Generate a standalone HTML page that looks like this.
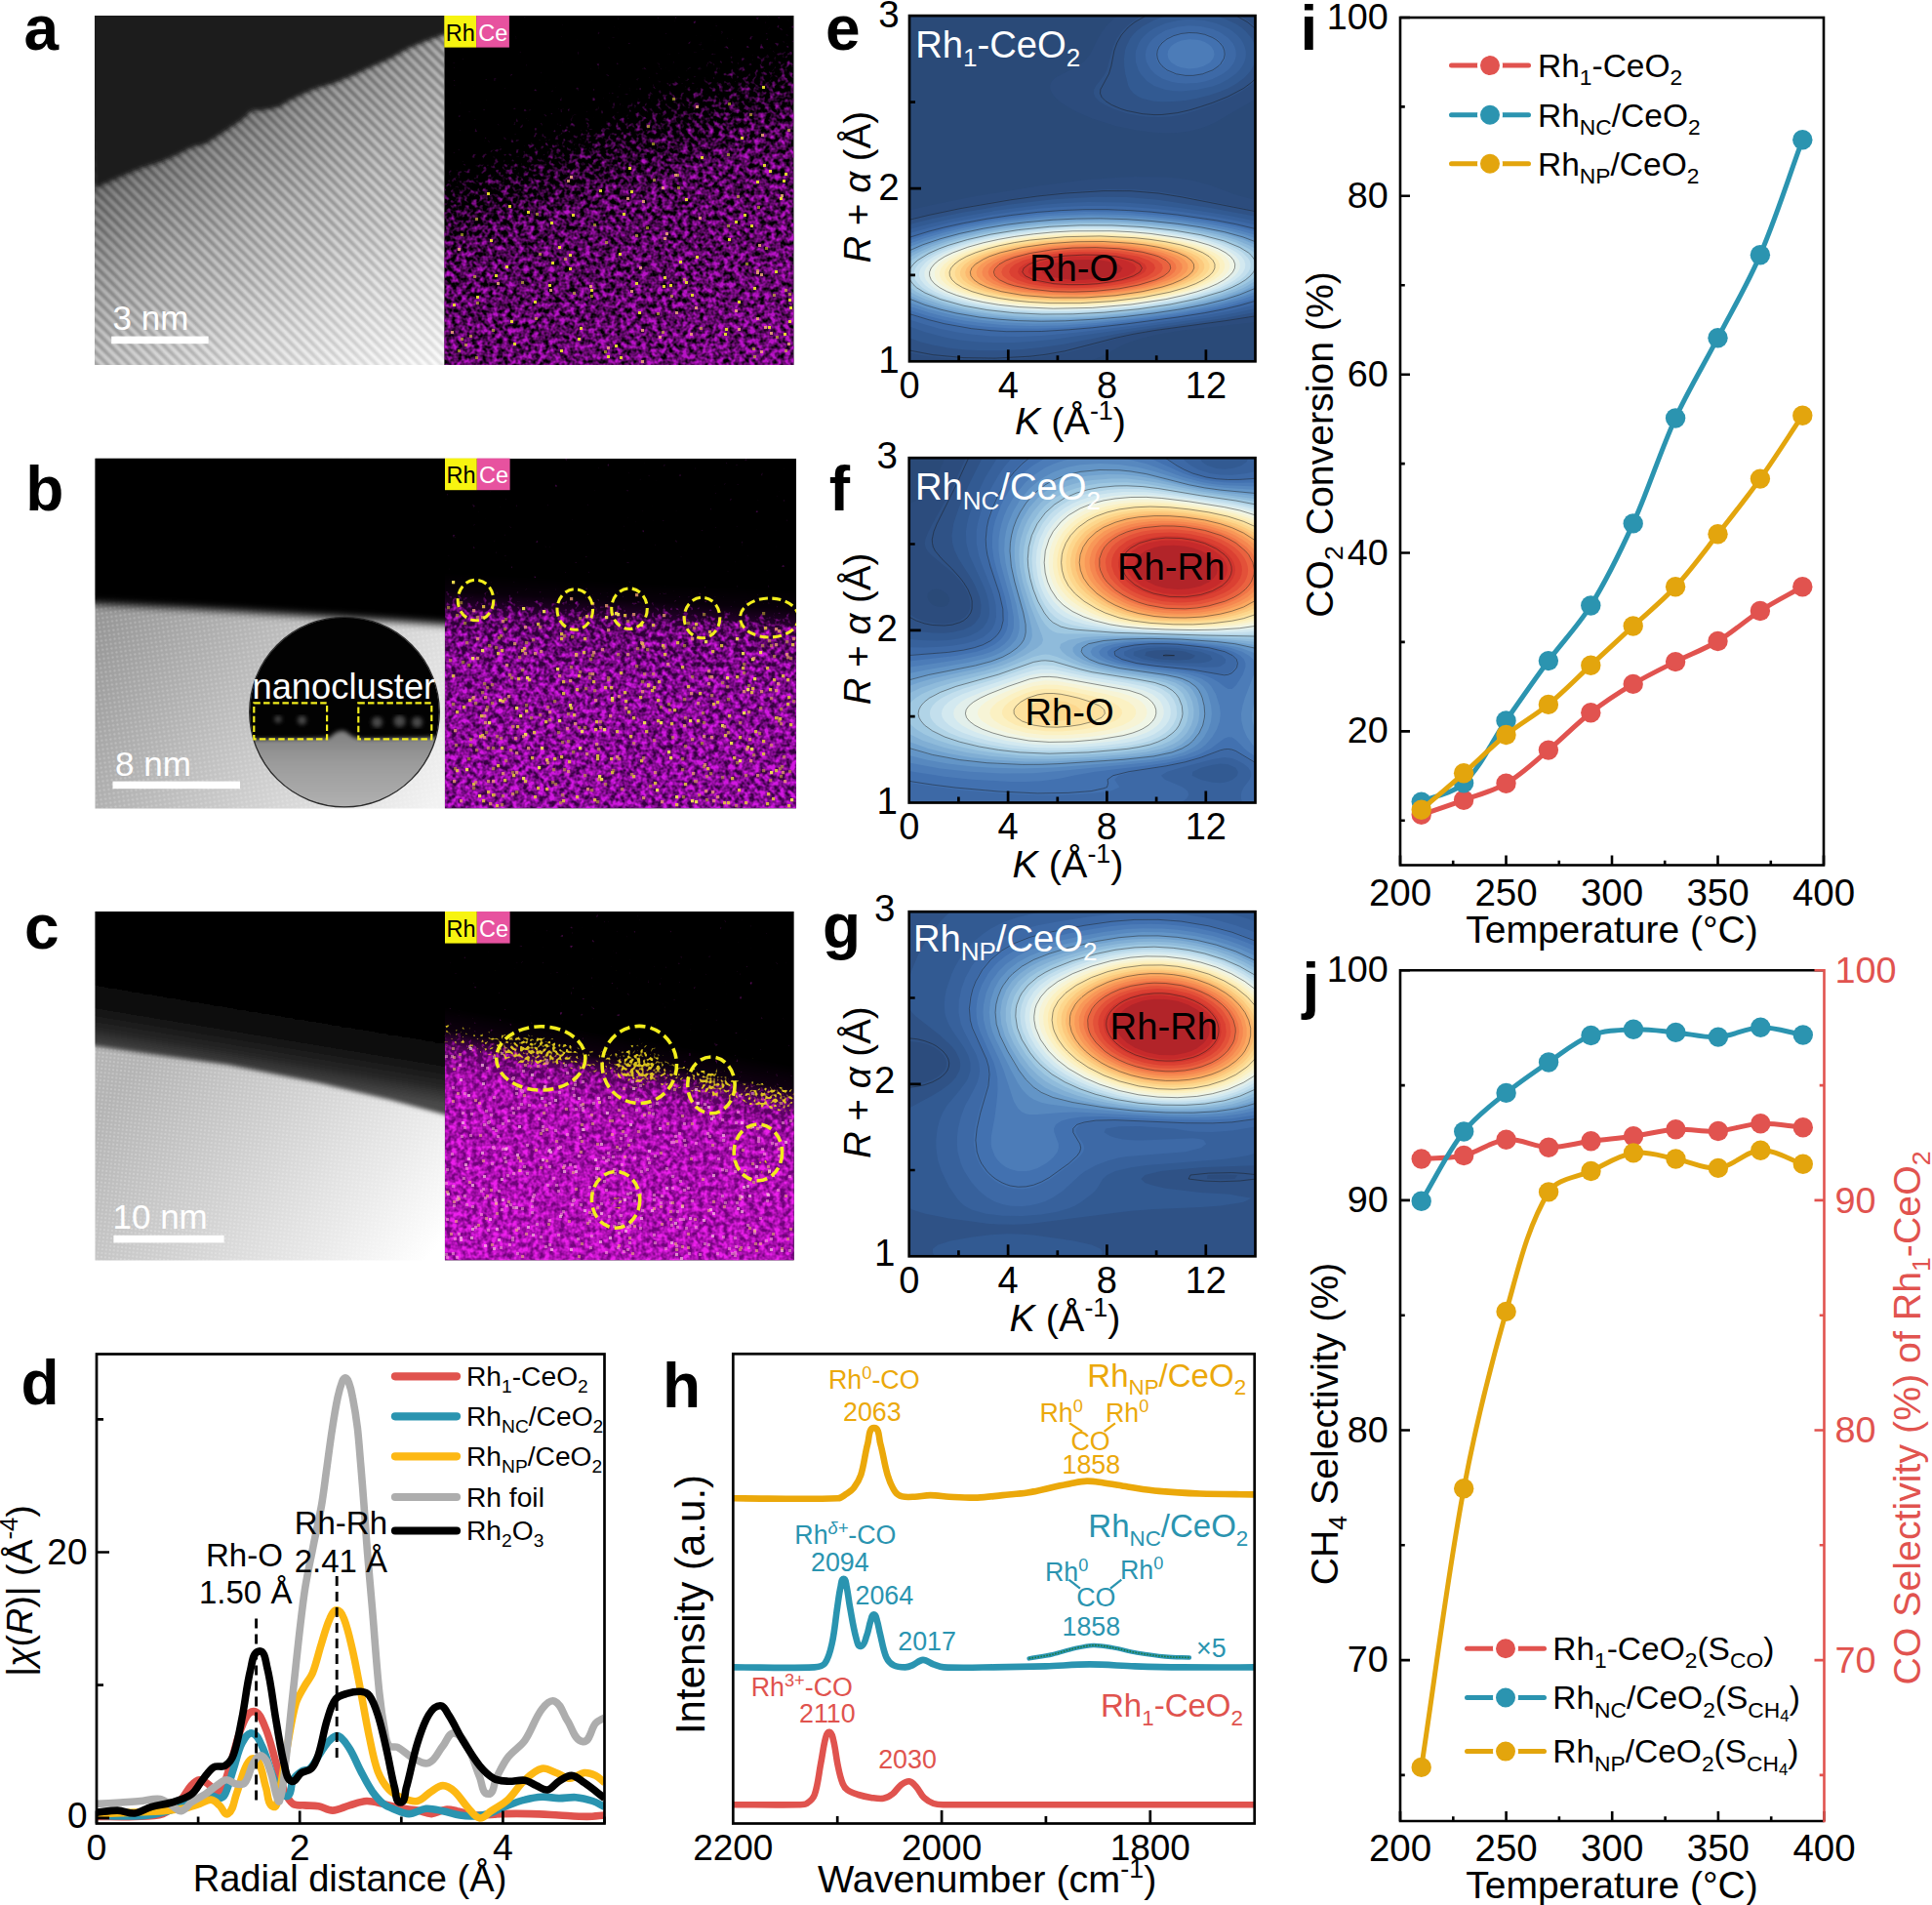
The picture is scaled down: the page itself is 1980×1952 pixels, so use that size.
<!DOCTYPE html><html><head><meta charset="utf-8"><title>Figure</title><style>html,body{margin:0;padding:0;background:#fff}svg{display:block}</style></head><body><svg width="1980" height="1952" viewBox="0 0 1980 1952" font-family="'Liberation Sans', sans-serif"><defs><clipPath id="ca1"><rect x="97" y="16" width="358.5" height="358"/></clipPath><clipPath id="ca2"><rect x="455.2" y="16" width="358.5" height="358"/></clipPath><linearGradient id="ga1" gradientUnits="userSpaceOnUse" x1="262" y1="84" x2="401" y2="397"><stop offset="0" stop-color="#505050"/><stop offset="0.14" stop-color="#868686"/><stop offset="0.4" stop-color="#b6b6b6"/><stop offset="0.7" stop-color="#e0e0e0"/><stop offset="1" stop-color="#fcfcfc"/></linearGradient><linearGradient id="ga1b" x1="0" y1="0" x2="1" y2="0"><stop offset="0" stop-color="#fff" stop-opacity="0"/><stop offset="1" stop-color="#fff" stop-opacity="0.35"/></linearGradient><pattern id="pst" patternUnits="userSpaceOnUse" width="7.8" height="20" patternTransform="rotate(-45 97 16)"><rect x="0" y="0" width="3.6" height="20" fill="#000" fill-opacity="0.34"/></pattern><filter id="bl1" x="-5%" y="-5%" width="110%" height="110%"><feGaussianBlur stdDeviation="1.3"/></filter><filter id="bl2" x="-5%" y="-5%" width="110%" height="110%"><feGaussianBlur stdDeviation="2.2"/></filter><linearGradient id="ga1s" gradientUnits="userSpaceOnUse" x1="262" y1="84" x2="401" y2="397"><stop offset="0" stop-color="#fff" stop-opacity="1"/><stop offset="0.5" stop-color="#fff" stop-opacity="0.75"/><stop offset="1" stop-color="#fff" stop-opacity="0.3"/></linearGradient><mask id="msa"><rect x="97" y="16" width="358" height="358" fill="url(#ga1s)"/></mask><linearGradient id="ga2" gradientUnits="userSpaceOnUse" x1="613" y1="74" x2="739" y2="411"><stop offset="0" stop-opacity="0"/><stop offset="0.1" stop-opacity="0.2"/><stop offset="0.2" stop-opacity="0.55"/><stop offset="0.36" stop-opacity="0.82"/><stop offset="1" stop-opacity="1"/></linearGradient><filter id="nza" filterUnits="userSpaceOnUse" x="455.2" y="16" width="358.5" height="358" color-interpolation-filters="sRGB"><feTurbulence type="fractalNoise" baseFrequency="0.19" numOctaves="2" seed="7" result="t1"/><feColorMatrix in="t1" type="matrix" values="0 0 0 0 0 0 0 0 0 0 0 0 0 0 0 1 0 0 0 0" result="n1"/><feComposite in="n1" in2="SourceAlpha" operator="arithmetic" k1="0" k2="2.2" k3="1.21" k4="-1.683" result="a1"/><feColorMatrix in="a1" type="matrix" values="0 0 0 0 0.72 0 0 0 0 0.07 0 0 0 0 0.78 0 0 0 1 0" result="m"/><feTurbulence type="fractalNoise" baseFrequency="0.2" numOctaves="1" seed="18" result="t2"/><feColorMatrix in="t2" type="matrix" values="0 0 0 0 0 0 0 0 0 0 0 0 0 0 0 0 1 0 0 0" result="n2"/><feComposite in="n2" in2="SourceAlpha" operator="arithmetic" k1="0" k2="30" k3="7.5" k4="-150" result="a2"/><feColorMatrix in="a2" type="matrix" values="0 0 0 0 0.93 0 0 0 0 0.85 0 0 0 0 0.15 0 0 0 1 0" result="yl"/><feMerge><feMergeNode in="m"/><feMergeNode in="yl"/></feMerge></filter><clipPath id="cb1"><rect x="97.5" y="469.8" width="358.5" height="358.6"/></clipPath><clipPath id="cb2"><rect x="455.8" y="469.8" width="360.3" height="358.6"/></clipPath><linearGradient id="gb1" gradientUnits="userSpaceOnUse" x1="120" y1="600" x2="440" y2="830"><stop offset="0" stop-color="#969696"/><stop offset="0.35" stop-color="#b6b6b6"/><stop offset="0.7" stop-color="#d8d8d8"/><stop offset="1" stop-color="#f2f2f2"/></linearGradient><filter id="bl4" x="-5%" y="-20%" width="110%" height="140%"><feGaussianBlur stdDeviation="4"/></filter><pattern id="pdot" patternUnits="userSpaceOnUse" width="4.6" height="4.6" patternTransform="rotate(-8)"><circle cx="2.3" cy="2.3" r="1.1" fill="#fff" fill-opacity="0.22"/></pattern><clipPath id="cbi"><circle cx="353" cy="729.6" r="97"/></clipPath><linearGradient id="gbi" x1="0" y1="0" x2="0" y2="1"><stop offset="0" stop-color="#808080"/><stop offset="0.4" stop-color="#9c9c9c"/><stop offset="1" stop-color="#b4b4b4"/></linearGradient><linearGradient id="gb2" gradientUnits="userSpaceOnUse" x1="632" y1="596" x2="620" y2="830"><stop offset="0" stop-opacity="0"/><stop offset="0.08" stop-opacity="0.15"/><stop offset="0.17" stop-opacity="0.8"/><stop offset="0.4" stop-opacity="0.95"/><stop offset="1" stop-opacity="1"/></linearGradient><filter id="nzb" filterUnits="userSpaceOnUse" x="455.8" y="469.8" width="360.3" height="358.6" color-interpolation-filters="sRGB"><feTurbulence type="fractalNoise" baseFrequency="0.19" numOctaves="2" seed="21" result="t1"/><feColorMatrix in="t1" type="matrix" values="0 0 0 0 0 0 0 0 0 0 0 0 0 0 0 1 0 0 0 0" result="n1"/><feComposite in="n1" in2="SourceAlpha" operator="arithmetic" k1="0" k2="2.4" k3="1.2" k4="-1.872" result="a1"/><feColorMatrix in="a1" type="matrix" values="0 0 0 0 0.82 0 0 0 0 0.09 0 0 0 0 0.88 0 0 0 1 0" result="m"/><feTurbulence type="fractalNoise" baseFrequency="0.21" numOctaves="1" seed="32" result="t2"/><feColorMatrix in="t2" type="matrix" values="0 0 0 0 0 0 0 0 0 0 0 0 0 0 0 0 1 0 0 0" result="n2"/><feComposite in="n2" in2="SourceAlpha" operator="arithmetic" k1="0" k2="14" k3="3.5" k4="-70" result="a2"/><feColorMatrix in="a2" type="matrix" values="0 0 0 0 0.9 0 0 0 0 0.74 0 0 0 0 0.3 0 0 0 1 0" result="yl"/><feColorMatrix in="SourceAlpha" type="matrix" values="0 0 0 0 0.22 0 0 0 0 0.0 0 0 0 0 0.26 0 0 0 1 0" result="bs"/><feMerge><feMergeNode in="bs"/><feMergeNode in="m"/><feMergeNode in="yl"/></feMerge></filter><clipPath id="cc1"><rect x="97.5" y="934" width="358.5" height="357.5"/></clipPath><clipPath id="cc2"><rect x="455.8" y="934" width="358" height="357.5"/></clipPath><linearGradient id="gc1" gradientUnits="userSpaceOnUse" x1="150" y1="1080" x2="430" y2="1300"><stop offset="0" stop-color="#b4b4b4"/><stop offset="0.4" stop-color="#d0d0d0"/><stop offset="0.75" stop-color="#eaeaea"/><stop offset="1" stop-color="#ffffff"/></linearGradient><linearGradient id="gc1d" gradientUnits="userSpaceOnUse" x1="288" y1="1030" x2="276" y2="1102"><stop offset="0" stop-color="#030303"/><stop offset="0.4" stop-color="#0c0c0c"/><stop offset="0.75" stop-color="#262626"/><stop offset="1" stop-color="#484848"/></linearGradient><pattern id="pdot2" patternUnits="userSpaceOnUse" width="4" height="4" patternTransform="rotate(6)"><circle cx="2" cy="2" r="0.9" fill="#fff" fill-opacity="0.3"/></pattern><linearGradient id="gc2" gradientUnits="userSpaceOnUse" x1="650" y1="1064" x2="610" y2="1302"><stop offset="0" stop-opacity="0"/><stop offset="0.1" stop-opacity="0.12"/><stop offset="0.17" stop-opacity="0.7"/><stop offset="0.3" stop-opacity="0.92"/><stop offset="1" stop-opacity="1"/></linearGradient><filter id="nzc" filterUnits="userSpaceOnUse" x="455.8" y="934" width="358" height="357.5" color-interpolation-filters="sRGB"><feTurbulence type="fractalNoise" baseFrequency="0.19" numOctaves="2" seed="33" result="t1"/><feColorMatrix in="t1" type="matrix" values="0 0 0 0 0 0 0 0 0 0 0 0 0 0 0 1 0 0 0 0" result="n1"/><feComposite in="n1" in2="SourceAlpha" operator="arithmetic" k1="0" k2="2.4" k3="1.2" k4="-1.872" result="a1"/><feColorMatrix in="a1" type="matrix" values="0 0 0 0 0.92 0 0 0 0 0.12 0 0 0 0 0.92 0 0 0 1 0" result="m"/><feTurbulence type="fractalNoise" baseFrequency="0.17" numOctaves="1" seed="44" result="t2"/><feColorMatrix in="t2" type="matrix" values="0 0 0 0 0 0 0 0 0 0 0 0 0 0 0 0 1 0 0 0" result="n2"/><feComposite in="n2" in2="SourceAlpha" operator="arithmetic" k1="0" k2="10" k3="2.5" k4="-50" result="a2"/><feColorMatrix in="a2" type="matrix" values="0 0 0 0 0.97 0 0 0 0 0.62 0 0 0 0 0.78 0 0 0 1 0" result="yl"/><feColorMatrix in="SourceAlpha" type="matrix" values="0 0 0 0 0.46 0 0 0 0 0.01 0 0 0 0 0.50 0 0 0 1 0" result="bs"/><feMerge><feMergeNode in="bs"/><feMergeNode in="m"/><feMergeNode in="yl"/></feMerge></filter><radialGradient id="rgy"><stop offset="0" stop-opacity="1"/><stop offset="0.5" stop-opacity="0.8"/><stop offset="1" stop-opacity="0"/></radialGradient><filter id="nzy" filterUnits="userSpaceOnUse" x="455.8" y="934" width="358" height="357.5" color-interpolation-filters="sRGB"><feTurbulence type="fractalNoise" baseFrequency="0.3" numOctaves="1" seed="5" result="t"/><feColorMatrix in="t" type="matrix" values="0 0 0 0 0 0 0 0 0 0 0 0 0 0 0 1 0 0 0 0" result="n"/><feComposite in="n" in2="SourceAlpha" operator="arithmetic" k1="0" k2="7" k3="3.0" k4="-5.75" result="a"/><feColorMatrix in="a" type="matrix" values="0 0 0 0 0.93 0 0 0 0 0.84 0 0 0 0 0.12 0 0 0 0.9 0"/></filter><clipPath id="ce"><rect x="932" y="16.1" width="354.5" height="354.2"/></clipPath><clipPath id="cf"><rect x="931.7" y="469.2" width="354.8" height="353.3"/></clipPath><clipPath id="cg"><rect x="931.7" y="934.2" width="354.8" height="353.1"/></clipPath><clipPath id="cd"><rect x="99" y="1387.5" width="520.5" height="481"/></clipPath><clipPath id="ch"><rect x="751.3" y="1387.3" width="534.4" height="481.2"/></clipPath></defs><rect width="1980" height="1952" fill="#fff"/><g clip-path="url(#ca1)">
<rect x="97" y="16" width="358.5" height="358" fill="url(#ga1)"/>
<rect x="97" y="16" width="358.5" height="358" fill="url(#ga1b)"/>
<g mask="url(#msa)"><rect x="90" y="10" width="372" height="372" fill="url(#pst)" filter="url(#bl1)"/></g>
<path d="M90 8L97 192.9L120 182.8L144.3 172.6L165 166L182 158.4L197 150.7L210.4 147.7L230 134.9L248.2 122.7L257.7 113.5L270 113.1L286 109.8L295.5 103.8L310 96.8L323.8 90.7L343 85.3L361.6 77.5L380 68.9L399.4 60.4L418 50.1L437.2 41.9L455.5 35.4L462 30L462 8Z" fill="#1c1c1c" filter="url(#bl2)"/>
<rect x="114.2" y="344.6" width="99.4" height="7.6" fill="#fff"/>
<text x="115.5" y="338" font-size="35" text-anchor="start" fill="#fff" ><tspan>3 nm</tspan></text>
</g>
<g clip-path="url(#ca2)"><rect x="455.2" y="16" width="358.5" height="358" fill="#000"/>
<rect x="455.2" y="16" width="358.5" height="358" fill="url(#ga2)" filter="url(#nza)"/>
<path d="M488 303h3v3h-3zM809 314h3v3h-3zM622 364h3v3h-3zM679 292h3v3h-3zM574 358h3v3h-3zM502 245h3v3h-3zM769 230h3v3h-3zM547 308h3v3h-3zM518 272h3v3h-3zM654 319h3v3h-3zM781 88h3v3h-3zM586 219h3v3h-3zM762 219h3v3h-3zM808 328h3v3h-3zM572 252h3v3h-3zM742 341h3v3h-3zM804 177h3v3h-3zM464 311h3v3h-3zM746 244h3v3h-3zM759 140h3v3h-3zM651 289h3v3h-3zM630 353h3v3h-3zM799 202h3v3h-3zM646 195h3v3h-3zM775 185h3v3h-3zM499 197h3v3h-3zM644 171h3v3h-3zM743 336h3v3h-3zM605 296h3v3h-3zM634 259h3v3h-3zM638 218h3v3h-3zM718 160h3v3h-3zM635 365h3v3h-3zM702 288h3v3h-3zM594 335h3v3h-3zM794 277h3v3h-3zM772 294h3v3h-3zM680 283h3v3h-3zM803 341h3v3h-3zM782 168h3v3h-3zM562 291h3v3h-3zM713 262h3v3h-3zM583 274h3v3h-3zM787 334h3v3h-3zM507 281h3v3h-3zM708 301h3v3h-3zM686 291h3v3h-3zM756 308h3v3h-3zM583 260h3v3h-3zM540 216h3v3h-3zM696 267h3v3h-3zM753 226h3v3h-3zM526 351h3v3h-3zM808 306h3v3h-3zM521 210h3v3h-3zM809 314h3v3h-3zM564 227h3v3h-3zM614 194h3v3h-3zM702 203h3v3h-3zM802 184h3v3h-3zM523 328h3v3h-3zM788 174h3v3h-3zM565 268h3v3h-3zM592 346h3v3h-3z" fill="#e8e02a" fill-opacity="0.95"/>
<path d="M804 358h3v3h-3zM755 200h3v3h-3zM487 223h3v3h-3zM746 105h3v3h-3zM469 358h3v3h-3zM772 364h3v3h-3zM662 232h3v3h-3zM485 282h3v3h-3zM663 128h3v3h-3zM472 239h3v3h-3zM578 264h3v3h-3zM678 339h3v3h-3zM620 247h3v3h-3zM795 344h3v3h-3zM673 320h3v3h-3zM608 229h3v3h-3zM472 346h3v3h-3zM476 352h3v3h-3zM668 146h3v3h-3zM745 230h3v3h-3zM693 178h3v3h-3zM552 259h3v3h-3zM651 240h3v3h-3zM807 132h3v3h-3zM768 116h3v3h-3zM687 302h3v3h-3zM717 335h3v3h-3zM534 288h3v3h-3zM694 191h3v3h-3zM771 356h3v3h-3zM792 301h3v3h-3zM689 100h3v3h-3zM587 299h3v3h-3zM548 325h3v3h-3zM488 309h3v3h-3zM619 359h3v3h-3zM808 300h3v3h-3zM481 343h3v3h-3zM804 296h3v3h-3zM776 211h3v3h-3zM504 337h3v3h-3zM549 218h3v3h-3zM669 183h3v3h-3zM700 285h3v3h-3zM775 276h3v3h-3zM605 302h3v3h-3zM745 157h3v3h-3zM764 269h3v3h-3zM784 253h3v3h-3zM487 365h3v3h-3z" fill="#d8cc30" fill-opacity="0.6"/>
<path d="M691 178h3v3h-3zM462 339h3v3h-3zM775 278h3v3h-3zM775 325h3v3h-3zM716 222h3v3h-3zM777 250h3v3h-3zM753 317h3v3h-3zM678 191h3v3h-3zM646 297h3v3h-3zM712 314h3v3h-3zM756 336h3v3h-3zM800 199h3v3h-3zM675 344h3v3h-3zM680 243h3v3h-3zM713 108h3v3h-3zM779 280h3v3h-3zM682 238h3v3h-3zM658 205h3v3h-3zM657 369h3v3h-3zM807 351h3v3h-3zM604 292h3v3h-3zM789 340h3v3h-3zM707 341h3v3h-3zM692 319h3v3h-3zM780 137h3v3h-3zM509 289h3v3h-3zM622 355h3v3h-3zM563 296h3v3h-3zM655 273h3v3h-3zM584 180h3v3h-3zM469 254h3v3h-3zM642 202h3v3h-3zM779 359h3v3h-3zM657 337h3v3h-3zM783 334h3v3h-3zM581 184h3v3h-3z" fill="#f0a878" fill-opacity="0.85"/>
</g>
<rect x="455.3" y="16" width="32.8" height="32.6" fill="#f7f410"/><rect x="488.1" y="16" width="33.8" height="32.6" fill="#e7529f"/>
<text x="456.8" y="41.5" font-size="23.5" text-anchor="start" fill="#000" ><tspan>Rh</tspan></text>
<text x="490.3" y="41.5" font-size="23.5" text-anchor="start" fill="#fff" ><tspan>Ce</tspan></text>
<text x="24.5" y="51.3" font-size="64" text-anchor="start" fill="#000" font-weight="bold" ><tspan>a</tspan></text>
<g clip-path="url(#cb1)">
<rect x="97" y="469" width="360" height="360" fill="url(#gb1)"/>
<rect x="97" y="469" width="360" height="360" fill="url(#pdot)"/>
<path d="M85 460H470V641L400 636L300 630L200 624L85 618Z" fill="#030303" filter="url(#bl4)"/>
<g clip-path="url(#cbi)"><rect x="250" y="628" width="206" height="204" fill="#020202"/>
<path d="M245 758C290 757 320 757 338 756C343 750 350 747 355 750C358 752 362 757 372 757C400 757 430 756 460 755V835H245Z" fill="url(#gbi)" filter="url(#bl2)"/>
<g fill="#4a4a4a" filter="url(#bl2)"><circle cx="285" cy="737" r="3.6"/><circle cx="309.5" cy="738" r="4.6"/><circle cx="386.5" cy="740" r="5.5"/><circle cx="409.5" cy="739" r="6"/><circle cx="427.5" cy="740" r="5.5"/></g>
</g>
<circle cx="353" cy="729.6" r="97.3" fill="none" stroke="#2a2a2a" stroke-width="1.3"/>
<g fill="none" stroke="#f3ee1c" stroke-width="2.2" stroke-dasharray="6.5 3.2"><rect x="260.3" y="720.3" width="74.8" height="37"/><rect x="367.3" y="720.3" width="75" height="37"/></g>
<text x="258.5" y="716.4" font-size="36.3" text-anchor="start" fill="#fff" ><tspan>nanocluster</tspan></text>
<rect x="115.5" y="800.6" width="130.5" height="7.6" fill="#fff"/>
<text x="118" y="794.7" font-size="35" text-anchor="start" fill="#fff" ><tspan>8 nm</tspan></text>
</g>
<g clip-path="url(#cb2)"><rect x="455.8" y="469.8" width="360.3" height="358.6" fill="#000"/>
<rect x="455.8" y="469.8" width="360.3" height="358.6" fill="url(#gb2)" filter="url(#nzb)"/>
<path d="M625 703h3.2v3.2h-3.2zM514 717h3.2v3.2h-3.2zM668 639h3.2v3.2h-3.2zM516 798h3.2v3.2h-3.2zM807 824h3.2v3.2h-3.2zM550 806h3.2v3.2h-3.2zM640 717h3.2v3.2h-3.2zM587 731h3.2v3.2h-3.2zM536 663h3.2v3.2h-3.2zM547 815h3.2v3.2h-3.2zM567 776h3.2v3.2h-3.2zM673 737h3.2v3.2h-3.2zM798 735h3.2v3.2h-3.2zM537 799h3.2v3.2h-3.2zM785 683h3.2v3.2h-3.2zM763 821h3.2v3.2h-3.2zM678 660h3.2v3.2h-3.2zM492 732h3.2v3.2h-3.2zM574 648h3.2v3.2h-3.2zM598 653h3.2v3.2h-3.2zM745 821h3.2v3.2h-3.2zM584 724h3.2v3.2h-3.2zM670 801h3.2v3.2h-3.2zM729 666h3.2v3.2h-3.2zM504 813h3.2v3.2h-3.2zM751 775h3.2v3.2h-3.2zM558 738h3.2v3.2h-3.2zM463 691h3.2v3.2h-3.2zM788 705h3.2v3.2h-3.2zM499 810h3.2v3.2h-3.2zM770 704h3.2v3.2h-3.2zM673 716h3.2v3.2h-3.2zM544 775h3.2v3.2h-3.2zM769 708h3.2v3.2h-3.2zM611 776h3.2v3.2h-3.2zM704 702h3.2v3.2h-3.2zM494 620h3.2v3.2h-3.2zM746 732h3.2v3.2h-3.2zM807 713h3.2v3.2h-3.2zM738 660h3.2v3.2h-3.2zM801 691h3.2v3.2h-3.2zM730 720h3.2v3.2h-3.2zM643 728h3.2v3.2h-3.2zM619 703h3.2v3.2h-3.2zM655 713h3.2v3.2h-3.2zM610 738h3.2v3.2h-3.2zM635 688h3.2v3.2h-3.2zM760 683h3.2v3.2h-3.2zM559 777h3.2v3.2h-3.2zM509 783h3.2v3.2h-3.2zM669 703h3.2v3.2h-3.2zM607 697h3.2v3.2h-3.2zM661 748h3.2v3.2h-3.2zM467 788h3.2v3.2h-3.2zM663 701h3.2v3.2h-3.2zM609 746h3.2v3.2h-3.2zM626 790h3.2v3.2h-3.2zM639 708h3.2v3.2h-3.2zM525 793h3.2v3.2h-3.2zM474 723h3.2v3.2h-3.2zM631 748h3.2v3.2h-3.2zM756 808h3.2v3.2h-3.2zM513 765h3.2v3.2h-3.2zM687 740h3.2v3.2h-3.2zM639 629h3.2v3.2h-3.2zM809 741h3.2v3.2h-3.2zM480 716h3.2v3.2h-3.2zM674 697h3.2v3.2h-3.2zM509 668h3.2v3.2h-3.2zM781 758h3.2v3.2h-3.2zM734 718h3.2v3.2h-3.2zM582 779h3.2v3.2h-3.2zM785 822h3.2v3.2h-3.2zM597 667h3.2v3.2h-3.2zM576 709h3.2v3.2h-3.2zM749 796h3.2v3.2h-3.2zM792 695h3.2v3.2h-3.2zM794 734h3.2v3.2h-3.2zM589 669h3.2v3.2h-3.2zM648 734h3.2v3.2h-3.2zM765 764h3.2v3.2h-3.2zM491 753h3.2v3.2h-3.2zM541 695h3.2v3.2h-3.2zM724 786h3.2v3.2h-3.2zM574 774h3.2v3.2h-3.2zM698 682h3.2v3.2h-3.2zM538 727h3.2v3.2h-3.2zM513 665h3.2v3.2h-3.2zM493 752h3.2v3.2h-3.2zM690 726h3.2v3.2h-3.2zM550 638h3.2v3.2h-3.2zM773 748h3.2v3.2h-3.2zM467 728h3.2v3.2h-3.2zM811 659h3.2v3.2h-3.2zM754 692h3.2v3.2h-3.2zM625 776h3.2v3.2h-3.2zM494 819h3.2v3.2h-3.2zM508 824h3.2v3.2h-3.2zM590 705h3.2v3.2h-3.2zM701 802h3.2v3.2h-3.2zM576 697h3.2v3.2h-3.2zM529 743h3.2v3.2h-3.2zM693 657h3.2v3.2h-3.2zM645 753h3.2v3.2h-3.2zM757 754h3.2v3.2h-3.2zM786 812h3.2v3.2h-3.2zM806 720h3.2v3.2h-3.2zM592 691h3.2v3.2h-3.2zM574 653h3.2v3.2h-3.2zM559 807h3.2v3.2h-3.2zM806 695h3.2v3.2h-3.2zM546 749h3.2v3.2h-3.2zM716 709h3.2v3.2h-3.2zM656 778h3.2v3.2h-3.2zM692 823h3.2v3.2h-3.2zM781 771h3.2v3.2h-3.2zM791 817h3.2v3.2h-3.2zM657 658h3.2v3.2h-3.2zM590 815h3.2v3.2h-3.2zM600 630h3.2v3.2h-3.2zM680 669h3.2v3.2h-3.2zM611 773h3.2v3.2h-3.2zM626 716h3.2v3.2h-3.2zM714 737h3.2v3.2h-3.2zM608 818h3.2v3.2h-3.2zM794 788h3.2v3.2h-3.2zM534 665h3.2v3.2h-3.2zM712 638h3.2v3.2h-3.2zM741 821h3.2v3.2h-3.2zM667 706h3.2v3.2h-3.2zM530 694h3.2v3.2h-3.2zM742 752h3.2v3.2h-3.2zM576 819h3.2v3.2h-3.2zM726 646h3.2v3.2h-3.2zM648 794h3.2v3.2h-3.2zM783 642h3.2v3.2h-3.2zM484 802h3.2v3.2h-3.2z" fill="#e2c040" fill-opacity="0.9"/>
<path d="M745 715h3.2v3.2h-3.2zM483 714h3.2v3.2h-3.2zM715 813h3.2v3.2h-3.2zM585 651h3.2v3.2h-3.2zM466 762h3.2v3.2h-3.2zM723 794h3.2v3.2h-3.2zM571 749h3.2v3.2h-3.2zM538 657h3.2v3.2h-3.2zM799 740h3.2v3.2h-3.2zM777 750h3.2v3.2h-3.2zM780 660h3.2v3.2h-3.2zM789 714h3.2v3.2h-3.2zM500 660h3.2v3.2h-3.2zM567 717h3.2v3.2h-3.2zM581 730h3.2v3.2h-3.2zM603 689h3.2v3.2h-3.2zM754 780h3.2v3.2h-3.2zM700 660h3.2v3.2h-3.2zM688 754h3.2v3.2h-3.2zM622 695h3.2v3.2h-3.2zM593 687h3.2v3.2h-3.2zM795 734h3.2v3.2h-3.2zM651 681h3.2v3.2h-3.2zM619 802h3.2v3.2h-3.2zM643 728h3.2v3.2h-3.2zM676 723h3.2v3.2h-3.2zM465 786h3.2v3.2h-3.2zM499 765h3.2v3.2h-3.2zM763 793h3.2v3.2h-3.2zM646 792h3.2v3.2h-3.2zM522 767h3.2v3.2h-3.2zM652 663h3.2v3.2h-3.2zM766 701h3.2v3.2h-3.2zM599 704h3.2v3.2h-3.2zM568 802h3.2v3.2h-3.2zM627 788h3.2v3.2h-3.2zM573 821h3.2v3.2h-3.2zM799 794h3.2v3.2h-3.2zM507 662h3.2v3.2h-3.2zM612 797h3.2v3.2h-3.2zM739 795h3.2v3.2h-3.2zM498 703h3.2v3.2h-3.2zM698 776h3.2v3.2h-3.2zM701 734h3.2v3.2h-3.2zM662 664h3.2v3.2h-3.2zM665 804h3.2v3.2h-3.2zM521 690h3.2v3.2h-3.2zM684 720h3.2v3.2h-3.2zM467 629h3.2v3.2h-3.2zM493 708h3.2v3.2h-3.2zM679 662h3.2v3.2h-3.2zM802 774h3.2v3.2h-3.2zM798 786h3.2v3.2h-3.2zM598 793h3.2v3.2h-3.2zM728 711h3.2v3.2h-3.2zM504 765h3.2v3.2h-3.2zM552 641h3.2v3.2h-3.2zM460 675h3.2v3.2h-3.2zM669 757h3.2v3.2h-3.2zM604 674h3.2v3.2h-3.2zM566 787h3.2v3.2h-3.2zM642 635h3.2v3.2h-3.2zM503 700h3.2v3.2h-3.2zM514 814h3.2v3.2h-3.2zM727 791h3.2v3.2h-3.2zM458 621h3.2v3.2h-3.2zM577 650h3.2v3.2h-3.2zM787 655h3.2v3.2h-3.2zM805 656h3.2v3.2h-3.2zM808 789h3.2v3.2h-3.2zM577 787h3.2v3.2h-3.2zM477 657h3.2v3.2h-3.2zM622 693h3.2v3.2h-3.2zM753 824h3.2v3.2h-3.2zM720 784h3.2v3.2h-3.2zM487 767h3.2v3.2h-3.2zM537 751h3.2v3.2h-3.2zM788 798h3.2v3.2h-3.2zM633 776h3.2v3.2h-3.2zM812 717h3.2v3.2h-3.2zM708 692h3.2v3.2h-3.2zM575 759h3.2v3.2h-3.2zM720 628h3.2v3.2h-3.2zM513 823h3.2v3.2h-3.2zM497 749h3.2v3.2h-3.2zM614 738h3.2v3.2h-3.2zM581 758h3.2v3.2h-3.2zM778 724h3.2v3.2h-3.2zM565 800h3.2v3.2h-3.2zM657 697h3.2v3.2h-3.2zM531 672h3.2v3.2h-3.2zM608 706h3.2v3.2h-3.2zM606 670h3.2v3.2h-3.2zM484 806h3.2v3.2h-3.2zM797 737h3.2v3.2h-3.2zM719 729h3.2v3.2h-3.2zM586 769h3.2v3.2h-3.2zM726 692h3.2v3.2h-3.2zM710 642h3.2v3.2h-3.2zM481 762h3.2v3.2h-3.2zM503 719h3.2v3.2h-3.2zM712 799h3.2v3.2h-3.2zM538 721h3.2v3.2h-3.2zM800 784h3.2v3.2h-3.2zM809 673h3.2v3.2h-3.2zM534 685h3.2v3.2h-3.2zM479 776h3.2v3.2h-3.2zM479 680h3.2v3.2h-3.2zM598 744h3.2v3.2h-3.2zM771 772h3.2v3.2h-3.2zM806 672h3.2v3.2h-3.2zM560 723h3.2v3.2h-3.2zM512 650h3.2v3.2h-3.2zM545 654h3.2v3.2h-3.2zM700 715h3.2v3.2h-3.2zM761 679h3.2v3.2h-3.2zM761 688h3.2v3.2h-3.2zM524 743h3.2v3.2h-3.2zM781 788h3.2v3.2h-3.2zM475 637h3.2v3.2h-3.2zM488 631h3.2v3.2h-3.2zM659 689h3.2v3.2h-3.2zM789 660h3.2v3.2h-3.2zM512 755h3.2v3.2h-3.2zM543 734h3.2v3.2h-3.2zM701 763h3.2v3.2h-3.2zM528 810h3.2v3.2h-3.2zM723 818h3.2v3.2h-3.2zM524 790h3.2v3.2h-3.2zM699 815h3.2v3.2h-3.2zM799 725h3.2v3.2h-3.2zM504 786h3.2v3.2h-3.2zM605 808h3.2v3.2h-3.2zM636 807h3.2v3.2h-3.2zM516 643h3.2v3.2h-3.2zM517 778h3.2v3.2h-3.2zM562 736h3.2v3.2h-3.2zM471 616h3.2v3.2h-3.2zM495 699h3.2v3.2h-3.2zM516 715h3.2v3.2h-3.2zM718 760h3.2v3.2h-3.2zM498 723h3.2v3.2h-3.2zM792 671h3.2v3.2h-3.2zM481 762h3.2v3.2h-3.2zM668 689h3.2v3.2h-3.2zM698 787h3.2v3.2h-3.2zM517 633h3.2v3.2h-3.2zM611 820h3.2v3.2h-3.2zM481 756h3.2v3.2h-3.2zM486 800h3.2v3.2h-3.2zM739 698h3.2v3.2h-3.2zM711 799h3.2v3.2h-3.2zM612 766h3.2v3.2h-3.2zM584 682h3.2v3.2h-3.2zM486 719h3.2v3.2h-3.2zM781 627h3.2v3.2h-3.2zM510 652h3.2v3.2h-3.2zM473 677h3.2v3.2h-3.2zM745 749h3.2v3.2h-3.2zM505 813h3.2v3.2h-3.2zM632 669h3.2v3.2h-3.2zM648 760h3.2v3.2h-3.2zM720 739h3.2v3.2h-3.2zM704 637h3.2v3.2h-3.2zM603 693h3.2v3.2h-3.2zM789 762h3.2v3.2h-3.2zM575 813h3.2v3.2h-3.2zM685 726h3.2v3.2h-3.2zM463 720h3.2v3.2h-3.2zM523 693h3.2v3.2h-3.2zM758 640h3.2v3.2h-3.2zM744 702h3.2v3.2h-3.2zM508 753h3.2v3.2h-3.2zM593 632h3.2v3.2h-3.2zM552 731h3.2v3.2h-3.2zM757 739h3.2v3.2h-3.2zM658 775h3.2v3.2h-3.2zM592 744h3.2v3.2h-3.2z" fill="#c8a838" fill-opacity="0.6"/>
<path d="M535 622h3.2v3.2h-3.2zM493 665h3.2v3.2h-3.2zM630 627h3.2v3.2h-3.2zM535 796h3.2v3.2h-3.2zM692 815h3.2v3.2h-3.2zM684 769h3.2v3.2h-3.2zM672 808h3.2v3.2h-3.2zM722 656h3.2v3.2h-3.2zM706 737h3.2v3.2h-3.2zM708 819h3.2v3.2h-3.2zM551 785h3.2v3.2h-3.2zM477 787h3.2v3.2h-3.2zM618 746h3.2v3.2h-3.2zM593 765h3.2v3.2h-3.2zM626 714h3.2v3.2h-3.2zM712 820h3.2v3.2h-3.2zM537 751h3.2v3.2h-3.2zM748 760h3.2v3.2h-3.2zM810 818h3.2v3.2h-3.2zM490 814h3.2v3.2h-3.2zM754 653h3.2v3.2h-3.2zM620 631h3.2v3.2h-3.2zM572 737h3.2v3.2h-3.2zM554 765h3.2v3.2h-3.2zM528 724h3.2v3.2h-3.2zM556 625h3.2v3.2h-3.2zM765 705h3.2v3.2h-3.2zM770 674h3.2v3.2h-3.2zM511 716h3.2v3.2h-3.2zM595 748h3.2v3.2h-3.2zM583 721h3.2v3.2h-3.2zM570 684h3.2v3.2h-3.2zM757 778h3.2v3.2h-3.2zM686 775h3.2v3.2h-3.2zM615 797h3.2v3.2h-3.2zM659 739h3.2v3.2h-3.2zM772 694h3.2v3.2h-3.2zM632 628h3.2v3.2h-3.2zM760 668h3.2v3.2h-3.2zM789 790h3.2v3.2h-3.2zM744 693h3.2v3.2h-3.2zM676 739h3.2v3.2h-3.2zM656 639h3.2v3.2h-3.2zM739 742h3.2v3.2h-3.2zM532 732h3.2v3.2h-3.2zM769 766h3.2v3.2h-3.2zM761 729h3.2v3.2h-3.2zM778 667h3.2v3.2h-3.2zM463 595h3.2v3.2h-3.2zM613 794h3.2v3.2h-3.2zM483 673h3.2v3.2h-3.2zM500 739h3.2v3.2h-3.2zM539 693h3.2v3.2h-3.2z" fill="#f0e050" fill-opacity="0.95"/>
<path d="M514 791h3.2v3.2h-3.2zM782 651h3.2v3.2h-3.2zM560 780h3.2v3.2h-3.2zM805 669h3.2v3.2h-3.2zM709 791h3.2v3.2h-3.2zM514 635h3.2v3.2h-3.2zM764 766h3.2v3.2h-3.2zM640 724h3.2v3.2h-3.2zM631 774h3.2v3.2h-3.2zM496 713h3.2v3.2h-3.2zM537 641h3.2v3.2h-3.2zM683 679h3.2v3.2h-3.2zM801 790h3.2v3.2h-3.2zM584 612h3.2v3.2h-3.2zM642 669h3.2v3.2h-3.2zM658 661h3.2v3.2h-3.2zM610 761h3.2v3.2h-3.2zM721 782h3.2v3.2h-3.2zM601 807h3.2v3.2h-3.2zM562 728h3.2v3.2h-3.2zM504 799h3.2v3.2h-3.2zM606 617h3.2v3.2h-3.2zM471 819h3.2v3.2h-3.2zM663 700h3.2v3.2h-3.2zM520 712h3.2v3.2h-3.2zM633 712h3.2v3.2h-3.2zM464 799h3.2v3.2h-3.2zM518 680h3.2v3.2h-3.2zM589 670h3.2v3.2h-3.2zM493 631h3.2v3.2h-3.2zM488 673h3.2v3.2h-3.2zM537 668h3.2v3.2h-3.2zM766 728h3.2v3.2h-3.2zM488 653h3.2v3.2h-3.2zM767 756h3.2v3.2h-3.2zM700 742h3.2v3.2h-3.2zM607 667h3.2v3.2h-3.2zM657 707h3.2v3.2h-3.2zM547 668h3.2v3.2h-3.2zM501 822h3.2v3.2h-3.2zM600 771h3.2v3.2h-3.2zM540 765h3.2v3.2h-3.2zM725 699h3.2v3.2h-3.2zM728 754h3.2v3.2h-3.2zM708 653h3.2v3.2h-3.2zM620 619h3.2v3.2h-3.2zM526 658h3.2v3.2h-3.2zM730 819h3.2v3.2h-3.2zM606 689h3.2v3.2h-3.2zM656 657h3.2v3.2h-3.2zM588 740h3.2v3.2h-3.2zM797 645h3.2v3.2h-3.2zM495 754h3.2v3.2h-3.2zM794 643h3.2v3.2h-3.2zM812 653h3.2v3.2h-3.2zM670 790h3.2v3.2h-3.2zM761 707h3.2v3.2h-3.2zM616 664h3.2v3.2h-3.2zM497 726h3.2v3.2h-3.2zM648 628h3.2v3.2h-3.2zM741 743h3.2v3.2h-3.2zM794 706h3.2v3.2h-3.2zM771 673h3.2v3.2h-3.2zM527 755h3.2v3.2h-3.2zM796 699h3.2v3.2h-3.2zM583 696h3.2v3.2h-3.2zM768 778h3.2v3.2h-3.2zM609 716h3.2v3.2h-3.2zM722 809h3.2v3.2h-3.2zM658 816h3.2v3.2h-3.2zM794 659h3.2v3.2h-3.2zM679 629h3.2v3.2h-3.2zM714 719h3.2v3.2h-3.2zM614 744h3.2v3.2h-3.2zM495 732h3.2v3.2h-3.2zM725 686h3.2v3.2h-3.2zM803 799h3.2v3.2h-3.2zM572 691h3.2v3.2h-3.2zM728 692h3.2v3.2h-3.2zM484 713h3.2v3.2h-3.2zM581 789h3.2v3.2h-3.2zM729 810h3.2v3.2h-3.2zM535 753h3.2v3.2h-3.2zM465 747h3.2v3.2h-3.2zM484 624h3.2v3.2h-3.2zM528 770h3.2v3.2h-3.2zM524 812h3.2v3.2h-3.2zM624 732h3.2v3.2h-3.2zM707 709h3.2v3.2h-3.2zM553 666h3.2v3.2h-3.2zM499 799h3.2v3.2h-3.2zM708 756h3.2v3.2h-3.2zM580 745h3.2v3.2h-3.2zM622 644h3.2v3.2h-3.2zM720 753h3.2v3.2h-3.2zM734 815h3.2v3.2h-3.2zM775 793h3.2v3.2h-3.2zM677 820h3.2v3.2h-3.2zM528 790h3.2v3.2h-3.2zM779 707h3.2v3.2h-3.2zM496 739h3.2v3.2h-3.2zM651 608h3.2v3.2h-3.2z" fill="#e89a70" fill-opacity="0.8"/>
<g fill="none" stroke="#f3ee1c" stroke-width="3.1" stroke-dasharray="9 4.5"><ellipse cx="487.5" cy="615" rx="18.3" ry="20.8"/><ellipse cx="589.3" cy="624.5" rx="18.3" ry="20.8"/><ellipse cx="645" cy="623.7" rx="18.3" ry="20.8"/><ellipse cx="719.5" cy="633" rx="18.3" ry="20.8"/><ellipse cx="788.5" cy="633" rx="30" ry="20"/></g>
</g>
<rect x="456" y="469.6" width="32.8" height="32.6" fill="#f7f410"/><rect x="488.8" y="469.6" width="33.8" height="32.6" fill="#e7529f"/>
<text x="457.5" y="495.1" font-size="23.5" text-anchor="start" fill="#000" ><tspan>Rh</tspan></text>
<text x="491" y="495.1" font-size="23.5" text-anchor="start" fill="#fff" ><tspan>Ce</tspan></text>
<text x="26.3" y="522.5" font-size="64" text-anchor="start" fill="#000" font-weight="bold" ><tspan>b</tspan></text>
<g clip-path="url(#cc1)">
<rect x="97" y="933" width="360" height="360" fill="url(#gc1)"/>
<rect x="97" y="933" width="360" height="360" fill="url(#pdot2)"/>
<path d="M85 925H470V1146L400 1127L326 1109.6L233 1091L150 1079.5L85 1070Z" fill="url(#gc1d)" filter="url(#bl2)"/>
<rect x="116.4" y="1265.8" width="113.2" height="7.6" fill="#fff"/>
<text x="115.5" y="1258.6" font-size="35" text-anchor="start" fill="#fff" ><tspan>10 nm</tspan></text>
</g>
<g clip-path="url(#cc2)"><rect x="455.8" y="934" width="358" height="357.5" fill="#000"/>
<rect x="455.8" y="934" width="358" height="357.5" fill="url(#gc2)" filter="url(#nzc)"/>
<path d="M536 1194h3v3h-3zM753 1149h3v3h-3zM629 1201h3v3h-3zM504 1174h3v3h-3zM528 1119h3v3h-3zM742 1231h3v3h-3zM583 1192h3v3h-3zM514 1176h3v3h-3zM481 1162h3v3h-3zM470 1090h3v3h-3zM457 1287h3v3h-3zM551 1145h3v3h-3zM586 1229h3v3h-3zM632 1277h3v3h-3zM634 1256h3v3h-3zM524 1104h3v3h-3zM496 1226h3v3h-3zM544 1241h3v3h-3zM676 1231h3v3h-3zM505 1123h3v3h-3zM562 1274h3v3h-3zM544 1235h3v3h-3zM808 1204h3v3h-3zM619 1253h3v3h-3zM468 1225h3v3h-3zM532 1198h3v3h-3zM507 1231h3v3h-3zM633 1262h3v3h-3zM712 1170h3v3h-3zM503 1191h3v3h-3zM780 1176h3v3h-3zM734 1283h3v3h-3zM656 1199h3v3h-3zM480 1071h3v3h-3zM462 1181h3v3h-3zM704 1216h3v3h-3zM475 1154h3v3h-3zM513 1238h3v3h-3zM457 1248h3v3h-3zM739 1224h3v3h-3zM739 1146h3v3h-3zM652 1223h3v3h-3zM463 1214h3v3h-3zM633 1252h3v3h-3zM717 1134h3v3h-3zM605 1265h3v3h-3zM507 1157h3v3h-3zM735 1186h3v3h-3zM539 1172h3v3h-3zM456 1211h3v3h-3zM482 1140h3v3h-3zM525 1139h3v3h-3zM739 1197h3v3h-3zM524 1269h3v3h-3zM561 1178h3v3h-3zM785 1222h3v3h-3zM596 1107h3v3h-3zM657 1239h3v3h-3zM753 1276h3v3h-3zM576 1240h3v3h-3zM462 1081h3v3h-3zM725 1274h3v3h-3zM593 1164h3v3h-3zM574 1243h3v3h-3zM607 1129h3v3h-3zM562 1194h3v3h-3zM770 1119h3v3h-3zM572 1118h3v3h-3zM580 1098h3v3h-3zM662 1197h3v3h-3zM663 1186h3v3h-3zM701 1172h3v3h-3zM622 1187h3v3h-3zM691 1163h3v3h-3zM499 1149h3v3h-3zM655 1111h3v3h-3zM644 1255h3v3h-3zM533 1130h3v3h-3zM509 1163h3v3h-3zM627 1184h3v3h-3zM500 1148h3v3h-3zM553 1266h3v3h-3zM623 1245h3v3h-3zM544 1229h3v3h-3zM456 1284h3v3h-3zM642 1279h3v3h-3zM546 1223h3v3h-3zM772 1259h3v3h-3zM688 1204h3v3h-3zM502 1141h3v3h-3zM636 1192h3v3h-3zM505 1175h3v3h-3zM596 1136h3v3h-3zM580 1161h3v3h-3zM668 1140h3v3h-3zM634 1199h3v3h-3zM492 1219h3v3h-3zM740 1266h3v3h-3zM747 1175h3v3h-3zM640 1162h3v3h-3zM588 1194h3v3h-3zM705 1283h3v3h-3zM721 1130h3v3h-3zM669 1228h3v3h-3zM463 1283h3v3h-3zM790 1170h3v3h-3zM555 1157h3v3h-3zM757 1121h3v3h-3zM517 1189h3v3h-3zM525 1236h3v3h-3zM474 1206h3v3h-3zM577 1193h3v3h-3zM613 1128h3v3h-3zM524 1267h3v3h-3zM746 1278h3v3h-3zM591 1268h3v3h-3zM560 1213h3v3h-3zM743 1198h3v3h-3zM477 1233h3v3h-3zM740 1167h3v3h-3zM644 1272h3v3h-3zM499 1259h3v3h-3zM603 1215h3v3h-3zM516 1185h3v3h-3zM585 1233h3v3h-3zM646 1252h3v3h-3zM578 1090h3v3h-3zM700 1218h3v3h-3zM514 1150h3v3h-3zM561 1103h3v3h-3zM535 1096h3v3h-3zM682 1196h3v3h-3zM486 1256h3v3h-3zM534 1117h3v3h-3zM695 1160h3v3h-3zM512 1277h3v3h-3zM510 1219h3v3h-3zM594 1233h3v3h-3zM726 1163h3v3h-3zM594 1131h3v3h-3zM622 1180h3v3h-3zM475 1224h3v3h-3zM652 1223h3v3h-3zM765 1254h3v3h-3zM530 1134h3v3h-3zM533 1116h3v3h-3zM642 1256h3v3h-3zM724 1160h3v3h-3zM757 1224h3v3h-3zM618 1209h3v3h-3zM687 1254h3v3h-3zM457 1197h3v3h-3zM776 1165h3v3h-3zM463 1113h3v3h-3zM681 1278h3v3h-3zM754 1231h3v3h-3zM519 1203h3v3h-3zM518 1234h3v3h-3zM636 1253h3v3h-3zM782 1181h3v3h-3zM475 1119h3v3h-3zM669 1223h3v3h-3zM766 1277h3v3h-3zM752 1199h3v3h-3zM628 1255h3v3h-3zM498 1093h3v3h-3zM730 1143h3v3h-3zM699 1248h3v3h-3zM568 1157h3v3h-3zM541 1131h3v3h-3zM752 1282h3v3h-3zM477 1196h3v3h-3zM696 1248h3v3h-3zM655 1257h3v3h-3zM797 1183h3v3h-3zM495 1151h3v3h-3zM610 1205h3v3h-3zM606 1243h3v3h-3zM586 1114h3v3h-3zM588 1110h3v3h-3zM573 1174h3v3h-3zM492 1243h3v3h-3zM571 1219h3v3h-3zM587 1228h3v3h-3zM670 1183h3v3h-3zM505 1082h3v3h-3zM528 1114h3v3h-3zM555 1153h3v3h-3zM620 1282h3v3h-3zM521 1274h3v3h-3zM651 1136h3v3h-3zM794 1171h3v3h-3zM635 1244h3v3h-3zM597 1156h3v3h-3zM467 1228h3v3h-3zM525 1201h3v3h-3zM566 1206h3v3h-3zM655 1222h3v3h-3zM529 1283h3v3h-3zM549 1253h3v3h-3zM677 1224h3v3h-3zM620 1218h3v3h-3zM669 1264h3v3h-3zM696 1209h3v3h-3zM620 1188h3v3h-3zM592 1183h3v3h-3zM472 1163h3v3h-3zM651 1125h3v3h-3zM473 1139h3v3h-3zM712 1256h3v3h-3zM784 1270h3v3h-3zM700 1150h3v3h-3zM562 1249h3v3h-3zM652 1125h3v3h-3zM645 1221h3v3h-3zM755 1138h3v3h-3zM522 1233h3v3h-3zM749 1283h3v3h-3zM809 1147h3v3h-3zM494 1217h3v3h-3zM588 1106h3v3h-3zM670 1272h3v3h-3zM587 1121h3v3h-3zM634 1176h3v3h-3zM649 1185h3v3h-3zM801 1149h3v3h-3zM693 1256h3v3h-3zM688 1216h3v3h-3zM689 1169h3v3h-3zM702 1257h3v3h-3zM465 1268h3v3h-3zM796 1218h3v3h-3zM693 1240h3v3h-3zM713 1129h3v3h-3zM504 1155h3v3h-3zM647 1107h3v3h-3zM798 1189h3v3h-3zM785 1229h3v3h-3zM534 1237h3v3h-3zM571 1175h3v3h-3zM456 1081h3v3h-3zM716 1284h3v3h-3zM520 1147h3v3h-3zM559 1085h3v3h-3zM615 1232h3v3h-3zM638 1281h3v3h-3zM464 1234h3v3h-3zM692 1275h3v3h-3zM634 1230h3v3h-3zM752 1285h3v3h-3zM789 1268h3v3h-3zM506 1228h3v3h-3zM645 1167h3v3h-3zM721 1273h3v3h-3zM539 1201h3v3h-3zM558 1276h3v3h-3zM787 1198h3v3h-3zM497 1137h3v3h-3zM467 1287h3v3h-3zM642 1222h3v3h-3zM665 1132h3v3h-3zM776 1168h3v3h-3zM603 1250h3v3h-3zM513 1078h3v3h-3zM612 1196h3v3h-3zM672 1129h3v3h-3zM700 1167h3v3h-3zM635 1165h3v3h-3zM686 1231h3v3h-3zM774 1204h3v3h-3zM808 1280h3v3h-3zM628 1197h3v3h-3zM569 1213h3v3h-3zM524 1134h3v3h-3zM617 1185h3v3h-3zM752 1267h3v3h-3zM530 1257h3v3h-3zM664 1190h3v3h-3zM562 1129h3v3h-3zM772 1262h3v3h-3zM518 1175h3v3h-3zM469 1263h3v3h-3zM589 1135h3v3h-3zM687 1169h3v3h-3zM604 1277h3v3h-3zM525 1103h3v3h-3zM483 1235h3v3h-3zM571 1264h3v3h-3zM596 1134h3v3h-3zM778 1247h3v3h-3zM649 1229h3v3h-3zM545 1225h3v3h-3zM778 1153h3v3h-3zM623 1123h3v3h-3zM708 1229h3v3h-3z" fill="#f6a8d0" fill-opacity="0.55"/>
<path d="M687 1272h3v3h-3zM528 1236h3v3h-3zM505 1278h3v3h-3zM531 1153h3v3h-3zM698 1235h3v3h-3zM640 1260h3v3h-3zM589 1103h3v3h-3zM786 1223h3v3h-3zM614 1271h3v3h-3zM656 1247h3v3h-3zM555 1187h3v3h-3zM493 1090h3v3h-3zM612 1124h3v3h-3zM720 1249h3v3h-3zM513 1207h3v3h-3zM544 1100h3v3h-3zM479 1121h3v3h-3zM712 1115h3v3h-3zM554 1124h3v3h-3zM691 1252h3v3h-3zM727 1238h3v3h-3zM564 1279h3v3h-3zM675 1155h3v3h-3zM471 1269h3v3h-3zM545 1264h3v3h-3zM501 1248h3v3h-3zM706 1247h3v3h-3zM621 1139h3v3h-3zM517 1176h3v3h-3zM458 1222h3v3h-3zM774 1194h3v3h-3zM615 1242h3v3h-3zM471 1267h3v3h-3zM609 1187h3v3h-3zM496 1275h3v3h-3zM529 1182h3v3h-3zM471 1105h3v3h-3zM596 1156h3v3h-3zM767 1224h3v3h-3zM510 1269h3v3h-3zM493 1180h3v3h-3zM730 1242h3v3h-3zM728 1145h3v3h-3zM563 1179h3v3h-3zM514 1228h3v3h-3zM540 1256h3v3h-3zM664 1178h3v3h-3zM692 1284h3v3h-3zM589 1199h3v3h-3zM729 1265h3v3h-3zM648 1114h3v3h-3zM483 1258h3v3h-3zM697 1288h3v3h-3zM759 1240h3v3h-3zM473 1149h3v3h-3zM730 1203h3v3h-3zM787 1199h3v3h-3zM508 1258h3v3h-3zM476 1192h3v3h-3zM759 1149h3v3h-3zM584 1279h3v3h-3zM765 1214h3v3h-3zM755 1237h3v3h-3zM479 1186h3v3h-3zM598 1239h3v3h-3zM562 1177h3v3h-3zM610 1196h3v3h-3zM621 1255h3v3h-3zM740 1162h3v3h-3zM761 1215h3v3h-3zM725 1133h3v3h-3zM557 1112h3v3h-3zM615 1171h3v3h-3zM759 1225h3v3h-3zM804 1169h3v3h-3zM714 1129h3v3h-3zM483 1213h3v3h-3zM482 1267h3v3h-3zM592 1124h3v3h-3zM682 1216h3v3h-3zM791 1203h3v3h-3zM624 1267h3v3h-3zM645 1151h3v3h-3zM800 1280h3v3h-3zM577 1199h3v3h-3zM573 1245h3v3h-3zM494 1109h3v3h-3zM495 1204h3v3h-3zM789 1279h3v3h-3zM770 1153h3v3h-3zM481 1073h3v3h-3zM568 1126h3v3h-3zM667 1239h3v3h-3zM639 1228h3v3h-3z" fill="#ffd0e0" fill-opacity="0.65"/>
<path d="M548 1177h3v3h-3zM508 1242h3v3h-3zM498 1224h3v3h-3zM603 1241h3v3h-3zM559 1088h3v3h-3zM502 1218h3v3h-3zM532 1188h3v3h-3zM494 1188h3v3h-3zM751 1187h3v3h-3zM683 1150h3v3h-3zM633 1136h3v3h-3zM556 1139h3v3h-3zM558 1131h3v3h-3zM503 1274h3v3h-3zM638 1114h3v3h-3zM469 1227h3v3h-3zM633 1275h3v3h-3zM711 1248h3v3h-3zM576 1195h3v3h-3zM729 1172h3v3h-3zM582 1250h3v3h-3zM686 1240h3v3h-3zM507 1232h3v3h-3zM606 1150h3v3h-3zM626 1147h3v3h-3zM730 1230h3v3h-3zM606 1219h3v3h-3zM636 1256h3v3h-3zM767 1257h3v3h-3zM528 1259h3v3h-3zM676 1180h3v3h-3zM491 1162h3v3h-3zM772 1260h3v3h-3zM490 1129h3v3h-3zM497 1247h3v3h-3zM809 1258h3v3h-3zM800 1278h3v3h-3zM589 1217h3v3h-3zM698 1234h3v3h-3zM595 1151h3v3h-3zM698 1142h3v3h-3zM786 1194h3v3h-3zM595 1168h3v3h-3zM613 1128h3v3h-3zM691 1273h3v3h-3zM601 1252h3v3h-3zM688 1231h3v3h-3zM704 1277h3v3h-3zM531 1198h3v3h-3zM797 1176h3v3h-3zM651 1216h3v3h-3zM534 1286h3v3h-3zM486 1126h3v3h-3zM649 1255h3v3h-3zM704 1263h3v3h-3zM758 1277h3v3h-3zM637 1142h3v3h-3zM775 1155h3v3h-3zM595 1273h3v3h-3zM626 1161h3v3h-3zM791 1263h3v3h-3zM806 1268h3v3h-3zM774 1280h3v3h-3zM686 1248h3v3h-3zM530 1185h3v3h-3zM760 1177h3v3h-3zM553 1160h3v3h-3zM466 1250h3v3h-3zM676 1235h3v3h-3zM707 1186h3v3h-3zM708 1150h3v3h-3zM676 1180h3v3h-3zM579 1135h3v3h-3zM690 1115h3v3h-3zM561 1253h3v3h-3zM692 1168h3v3h-3zM480 1210h3v3h-3zM643 1172h3v3h-3zM692 1279h3v3h-3zM768 1154h3v3h-3zM783 1129h3v3h-3zM741 1235h3v3h-3zM771 1210h3v3h-3zM537 1090h3v3h-3zM611 1236h3v3h-3zM677 1253h3v3h-3zM773 1273h3v3h-3zM457 1220h3v3h-3zM470 1079h3v3h-3zM463 1073h3v3h-3zM637 1158h3v3h-3zM468 1119h3v3h-3zM778 1273h3v3h-3zM553 1195h3v3h-3zM464 1094h3v3h-3zM639 1184h3v3h-3zM569 1168h3v3h-3zM757 1279h3v3h-3zM799 1129h3v3h-3zM653 1158h3v3h-3zM762 1198h3v3h-3zM605 1141h3v3h-3zM538 1263h3v3h-3zM594 1179h3v3h-3zM464 1230h3v3h-3zM719 1207h3v3h-3zM463 1127h3v3h-3zM461 1263h3v3h-3zM757 1227h3v3h-3zM664 1139h3v3h-3zM489 1254h3v3h-3zM644 1267h3v3h-3zM596 1130h3v3h-3zM725 1239h3v3h-3zM647 1283h3v3h-3zM536 1121h3v3h-3zM624 1147h3v3h-3zM559 1156h3v3h-3zM559 1188h3v3h-3zM592 1286h3v3h-3zM659 1141h3v3h-3zM550 1091h3v3h-3zM520 1230h3v3h-3zM611 1171h3v3h-3zM770 1191h3v3h-3zM669 1237h3v3h-3zM804 1224h3v3h-3zM698 1276h3v3h-3zM586 1200h3v3h-3zM464 1082h3v3h-3zM631 1174h3v3h-3z" fill="#f0c070" fill-opacity="0.55"/>
<g filter="url(#nzy)" fill="url(#rgy)"><path d="M450 1060L520 1072L600 1086L680 1100L760 1118L820 1130" fill="none" stroke="#000" stroke-opacity="0.5" stroke-width="24"/><ellipse cx="548" cy="1078" rx="50" ry="24" fill-opacity="0.8"/><ellipse cx="655" cy="1092" rx="36" ry="30" fill-opacity="0.9"/><ellipse cx="730" cy="1110" rx="24" ry="22" fill-opacity="0.75"/><ellipse cx="790" cy="1126" rx="34" ry="15" fill-opacity="0.7"/><ellipse cx="632" cy="1232" rx="12" ry="10" fill-opacity="0.6"/><ellipse cx="782" cy="1195" rx="12" ry="16" fill-opacity="0.6"/></g>
<g fill="none" stroke="#f3ee1c" stroke-width="3.6" stroke-dasharray="11 5.2"><ellipse cx="554.3" cy="1084.4" rx="45.6" ry="32.6"/><ellipse cx="655.3" cy="1091" rx="38.2" ry="39.6"/><ellipse cx="728.9" cy="1111.9" rx="24.2" ry="28.9"/><ellipse cx="776.9" cy="1180.9" rx="24.7" ry="28.9"/><ellipse cx="631.1" cy="1229.3" rx="24.7" ry="28.9"/></g>
</g>
<rect x="456" y="934" width="32.8" height="32.6" fill="#f7f410"/><rect x="488.8" y="934" width="33.8" height="32.6" fill="#e7529f"/>
<text x="457.5" y="959.5" font-size="23.5" text-anchor="start" fill="#000" ><tspan>Rh</tspan></text>
<text x="491" y="959.5" font-size="23.5" text-anchor="start" fill="#fff" ><tspan>Ce</tspan></text>
<text x="25" y="972" font-size="64" text-anchor="start" fill="#000" font-weight="bold" ><tspan>c</tspan></text>
<g clip-path="url(#ce)">
<rect x="932" y="16.1" width="354.5" height="354.2" fill="#2a4a78"/>
<path d="M932 370.3L1114.7 370.3L1123.2 367.6L1131.2 364.2L1148.6 354.4L1157.8 350.4L1170.3 346.4L1187.6 342.4L1211.7 338.5L1286.5 330.1L1286.5 205L1265.7 199.2L1238.7 189.3L1222.8 184.9L1206.8 182.4L1194.9 181.4L1163 181L1143.1 181.9L1115.2 184.1L1067.4 190L999.7 201.1L959.9 209L932 215.3ZM1179.7 135.5L1194.9 136.4L1206.8 136.1L1218.8 134.6L1230.7 131.6L1238.7 128.6L1246.7 124.8L1286.5 101.5L1286.5 16.1L1145.1 16.1L1136.2 24.1L1129.7 32L1125 40L1117 55.9L1111.2 63L1103.3 68.5L1083.4 78.4L1081.3 79.8L1077.5 83.8L1076 87.7L1076.4 91.7L1078.2 95.7L1081.3 99.7L1085.6 103.7L1091.1 107.6L1103.3 114.6L1119.2 121.5L1143.1 129L1163 133.3Z" fill="#2c4c7d" fill-rule="evenodd"/>
<path d="M963.2 366.3L987.8 368.2L1015.6 368.8L1043.5 367.7L1067.4 365.5L1095.3 360.7L1146.7 346.4L1164.7 342.4L1187.1 338.5L1262.6 328.4L1286.5 324.7L1286.5 215.6L1214.8 200.9L1190.9 196.8L1163 194.3L1135.1 194.1L1107.3 195.6L1087.3 197.2L1055.5 201L1031.6 204.4L979.8 213.4L932 224.1L932 361.3L947.9 364.3ZM1174.9 119.6L1186.9 120.1L1198.9 119.4L1210.8 117.4L1222.8 114.2L1238.7 108.8L1258.6 100.8L1270.6 94.8L1282.5 86.9L1286.5 83.5L1286.5 26.8L1278.5 20.7L1270.6 16.1L1170.7 16.1L1163.7 20.1L1158 24.1L1149.7 32L1144.2 40L1140.7 47.9L1134.3 71.8L1131.2 77.7L1123.3 87.7L1121.2 91.7L1120.9 95.7L1122.6 99.7L1126.4 103.7L1132.4 107.6L1140.8 111.6L1155.1 116.2L1167 118.6Z" fill="#2f5286" fill-rule="evenodd"/>
<path d="M989.6 358.4L1007.7 359.3L1027.6 359.2L1047.5 358.1L1067.4 356.1L1091.3 352.4L1142.7 342.4L1166 338.5L1254.6 325.9L1286.5 320.1L1286.5 221.7L1238.7 212.7L1186.9 204.8L1155.1 202.1L1123.2 201.7L1079.4 204.3L1035.6 209.5L987.8 217.4L955.9 224.1L932 230.1L932 346.3L943.9 350.5L955.9 353.6L971.8 356.5ZM1182.8 103.7L1190.9 104.3L1202.9 104.1L1214.8 102.9L1226.8 100.8L1238.7 97.8L1250.7 93.8L1258.6 90.4L1266.6 86L1274.6 80.2L1279 75.8L1282.5 71.2L1286.2 63.9L1286.5 47.3L1283.2 40L1276.7 32L1271.9 28L1266.6 24.5L1254.6 18.9L1245.5 16.1L1195.9 16.1L1182.9 20.4L1171 26.9L1164.6 32L1160.9 36L1157.9 40L1154.1 47.9L1153 51.9L1152 59.9L1152.2 67.8L1153.3 75.8L1156.3 87.7L1158.3 91.7L1161.8 95.7L1167 99.2L1171 100.9Z" fill="#325a92" fill-rule="evenodd"/>
<path d="M1002.8 350.4L1019.6 351.1L1039.5 350.9L1059.5 349.7L1079.4 347.8L1238.7 325.4L1266.6 320.5L1286.5 316L1286.5 226.4L1262.6 221.5L1238.7 217.4L1210.8 213.2L1182.9 209.8L1151.1 207.4L1115.2 207.1L1091.3 208.1L1071.4 209.6L1043.5 212.7L1019.6 216.1L991.7 220.9L971.8 224.9L951.9 229.6L932 235L932 334.6L947.9 340.2L967.8 345.6L983.8 348.5ZM1193.6 91.7L1202.9 93.2L1210.8 93.5L1226.8 92.1L1242.7 88.4L1250.7 85.4L1258.6 81.3L1266.3 75.8L1270.2 71.8L1273.1 67.8L1275.1 63.9L1276.4 59.9L1276.9 55.9L1276.7 51.9L1275.7 47.9L1274 44L1271.5 40L1267.9 36L1263.2 32L1258.6 29.1L1246.7 23.9L1234.7 21L1222.8 19.9L1214.8 20.1L1206.8 20.9L1194.9 23.8L1182.9 29L1178.1 32L1173.4 36L1169.8 40L1167.1 44L1164.1 51.9L1163.6 55.9L1164.1 63.9L1166.7 71.8L1169 75.8L1175 82.8L1182.9 88.1Z" fill="#37619c" fill-rule="evenodd"/>
<path d="M994.6 342.4L1015.6 344.4L1043.5 344.9L1067.4 343.9L1103.3 340.8L1171 332.4L1226.8 324.6L1258.6 318.9L1286.5 312.2L1286.5 230.5L1262.6 225.2L1238.7 221.1L1210.8 217.1L1186.9 214.3L1151.1 211.6L1131.2 211L1111.2 211.1L1087.3 212.1L1067.4 213.6L1039.5 216.7L1015.6 220.2L971.8 228.5L951.9 233.4L932 239.1L932 327.5L947.9 332.6L963.9 336.9L979.8 340.3ZM1200.2 83.8L1206.8 85L1214.8 85.6L1226.8 84.9L1234.7 83.4L1242.7 80.9L1253.1 75.8L1258.4 71.8L1262.1 67.8L1264.6 63.9L1266.2 59.9L1266.8 55.9L1266.5 51.9L1265.4 47.9L1263.3 44L1258.6 38.7L1250.7 33.2L1242.7 29.7L1230.7 26.9L1218.8 26.2L1206.8 27.5L1194.9 31.1L1186.9 35.4L1181.3 40L1178 44L1175.7 47.9L1174.4 51.9L1173.9 55.9L1174.2 59.9L1175.2 63.9L1179 70.8L1183.7 75.8L1190.9 80.4Z" fill="#3d69a6" fill-rule="evenodd"/>
<path d="M1006.7 338.5L1031.6 340.2L1059.5 340.2L1083.4 339L1123.2 335.7L1182.9 328.6L1230.7 321.6L1258.6 316.1L1286.5 308.7L1286.5 234.1L1266.6 229.3L1246.7 225.5L1218.8 221.2L1194.9 218.4L1171 216.1L1147.1 214.7L1111.2 214.3L1083.4 215.5L1063.4 217.1L1035.6 220.3L1011.7 223.9L987.8 228.3L967.8 232.7L947.9 237.9L932 242.9L932 322.2L951.9 328.3L967.8 332.3L987.8 336.1ZM1202.1 75.8L1210.8 77.9L1222.8 78.3L1234.7 76.1L1242.7 73L1250.3 67.8L1253.7 63.9L1255.7 59.9L1256.5 55.9L1256.1 51.9L1254.7 47.9L1251.8 44L1246.7 39.6L1238.7 35.7L1230.7 33.6L1222.8 32.7L1214.8 33L1206.8 34.4L1198.9 37.3L1194.1 40L1189.5 44L1186.5 47.9L1184.9 51.9L1184.4 55.9L1184.9 59.9L1186.5 63.9L1189.4 67.8L1194.9 72.4Z" fill="#4271b0" fill-rule="evenodd"/>
<path d="M1007.8 334.5L1035.6 336.6L1063.4 336.8L1095.3 335.4L1135.1 332.1L1190.9 325.5L1226.8 320L1258.6 313.5L1286.5 305.4L1286.5 237.5L1270.6 233.3L1250.7 229.1L1226.8 225.1L1198.9 221.5L1151.1 217.6L1111.2 217L1087.3 217.9L1063.4 219.8L1019.6 225.2L995.7 229.4L975.8 233.7L951.9 239.9L936 244.9L932 246.4L932 317.8L951.9 324L967.8 328L987.8 331.9ZM1206.3 67.8L1210.8 69.3L1218.8 70.5L1226.8 69.8L1233.6 67.8L1240.1 63.9L1243.3 59.9L1244.5 55.9L1244 51.9L1241.6 47.9L1238.7 45.4L1234.7 43L1230.7 41.6L1226.8 40.7L1218.8 40.2L1210.8 41.5L1206.8 42.9L1202.9 45.2L1199.6 47.9L1197.1 51.9L1196.5 55.9L1197.4 59.9L1200.3 63.9Z" fill="#4c7cb8" fill-rule="evenodd"/>
<path d="M1002.7 330.5L1027.6 333L1055.5 333.9L1087.3 333.4L1123.2 331L1175 325.6L1210.8 320.6L1246.7 313.8L1273.5 306.6L1286.5 302.1L1286.5 240.8L1270.6 236.2L1254.6 232.5L1234.7 228.8L1206.8 224.8L1179 222L1159 220.5L1139.1 219.7L1115.2 219.5L1075.4 221.1L1031.6 225.8L1011.7 228.9L987.8 233.6L967.8 238.3L947.9 244.1L932 249.7L932 313.8L951.9 320.3L967.8 324.4L987.8 328.4Z" fill="#5788bf" fill-rule="evenodd"/>
<path d="M1033 330.5L1059.5 331.5L1091.3 330.9L1127.2 328.8L1163 325.2L1198.9 320.6L1226.8 315.8L1254.6 309.5L1274.6 303.4L1286.5 298.9L1286.5 244.1L1274.6 240.1L1258.6 235.9L1238.7 231.9L1214.8 228.1L1190.9 225.3L1167 223.3L1139.1 221.9L1115.2 221.6L1091.3 222.4L1067.4 224L1027.6 228.6L1003.7 232.6L983.8 236.8L963.9 241.9L948 246.9L932 253.1L932 310.1L951.9 317L979.8 323.8L1007.7 328.3Z" fill="#6395c7" fill-rule="evenodd"/>
<path d="M1015.2 326.5L1043.5 328.8L1071.4 329.3L1103.3 328.5L1135.1 326.2L1175 322.1L1206.8 317.5L1234.7 312.1L1256.4 306.6L1274.6 300.6L1286.5 295.5L1286.5 247.4L1270.6 241.7L1254.6 237.4L1234.7 233.3L1214.8 230.2L1171 225.5L1151.1 224.3L1127.2 223.7L1103.3 223.9L1083.4 224.8L1063.4 226.3L1039.5 229L1015.6 232.6L995.7 236.4L963.9 244.5L944.9 250.9L932 256.5L932 306.4L947.9 312.6L971.8 319.3L995.7 324Z" fill="#70a1ce" fill-rule="evenodd"/>
<path d="M1042.9 326.5L1067.4 327.3L1091.3 327L1123.2 325.5L1151.1 323.1L1179 319.9L1206.8 315.7L1230.7 311L1254.6 304.8L1272.4 298.7L1286.5 292L1286.5 250.9L1274.6 245.8L1258.6 240.8L1242.7 237L1222.8 233.4L1198.9 230.1L1179 228.1L1155.1 226.4L1131.2 225.6L1091.3 226.2L1067.4 227.8L1047.5 229.9L1023.6 233.2L1003.7 236.8L983.8 241.3L967.8 245.7L947.9 252.6L932 260.2L932 302.7L943.9 308.1L955.9 312.3L967.8 315.7L983.8 319.3L1011.7 323.9Z" fill="#80aed4" fill-rule="evenodd"/>
<path d="M1019.1 322.5L1043.5 324.6L1067.4 325.5L1095.3 325.2L1123.2 323.9L1155.1 321.1L1186.9 317.2L1210.8 313.3L1234.7 308.1L1250.7 303.8L1265.5 298.7L1274.8 294.7L1286.5 288.1L1286.5 254.8L1279.3 250.9L1266.6 245.8L1250.7 241.1L1234.7 237.5L1214.8 234.1L1194.9 231.5L1171 229.2L1147.1 227.8L1107.3 227.5L1067.4 229.6L1027.6 234.5L1007.7 238L987.8 242.4L971.4 246.9L955.9 252.2L940.7 258.9L932 264.1L932 298.6L939.1 302.6L948.1 306.6L967.8 313.1L995.7 319.3Z" fill="#8fbbdb" fill-rule="evenodd"/>
<path d="M1040.7 322.5L1063.4 323.6L1087.3 323.7L1111.2 322.9L1139.1 321.1L1159 319.2L1186.9 315.6L1210.8 311.5L1233 306.6L1250.7 301.5L1266.6 295.5L1276.3 290.7L1282.5 286.7L1286.5 283.4L1286.5 259.6L1280.1 254.9L1266.6 248.5L1254.6 244.5L1238.7 240.4L1218.8 236.5L1198.9 233.7L1179 231.6L1155.1 229.8L1135.1 229.1L1111.2 229L1087.3 229.9L1067.4 231.3L1047.5 233.4L1023.6 236.9L1003.7 240.7L987.8 244.4L971.8 249L955.7 254.9L943.9 260.5L934.3 266.8L932 268.9L932 293.7L938.7 298.7L946.2 302.6L955.9 306.7L971.8 311.7L987.8 315.6L1007.7 319.1L1023.6 321.1Z" fill="#9fc8e1" fill-rule="evenodd"/>
<path d="M1018.4 318.6L1039.5 320.7L1059.5 321.8L1083.4 322.2L1107.3 321.6L1131.2 320.3L1159 317.7L1179 315.2L1202.9 311.4L1222.8 307.3L1240.3 302.6L1254.6 297.8L1270.3 290.7L1278.5 285.2L1281.5 282.7L1284.9 278.8L1286.5 275.4L1286.5 267.7L1283.8 262.8L1279.6 258.9L1274.6 255.5L1265.5 250.9L1254.8 246.9L1240.8 242.9L1222.8 239.1L1202.9 235.9L1182.9 233.6L1163 231.9L1139.1 230.8L1115.2 230.6L1095.3 231.1L1075.4 232.2L1055.5 234.1L1035.6 236.7L1015.6 240.1L995.7 244.4L975.8 250L962.1 254.9L947.9 261.7L940.1 266.8L935.7 270.8L932.8 274.8L932 276.8L932 285.9L934.9 290.7L939.2 294.7L947.9 300.1L959.9 305.4L971.8 309.3L987.8 313.4L1003.7 316.5Z" fill="#b1d4e7" fill-rule="evenodd"/>
<path d="M1034.8 318.6L1071.4 320.5L1091.3 320.6L1115.2 319.8L1159 316.2L1182.9 313.1L1202.9 309.8L1218.8 306.4L1234.7 302.3L1250.7 296.9L1262.6 291.7L1271 286.7L1276 282.7L1279.4 278.8L1281.3 274.8L1281.7 270.8L1280.6 266.8L1278.5 263.7L1273.6 258.9L1267.3 254.9L1258.6 250.9L1246.7 246.7L1230.7 242.6L1210.8 238.8L1190.9 236L1167 233.8L1147.1 232.6L1123.2 232.1L1103.3 232.3L1079.4 233.5L1059.5 235.3L1039.5 237.7L1019.6 241L999.7 245.3L983.8 249.6L968.4 254.9L959.1 258.9L947.9 265.3L941.3 270.8L938.3 274.8L936.7 278.8L936.6 282.7L937.9 286.7L940 289.6L945.2 294.7L951.9 298.9L963.9 304.2L979.8 309.3L995.7 313L1015.6 316.4Z" fill="#c3dfed" fill-rule="evenodd"/>
<path d="M1058.8 318.6L1095.3 319L1135.1 317.1L1175 312.8L1210.8 306.5L1226.6 302.6L1239.7 298.7L1250.3 294.7L1258.8 290.7L1265.5 286.7L1270.5 282.7L1274 278.8L1275.9 274.8L1276.3 270.8L1275.1 266.8L1272.3 262.8L1267.7 258.9L1261 254.9L1250.7 250.4L1238.7 246.6L1218.8 242L1198.9 238.7L1179 236.3L1155.1 234.5L1135.1 233.7L1111.2 233.6L1091.3 234.3L1071.4 235.7L1051.5 237.7L1031.6 240.6L1011.7 244.4L995.7 248.2L979.8 253L965 258.9L957.3 262.8L951.2 266.8L947.9 269.7L943.7 274.8L942.1 278.8L942 282.7L943.4 286.7L947.9 292L951.2 294.7L957.9 298.7L967.8 303.1L983.8 308.1L999.7 311.8L1019.6 315.1L1039.5 317.3Z" fill="#d3e9f0" fill-rule="evenodd"/>
<path d="M1028.8 314.6L1047.5 316.4L1067.4 317.4L1087.3 317.7L1111.2 317.1L1131.2 316L1155.1 313.9L1175 311.4L1194.9 308.1L1214.8 303.9L1230.7 299.5L1244.4 294.7L1253.2 290.7L1260 286.7L1265.2 282.7L1268.7 278.8L1270.6 274.8L1270.9 270.8L1269.7 266.8L1266.7 262.8L1261.8 258.9L1254.8 254.9L1245.2 250.9L1232.3 246.9L1218.8 243.8L1202.9 240.9L1182.9 238.3L1163 236.5L1143.1 235.4L1103.3 235.3L1083.4 236.2L1063.4 237.9L1027.6 242.9L1008.1 246.9L993 250.9L980.7 254.9L967.8 260.3L956.6 266.8L952 270.8L949 274.8L947.4 278.8L947.4 282.7L948.9 286.7L951.9 290.5L957.1 294.7L964.1 298.7L973.6 302.6L986.1 306.6L999.7 309.9Z" fill="#e2efeb" fill-rule="evenodd"/>
<path d="M1044.7 314.6L1079.4 316.2L1119.2 315.4L1159 312L1194.9 306.6L1212.8 302.6L1226.8 298.8L1238.5 294.7L1247.6 290.7L1254.6 286.7L1259.9 282.7L1263.4 278.8L1265.4 274.8L1265.7 270.8L1264.3 266.8L1261.1 262.8L1256 258.9L1248.6 254.9L1238.7 251L1224.6 246.9L1210.8 244L1179 239.4L1159 237.7L1139.1 236.7L1099.3 236.8L1079.4 237.9L1059.5 239.8L1039.5 242.5L1023.6 245.3L1007.7 248.8L991.7 253.3L976.6 258.9L968.4 262.8L962 266.8L957.3 270.8L954.2 274.8L952.6 278.8L952.7 282.7L954.3 286.7L957.7 290.7L963 294.7L970.4 298.7L980.5 302.6L994 306.6L1007.7 309.6L1023.6 312.3Z" fill="#f0f6e7" fill-rule="evenodd"/>
<path d="M1070.4 314.6L1103.3 314.7L1139.1 312.7L1175 308.5L1205.7 302.6L1220.8 298.7L1232.6 294.7L1242 290.7L1249.3 286.7L1254.6 282.7L1258.3 278.8L1260.2 274.8L1260.4 270.8L1258.6 266.4L1255.6 262.8L1250.7 259.2L1242.4 254.9L1234.7 252L1222.8 248.4L1206.8 244.9L1190.9 242.3L1171 240.1L1151.1 238.6L1131.2 237.9L1111.2 237.9L1091.3 238.6L1071.4 240L1051.5 242.2L1031.6 245.4L1015.6 248.7L999.7 252.8L987.8 256.8L973.9 262.8L967.3 266.8L962.5 270.8L959.4 274.8L957.8 278.8L957.9 282.7L959.7 286.7L963.3 290.7L967.8 294L975.8 298.2L987.5 302.6L999.7 306L1015.6 309.3L1031.6 311.7L1051.5 313.6Z" fill="#f7f4d6" fill-rule="evenodd"/>
<path d="M1036.1 310.6L1051.5 312.1L1071.4 313.2L1107.3 313.2L1147.1 310.6L1182.9 305.7L1198.5 302.6L1214.4 298.7L1226.7 294.7L1236.4 290.7L1243.9 286.7L1249.4 282.7L1253.1 278.8L1255 274.8L1255.2 270.8L1253.6 266.8L1250.1 262.8L1244.4 258.9L1234.7 254.4L1224.5 250.9L1208.2 246.9L1179 242.4L1143.1 239.6L1107.3 239.3L1071.4 241.4L1051.5 243.7L1035.6 246.2L1007.7 252.4L995.7 256.1L983.8 260.8L972.7 266.8L967.7 270.8L964.5 274.8L963 278.8L963.1 282.7L965 286.7L968.8 290.7L974.7 294.7L983.1 298.7L994.7 302.6L1007.7 305.9Z" fill="#fbf1c3" fill-rule="evenodd"/>
<path d="M1051.4 310.6L1087.3 312.1L1123.2 311.2L1159 307.9L1190.9 302.7L1207.8 298.7L1220.8 294.7L1230.8 290.7L1238.5 286.7L1244.2 282.7L1247.9 278.8L1249.9 274.8L1250 270.8L1248.3 266.8L1244.5 262.8L1238.5 258.9L1229.6 254.9L1217.2 250.9L1202.9 247.6L1186.9 244.9L1171 243L1135.1 240.7L1099.3 241L1063.4 243.7L1031.6 248.6L1005.7 254.9L994.1 258.9L985 262.8L978 266.8L972.9 270.8L969.7 274.8L968.1 278.8L968.4 282.7L970.4 286.7L974.4 290.7L980.7 294.7L991.7 299.4L1003.7 303L1019.6 306.5L1035.6 308.9Z" fill="#fdeab0" fill-rule="evenodd"/>
<path d="M1078 310.6L1111.2 310.4L1143.1 308.3L1175 304.1L1198.9 299.2L1214.8 294.6L1225.1 290.7L1233.1 286.7L1238.9 282.7L1242.8 278.8L1244.7 274.8L1244.8 270.8L1242.9 266.8L1238.9 262.8L1232.5 258.9L1222.8 254.8L1209.6 250.9L1194.9 247.8L1179 245.4L1163 243.7L1127.2 241.9L1091.3 242.7L1055.5 246.1L1039.5 248.7L1023.6 252L1012.3 254.9L1000 258.9L990.6 262.8L983.4 266.8L978.2 270.8L974.9 274.8L973.3 278.8L973.6 282.7L975.8 286.7L980.1 290.7L986.8 294.7L996.4 298.7L1010 302.6L1023.6 305.5L1039.5 307.8L1059.5 309.7Z" fill="#fde19e" fill-rule="evenodd"/>
<path d="M1042.4 306.6L1075.4 309.1L1107.3 309.2L1143.1 306.9L1175 302.6L1194.1 298.7L1206.8 295.2L1219.4 290.7L1226.8 287.2L1233.6 282.7L1237.5 278.8L1239.5 274.8L1239.5 270.8L1237.4 266.8L1233.2 262.8L1226.3 258.9L1216.2 254.9L1194.9 249.6L1167 245.6L1135.1 243.5L1103.3 243.6L1071.4 245.7L1039.5 250.3L1019 254.9L1006.1 258.9L996.3 262.8L988.8 266.8L983.5 270.8L980.1 274.8L978.6 278.8L978.9 282.7L981.3 286.7L985.9 290.7L993 294.7L1003.3 298.7L1015.6 302Z" fill="#fdd78d" fill-rule="evenodd"/>
<path d="M1057.6 306.6L1091.3 308L1123.2 307.1L1155.1 304.1L1182.9 299.5L1202.9 294.4L1213.5 290.7L1222.1 286.7L1228.2 282.7L1232.2 278.8L1234.2 274.8L1234.1 270.8L1231.9 266.8L1227.3 262.8L1220 258.9L1210.8 255.5L1190.9 250.5L1163 246.7L1131.2 244.8L1099.3 245.1L1067.4 247.6L1039.5 251.9L1026.1 254.9L1012.4 258.9L1002.1 262.8L994.3 266.8L988.8 270.8L985.4 274.8L983.8 278.8L984.3 282.7L986.9 286.7L991.8 290.7L999.4 294.7L1010.6 298.7L1031.6 303.4Z" fill="#fcc97d" fill-rule="evenodd"/>
<path d="M1089.2 306.6L1115.2 306.2L1143.1 304.1L1167 300.8L1190.9 295.8L1207.4 290.7L1216.3 286.7L1222.7 282.7L1226.8 278.8L1228.8 274.8L1228.6 270.8L1226.2 266.8L1221.3 262.8L1213.4 258.9L1202.9 255.3L1182.9 250.9L1151.1 247.1L1119.2 246.1L1087.3 247.2L1055.5 250.7L1031.6 255.4L1018.9 258.9L1008.1 262.8L1000 266.8L994.3 270.8L990.7 274.8L989.2 278.8L989.8 282.7L992.6 286.7L997.8 290.7L1006.1 294.7L1018.4 298.7L1027.6 300.8L1039.5 302.9L1055.5 304.9L1071.4 306.1Z" fill="#fcb96f" fill-rule="evenodd"/>
<path d="M1049.8 302.6L1079.4 304.9L1111.2 304.9L1143.1 302.7L1170.5 298.7L1190.9 293.9L1201.1 290.7L1210.5 286.7L1217.1 282.7L1221.3 278.8L1223.3 274.8L1223 270.8L1220.4 266.8L1215.1 262.8L1206.6 258.9L1194.9 255.3L1186.9 253.5L1172.2 250.9L1159 249.4L1131.2 247.7L1103.3 247.8L1071.4 250.1L1047.5 253.7L1025.8 258.9L1014.3 262.8L1007.7 265.9L999.9 270.8L996.3 274.8L994.8 278.8L995.5 282.7L998.5 286.7L1004.1 290.7L1011.7 294.1L1026.8 298.7Z" fill="#fba961" fill-rule="evenodd"/>
<path d="M1066.1 302.6L1095.3 303.7L1123.2 302.9L1151.1 300.1L1175 296L1194.5 290.7L1204.3 286.7L1210.8 283L1215.6 278.8L1217.6 274.8L1217.2 270.8L1214.4 266.8L1208.6 262.8L1199.3 258.9L1182.9 254.6L1155.1 250.6L1127.2 249.1L1099.3 249.4L1075.4 251.2L1047.5 255.5L1027.6 260.6L1020.7 262.8L1011.8 266.8L1005.7 270.8L1001.9 274.8L1000.5 278.8L1001.3 282.7L1004.6 286.7L1010.8 290.7L1020.6 294.7L1039.5 299.3Z" fill="#f89858" fill-rule="evenodd"/>
<path d="M1047 298.7L1075.4 301.6L1103.3 302.2L1131.2 300.7L1159 297.3L1172.6 294.7L1182.9 292L1197.9 286.7L1205.2 282.7L1209.7 278.8L1211.7 274.8L1211.2 270.8L1208 266.8L1202.9 263.5L1191.4 258.9L1174.5 254.9L1155.1 252.3L1131.2 250.7L1107.3 250.6L1083.4 252.1L1060.4 254.9L1039.5 259.2L1027.6 262.8L1019.6 266.2L1011.7 270.8L1007.8 274.8L1006.4 278.8L1007.4 282.7L1011 286.7L1017.8 290.7L1028.7 294.7Z" fill="#f58750" fill-rule="evenodd"/>
<path d="M1060.6 298.7L1083.4 300.3L1111.2 300.4L1136.6 298.7L1163.5 294.7L1179.9 290.7L1191.1 286.7L1198.8 282.7L1203.5 278.8L1205.5 274.8L1204.8 270.8L1201.3 266.8L1194.9 263.1L1182.9 258.9L1163 255L1147.1 253.3L1123.2 252.1L1099.3 252.6L1075.4 254.5L1055.5 257.7L1035.6 262.7L1024.9 266.8L1018.1 270.8L1014.1 274.8L1012.6 278.8L1013.8 282.7L1017.8 286.7L1025.3 290.7L1037.8 294.7Z" fill="#f17547" fill-rule="evenodd"/>
<path d="M1083.3 298.7L1107.3 298.9L1127.2 297.8L1153 294.7L1171 290.9L1183.8 286.7L1191.9 282.7L1196.9 278.8L1198.9 274.9L1198.1 270.8L1194.1 266.8L1186.3 262.8L1179 260.6L1163 257.1L1143.1 254.7L1119.2 253.8L1095.3 254.5L1071.4 256.9L1051.5 260.7L1042.9 262.8L1032 266.8L1024.8 270.8L1020.6 274.8L1019.6 277.5L1019.2 278.8L1020.6 282.7L1025.1 286.7L1027.6 288L1033.6 290.7L1043.5 293.5L1059.5 296.5Z" fill="#ea6340" fill-rule="evenodd"/>
<path d="M1061.5 294.7L1083.4 296.7L1103.3 297.1L1123.2 296.2L1143.1 294.2L1162.2 290.7L1175.8 286.7L1184.6 282.7L1189.8 278.8L1191.8 274.8L1190.8 270.8L1186.2 266.8L1182.9 265.3L1177.2 262.8L1171 261.2L1155.1 258.1L1135.1 256.1L1115.2 255.6L1095.3 256.3L1071.3 258.9L1052 262.8L1039.9 266.8L1031.6 271.3L1027.7 274.8L1026.3 278.8L1027.9 282.7L1033.1 286.7L1043 290.7Z" fill="#e35139" fill-rule="evenodd"/>
<path d="M1082.8 294.7L1099.3 295.2L1118.4 294.7L1135.1 293.1L1151 290.7L1166.7 286.7L1176.4 282.7L1181.9 278.8L1184 274.8L1182.7 270.8L1177.3 266.8L1175 265.9L1166.6 262.8L1143.8 258.9L1123.2 257.7L1103.3 257.9L1087.3 259L1063.4 262.7L1048.7 266.8L1040.2 270.8L1035.5 274.8L1034.1 278.8L1036.1 282.7L1042.2 286.7L1054.2 290.7L1067.4 293Z" fill="#db4032" fill-rule="evenodd"/>
<path d="M1069.3 290.7L1087.3 292.5L1103.3 292.9L1119.2 292.3L1135.9 290.7L1155.8 286.7L1167 282.7L1173.1 278.8L1175.2 274.8L1173.4 270.8L1166.9 266.8L1152.8 262.8L1143.1 261.5L1127.2 260.1L1111.2 259.9L1095.3 260.7L1076.2 262.8L1059.1 266.8L1049.5 270.8L1044.3 274.8L1043 278.8L1045.6 282.7L1053 286.7Z" fill="#d0352e" fill-rule="evenodd"/>
<path d="M1067.3 286.7L1079.4 288.8L1095.3 290.1L1111.2 290.1L1127.2 288.8L1141.5 286.7L1155.4 282.7L1162.4 278.8L1164.6 274.8L1162.1 270.8L1155.1 267.5L1151.1 266.3L1139.1 264.1L1128.4 262.8L1115.2 262.5L1100.6 262.8L1091.3 263.8L1071.4 267.2L1060.7 270.8L1054.8 274.8L1053.6 278.8L1057.1 282.7Z" fill="#c62a2b" fill-rule="evenodd"/>
<path d="M1098.7 286.7L1110 286.7L1119.2 286L1139 282.7L1148.2 278.8L1150.5 274.8L1146.3 270.8L1135.1 267.8L1127.2 266.6L1115.2 266.1L1099.3 266.6L1091.3 267.6L1079.4 270.1L1076.4 270.8L1068.9 274.8L1067.8 278.8L1073.5 282.7L1075.4 283.3L1087.3 285.6Z" fill="#b22429" fill-rule="evenodd"/>
<path d="M932 359L955.9 363.6L987.8 366.6L1019.6 367.1L1055.5 365.2L1071.4 363.3L1091.3 359.8L1142.9 346.4L1161.2 342.4L1183.6 338.5L1258.6 328.3L1286.5 323.9M1286.5 216.6L1210.8 201.8L1186.9 198L1159 195.7L1131.2 195.6L1091.3 198.1L1063.4 201L1035.6 204.8L983.8 213.7L951.9 220.4L932 225.2M1286.5 29.4L1278.5 22.7L1266.9 16.1M1174.4 16.1L1163 22.6L1156.2 28L1149.2 36L1144.7 44L1141.9 51.9L1138.8 67.8L1136.4 75.8L1127.8 91.7L1127.5 95.7L1129.2 99.7L1133.2 103.7L1139.5 107.6L1148.9 111.6L1155.1 113.5L1171 116.7L1182.9 117.6L1190.9 117.5L1206.8 115.6L1218.8 112.9L1230.7 109.3L1242.7 105.3L1258.6 98.9L1274.6 90.4L1282.5 84.5L1286.5 80.8M932 321.6L951.9 327.7L967.8 331.7L995.7 336.7L1015.6 338.7L1031.6 339.7L1067.4 339.5L1095.3 337.8L1119.2 335.8L1155.1 331.8L1206.8 325L1234.7 320.6L1254.6 316.7L1270.6 312.9L1286.5 308.3M1286.5 234.5L1266.6 229.7L1246.7 225.9L1206.8 220.1L1179 217.1L1159 215.7L1135.1 214.7L1111.2 214.7L1087.3 215.6L1063.4 217.4L1035.6 220.6L1011.7 224.2L987.8 228.6L967.8 233L951.9 237.1L932 243.3M1205.4 75.8L1214.8 77.4L1222.8 77.4L1232.5 75.8L1242.9 71.8L1248.7 67.8L1250.7 65.8L1254.4 59.9L1255.2 55.9L1254.8 51.9L1253.3 47.9L1250.3 44L1246.7 40.9L1242.7 38.5L1234.7 35.3L1226.8 33.8L1218.8 33.5L1210.8 34.4L1202.9 36.6L1195.9 40L1190.9 44L1187.9 47.9L1186.2 51.9L1185.7 55.9L1186.3 59.9L1188 63.9L1191 67.8L1196 71.8L1205.4 75.8M932 306.1L947.9 312.4L963.9 317.1L979.8 320.9L1003.7 325L1023.6 327.2L1043.5 328.6L1067.4 329.2L1091.3 328.8L1119.2 327.3L1151.1 324.7L1182.9 320.9L1210.8 316.7L1234.7 312L1254.6 307L1270.6 301.9L1286.5 295.3M1286.5 247.7L1273.8 242.9L1254.6 237.6L1230.7 232.8L1206.8 229.3L1179 226.4L1155.1 224.7L1127.2 223.8L1103.3 224.1L1079.4 225.2L1051.5 227.7L1031.6 230.2L1007.7 234.2L983.8 239.3L963.9 244.7L945.5 250.9L932 256.8M932 285.2L932.5 286.7L936 291.5L939.4 294.7L947.9 300L963.9 306.7L987.8 313.3L1011.7 317.6L1039.5 320.7L1067.4 322L1099.3 321.8L1131.2 320.2L1167 316.7L1198.9 312L1226.8 306.2L1252.1 298.7L1262.1 294.7L1270.1 290.7L1276.5 286.7L1281.3 282.7L1284.6 278.8L1286.5 274.9M1286.5 268.6L1286.1 266.8L1282.5 261.8L1279.4 258.9L1270.6 253.5L1254.5 246.9L1230.7 240.7L1202.9 236L1171 232.6L1139.1 230.9L1107.3 230.8L1075.4 232.3L1043.5 235.6L1015.6 240.1L991.7 245.5L971.8 251.4L962.4 254.9L951.9 259.6L940.3 266.8L936 270.8L933 274.8L932 277.3M1044.7 314.6L1079.4 316.2L1119.2 315.4L1159 312L1194.9 306.6L1212.8 302.6L1226.8 298.8L1238.5 294.7L1247.6 290.7L1254.6 286.7L1259.9 282.7L1263.4 278.8L1265.4 274.8L1265.7 270.8L1264.3 266.8L1261.1 262.8L1256 258.9L1248.6 254.9L1238.7 251L1224.6 246.9L1210.8 244L1179 239.4L1159 237.7L1139.1 236.7L1099.3 236.8L1079.4 237.9L1059.5 239.8L1039.5 242.5L1023.6 245.3L1007.7 248.8L991.7 253.3L976.6 258.9L968.4 262.8L962 266.8L957.3 270.8L954.2 274.8L952.6 278.8L952.7 282.7L954.3 286.7L957.7 290.7L963 294.7L970.4 298.7L980.5 302.6L994 306.6L1007.7 309.6L1023.6 312.3L1044.7 314.6M1076 310.6L1107.3 310.6L1139.1 308.7L1171 304.8L1198.9 299.3L1214.9 294.7L1225.4 290.7L1233.3 286.7L1239.1 282.7L1243 278.8L1244.9 274.8L1245 270.8L1243.1 266.8L1239.1 262.8L1232.7 258.9L1222.8 254.7L1209.9 250.9L1194.9 247.8L1179 245.4L1163 243.7L1127.2 241.9L1091.3 242.7L1055.5 246.1L1039.5 248.6L1023.6 251.9L1012 254.9L999.8 258.9L990.4 262.8L983.2 266.8L978 270.8L974.6 274.8L973.1 278.8L973.4 282.7L975.6 286.7L979.9 290.7L986.5 294.7L996.1 298.7L1009.7 302.6L1023.6 305.5L1039.5 307.9L1055.5 309.5L1076 310.6M1048.7 302.6L1079.4 305L1111.2 305L1143.1 302.8L1171 298.7L1190.9 294.1L1201.6 290.7L1210.9 286.7L1217.5 282.7L1221.8 278.8L1223.7 274.8L1223.5 270.8L1220.9 266.8L1215.6 262.8L1206.8 258.8L1194.9 255.1L1186.9 253.3L1173.2 250.9L1159 249.3L1131.2 247.5L1103.3 247.7L1075.4 249.6L1047.5 253.6L1025.2 258.9L1013.8 262.8L1007.7 265.7L999.4 270.8L995.8 274.8L994.3 278.8L995 282.7L998 286.7L1003.6 290.7L1007.7 292.6L1012.5 294.7L1026.1 298.7L1048.7 302.6M1079.1 298.7L1099.3 299.2L1123.2 298.3L1147.1 295.8L1167 292L1184.7 286.7L1192.8 282.7L1197.7 278.8L1198.9 276.5L1199.7 274.8L1198.9 270.8L1195 266.8L1187.3 262.8L1182.9 261.4L1171 258.3L1147.1 254.8L1123.2 253.6L1099.3 254L1079.4 255.7L1055.5 259.5L1039.5 263.7L1031.1 266.8L1024 270.8L1019.6 275.3L1018.4 278.8L1019.7 282.7L1024.2 286.7L1032.5 290.7L1039.5 292.8L1055.5 296.1L1079.1 298.7M1080 290.7L1095.3 291.6L1111.2 291.5L1125 290.7L1139.1 288.7L1149.6 286.7L1161.7 282.7L1168.2 278.8L1170.4 274.8L1168.3 270.8L1160.9 266.8L1143.1 262.8L1127.2 261.4L1111.2 261.1L1091.3 262.2L1079.4 263.8L1065.1 266.8L1054.5 270.8L1049.1 274.8L1047.8 278.8L1050.7 282.7L1059.2 286.7L1080 290.7" fill="none" stroke="#1a1a1a" stroke-width="0.55" stroke-opacity="0.85"/>
</g>
<rect x="932" y="16.1" width="354.5" height="354.2" fill="none" stroke="#000" stroke-width="2.7"/>
<path d="M932 281.8h6M932 193.2h12M932 104.7h6M982.6 370.3v-6M1033.3 370.3v-12M1083.9 370.3v-6M1134.6 370.3v-12M1185.2 370.3v-6M1235.9 370.3v-12" stroke="#000" stroke-width="2.7" fill="none"/>
<text x="932" y="407.8" font-size="38" text-anchor="middle" fill="#000" ><tspan>0</tspan></text>
<text x="1033.3" y="407.8" font-size="38" text-anchor="middle" fill="#000" ><tspan>4</tspan></text>
<text x="1134.6" y="407.8" font-size="38" text-anchor="middle" fill="#000" ><tspan>8</tspan></text>
<text x="1235.9" y="407.8" font-size="38" text-anchor="middle" fill="#000" ><tspan>12</tspan></text>
<text x="921.6" y="382.3" font-size="38.5" text-anchor="end" fill="#000" ><tspan>1</tspan></text>
<text x="921.6" y="205.2" font-size="38.5" text-anchor="end" fill="#000" ><tspan>2</tspan></text>
<text x="921.6" y="28.1" font-size="38.5" text-anchor="end" fill="#000" ><tspan>3</tspan></text>
<text x="1097" y="445.3" font-size="39.5" text-anchor="middle" fill="#000" ><tspan font-style="italic">K</tspan><tspan> (Å</tspan><tspan dy="-15" font-size="26.9">-1</tspan><tspan dy="15">)</tspan></text>
<text x="892.5" y="191.7" font-size="38.5" text-anchor="middle" fill="#000" transform="rotate(-90 892.5 191.7)" ><tspan font-style="italic">R</tspan><tspan> + </tspan><tspan font-style="italic">α</tspan><tspan> (Å)</tspan></text>
<text x="846" y="51.3" font-size="64" text-anchor="start" fill="#000" font-weight="bold" ><tspan>e</tspan></text>
<text x="938.2" y="58.5" font-size="38.2" text-anchor="start" fill="#fff" ><tspan>Rh</tspan><tspan dy="9.6" font-size="26">1</tspan><tspan dy="-9.6">-CeO</tspan><tspan dy="9.6" font-size="26">2</tspan></text>
<text x="1100.6" y="287.5" font-size="38.2" text-anchor="middle" fill="#000" ><tspan>Rh-O</tspan></text>
<g clip-path="url(#cf)">
<rect x="931.7" y="469.2" width="354.8" height="353.3" fill="#2a4a78"/>
<path d="M931.7 822.5L1286.5 822.5L1286.5 469.2L968.3 469.2L961.6 485.1L957.1 493L951.6 500.7L943.7 509L938.5 512.9L931.7 516.4ZM959.6 621.3L955.6 619.7L951.9 616.1L950.5 612.1L951 608.1L951.6 607.1L955.1 604.2L959.6 603.4L963.9 604.2L969.9 608.1L972.6 612.1L973.1 616.1L971 620L967.6 621.6L963.6 622Z" fill="#2c4c7d" fill-rule="evenodd"/>
<path d="M931.7 822.5L1286.5 822.5L1286.5 469.2L989.8 469.2L975.6 500.4L951.5 544.6L948.4 552.6L947.8 556.5L948.4 560.5L950.5 564.5L954.2 568.4L975.6 586.3L983.5 594.8L987.5 600.1L991.5 607.3L993.3 612.1L994.4 620L993.8 624L992.3 628L989.2 632L983.5 635.8L975.6 638.3L967.6 639.3L959.6 639.1L947.6 636.9L939.7 633.8L931.7 628.9Z" fill="#2f5286" fill-rule="evenodd"/>
<path d="M931.7 822.5L1286.5 822.5L1286.5 469.2L1006.7 469.2L992.8 497L982.5 520.8L977.2 536.7L975.5 548.6L976.1 556.5L978.5 564.5L982.4 572.4L995.5 593.1L999.5 600.5L1002.7 608.1L1004 612.1L1005.5 620L1005 628L1003.8 632L999.5 638.2L995.5 641.4L987.5 645.3L977 647.8L967.6 648.7L955.6 648.6L943.7 647.2L931.7 644.3ZM1190.8 675.8L1182.9 674.4L1173.3 671.7L1174.8 667.7L1182.9 666.4L1194.8 665.9L1210.8 667.1L1215 667.7L1225.2 671.7L1222.7 674.2L1218.7 675.8L1206.8 676.4Z" fill="#325a92" fill-rule="evenodd"/>
<path d="M931.7 822.5L1286.5 822.5L1286.5 469.2L1279.3 469.2L1277.6 473.2L1272.3 477.1L1270.6 477.8L1262.6 480L1254.6 480.7L1246.6 479.9L1237.4 477.1L1231.9 473.2L1229.7 469.2L1022 469.2L1009.8 489L1000.3 508.9L993 528.7L991.1 536.7L989.9 544.6L990.3 556.5L993.3 568.4L1007.9 600.2L1010.9 608.1L1013 616.1L1014 624L1014 628L1013.4 632L1011.4 637.6L1007.4 643.3L1001.6 647.8L992.8 651.8L983.5 654.2L971.6 655.9L959.6 656.5L943.7 656L931.7 654.7ZM1206.8 679.6L1186.8 678L1171.4 675.6L1161.8 671.7L1161.9 667.7L1174.9 664.2L1190.8 663.3L1206.8 663.9L1230.5 667.7L1240.3 671.7L1242.6 675.6L1238.7 677.7L1234.7 678.8L1228.7 679.6ZM1230.7 799.1L1221.7 794.7L1222.4 790.7L1231 786.8L1242.6 783.8L1250.6 782.6L1258.6 783.2L1266.3 786.8L1268.8 790.7L1267.9 794.7L1263.3 798.7L1258.6 800.8L1254.6 801.8L1250.6 802.2L1242.6 801.8Z" fill="#37619c" fill-rule="evenodd"/>
<path d="M931.7 822.5L1210.2 822.5L1215.9 818.5L1218.3 814.6L1217.1 810.6L1211.9 806.6L1193.8 798.7L1189.9 794.7L1196.1 790.7L1209.6 786.8L1242.6 778L1254.6 776.1L1262.6 777L1266.6 778.4L1274.7 782.8L1279.4 786.8L1282 790.7L1282.3 794.7L1280.7 798.7L1274.9 806.6L1272.7 810.6L1271.8 814.6L1272 818.5L1273 822.5L1286.5 822.5L1286.5 482.9L1277.9 485.1L1262.6 486.8L1250.6 486.6L1239.9 485.1L1227.6 481.1L1220.4 477.1L1215.4 473.2L1211.8 469.2L1036.9 469.2L1030.3 477.1L1023.4 486.8L1013.1 504.9L1009.5 512.9L1005.1 524.8L1001.9 536.7L1000.7 544.6L1000.7 556.5L1003 568.4L1005.5 576.4L1016.4 604.2L1018.8 612.1L1020.5 620L1021 632L1019.4 639.2L1017.1 643.9L1014 647.8L1007.4 652.9L999.5 656.6L988 659.7L975.6 661.7L963.6 662.8L947.6 663.4L931.7 663.2ZM1234.7 683.7L1190.8 680.8L1170.9 678L1160.4 675.6L1152.4 671.7L1152 667.7L1161.5 663.7L1170.9 662.4L1182.9 661.6L1206.8 662.1L1223.6 663.7L1230.7 665.1L1243 667.7L1252.3 671.7L1256.1 675.6L1255.7 679.6L1250.6 682.8L1246.6 683.6Z" fill="#3d69a6" fill-rule="evenodd"/>
<path d="M1061.6 814.6L1083.2 814.7L1103.1 814L1123.1 812.6L1138.5 810.6L1147.3 806.6L1142.1 798.7L1146.3 794.7L1161.6 790.7L1194.8 785.4L1214.7 781.2L1226.7 778L1250.6 769.8L1254.6 768.8L1258.6 768.6L1262.6 769.2L1266.6 770.8L1286.5 782.4L1286.5 489.7L1270.6 490.9L1258.6 491.1L1246.6 490.3L1238.3 489L1224 485.1L1214.8 481.1L1207.7 477.1L1196.3 469.2L1052.7 469.2L1047.3 473.8L1040 481.1L1030.6 493L1021.2 508.9L1014.4 524.8L1010.3 540.7L1009.2 552.6L1009.6 560.5L1011.9 572.4L1023.4 607.4L1026.5 620L1027.6 632L1026.5 639.9L1023.4 647.4L1019.4 652.3L1015.4 655.6L1011.4 658L1003.5 661.4L991.5 664.7L975.6 667.3L955.6 669.2L931.7 670.6L931.7 802.1L955.6 805.8L987.5 809.7L1027.4 813ZM1234.7 687.7L1218.7 685.5L1182.9 682L1166.3 679.6L1151 675.6L1143.9 671.7L1143.1 667.7L1149.9 663.7L1154.9 662.6L1166.9 660.8L1182.9 659.8L1194.8 659.8L1210.8 660.7L1230.7 662.8L1242.6 664.9L1254 667.7L1262.2 671.7L1266.1 675.6L1267.2 679.6L1266.2 683.6L1262.6 687.9L1258.6 690L1254.6 690.7L1246.6 690Z" fill="#4271b0" fill-rule="evenodd"/>
<path d="M996.3 798.7L1035.3 800.9L1051.3 801L1067.2 800.3L1087.2 797.5L1099.8 794.7L1121.9 790.7L1174.9 784.6L1194.8 781.8L1214.7 777.6L1223.8 774.9L1230.7 772.2L1240.8 766.9L1254.6 756.8L1258.6 755.2L1262.6 755.6L1266.6 758.2L1275.4 766.9L1280.2 770.9L1286.5 774.9L1286.5 494.5L1266.6 494.7L1254.6 494.3L1242 493L1230.7 490.8L1223.9 489L1212.4 485.1L1178.1 469.2L1071.5 469.2L1058.4 477.1L1051.3 482.8L1044.9 489L1035.3 501L1030.4 508.9L1026.3 516.8L1020.2 532.7L1018.2 540.7L1017.1 548.6L1016.9 560.5L1018.5 572.4L1021.5 584.3L1030 612.1L1033.1 628L1033 639.9L1031.4 646.2L1028.4 651.8L1025 655.8L1019.4 660.2L1011.4 664.2L1001.1 667.7L979.5 671.9L931.7 677.4L931.7 790.1L967.6 795.8ZM1254.6 703.5L1249.5 699.4L1243 695.5L1233.2 691.5L1226.7 689.8L1210.8 687L1170.9 682.3L1151 678.4L1142.3 675.6L1135.8 671.7L1134.6 667.7L1139.7 663.7L1151 660.9L1162.9 659.3L1182.9 658.4L1202.8 658.8L1222.7 660.1L1246.6 663.2L1258.6 666.1L1263.7 667.7L1271 671.7L1274.8 675.6L1276.4 679.6L1276.4 683.6L1273.5 691.5L1266.6 702.6L1262.6 705.9L1258.6 706Z" fill="#4c7cb8" fill-rule="evenodd"/>
<path d="M994.4 790.7L1027.4 792.5L1059.3 792.2L1091.2 789.6L1178.9 781L1198.8 778L1214.7 774L1226.7 769L1230.4 766.9L1235.6 763L1242.5 755L1247.2 747.1L1250 739.1L1250.8 731.2L1249.8 723.3L1246 711.3L1241.5 703.4L1237.7 699.4L1231.5 695.5L1218.7 691.1L1202.8 688.2L1165.9 683.6L1145.6 679.6L1133.9 675.6L1127.7 671.7L1126.1 667.7L1129.8 663.7L1135 661.8L1143.2 659.7L1154.9 658.3L1170.9 657.3L1186.8 657L1206.8 657.6L1226.7 659L1254.6 662.5L1260.8 663.7L1272.8 667.7L1279.9 671.7L1284.2 675.6L1286.3 679.6L1286.5 681L1286.5 498.4L1254.6 497.2L1242.6 495.9L1230.7 493.8L1212.6 489L1174.9 475.3L1158.9 471.3L1145.1 469.2L1103.2 469.2L1091.2 471.6L1079.2 475.6L1071.2 479.3L1059.3 487L1051.3 494L1042 504.9L1036.7 512.9L1032.4 520.8L1029 528.7L1026.4 536.7L1024.6 544.6L1023.5 552.6L1023.5 564.5L1025.2 576.4L1036 616.1L1038.9 632L1039 639.9L1038.6 643.9L1037.6 647.8L1035.3 652.7L1033.3 655.8L1029.5 659.7L1024.1 663.7L1016.4 667.7L1007.4 670.8L985.8 675.6L931.7 683.8L931.7 781.5L963.6 787.4ZM1283.6 763L1286.5 765.6L1286.5 685.7L1284.9 691.5L1275.8 715.3L1273.4 723.3L1272 731.2L1272.3 739.1L1274.4 747.1L1277.9 755Z" fill="#5788bf" fill-rule="evenodd"/>
<path d="M1018.5 786.8L1047.3 787.5L1079.2 786.4L1151 781L1178.9 778.3L1198.8 775L1212.9 770.9L1222.7 766L1226.9 763L1231 759L1234.1 755L1238.5 747.1L1241.1 739.1L1241.9 731.2L1241.2 723.3L1237.9 711.3L1236 707.4L1233.2 703.4L1229 699.4L1221.9 695.5L1208.4 691.5L1158.9 684.4L1136.2 679.6L1125.6 675.6L1119.6 671.7L1117.6 667.7L1119.9 663.7L1127 660.6L1135 658.7L1158.9 656.3L1186.8 655.7L1218.7 657L1250.6 659.7L1271.3 663.7L1286.5 669.4L1286.5 502L1254.6 499.8L1234.7 497.3L1215.3 493L1182.9 483L1166.9 479L1147 476L1127 475L1107.1 476.3L1095.1 478.6L1087.2 480.9L1079.2 484L1071.2 488.2L1063.3 493.5L1054.7 501L1044.9 512.9L1038 524.8L1033.1 536.7L1031 544.6L1029.7 552.6L1029.2 564.5L1030.5 576.4L1033 588.3L1041.7 620L1044.6 635.9L1044.7 643.9L1044.1 647.8L1042.9 651.8L1040.9 655.8L1035.3 662.1L1027.4 667.7L1019.4 671.5L1011.4 674.3L991.5 679L951.6 685.9L931.7 690L931.7 774.1L951.6 778.9L971.6 782.4L995.5 785.3ZM1285.7 747.1L1286.5 748.8L1286.5 717.3L1284.6 723.3L1283.2 731.2L1283.5 739.1Z" fill="#6395c7" fill-rule="evenodd"/>
<path d="M1023.7 782.8L1051.3 783.7L1079.2 783.2L1135 779.7L1174.9 776.1L1190.8 773.6L1202.8 770.6L1214.7 765.5L1218.7 763L1223.3 759L1226.8 755L1231.6 747.1L1234.3 739.1L1235.2 731.2L1233.8 719.3L1231.1 711.3L1226.7 704.4L1222.7 700.7L1218.7 698.3L1212.4 695.5L1202.8 692.9L1194.8 691.4L1151 685.1L1139 682.8L1127 679.6L1117.2 675.6L1111.4 671.7L1108.9 667.7L1110 663.7L1111.1 662.9L1116.6 659.7L1123.1 658.1L1139.9 655.8L1166.9 654.5L1202.8 654.9L1242.6 657.3L1264.6 659.7L1286.5 664.6L1286.5 505.2L1250.6 501.9L1230.7 499L1214.7 495.6L1178.9 486.2L1162.9 483.2L1147 481.4L1131 481L1119.1 481.5L1107.1 482.9L1095.1 485.6L1087.2 488.2L1079.2 491.6L1071.2 496.2L1063.3 502.2L1056.3 508.9L1047.3 520.8L1041.1 532.7L1037 544.6L1035.4 552.6L1034.6 560.5L1035 572.4L1036.8 584.3L1048.4 628L1050.6 639.9L1050.7 647.8L1050 651.8L1048.4 655.8L1045.9 659.7L1042 663.7L1035.3 668.6L1027.4 672.9L1015.4 677.5L999.5 681.6L951.6 691.1L931.7 696.3L931.7 767.1L951.6 772.9L971.6 777.1L995.5 780.5Z" fill="#70a1ce" fill-rule="evenodd"/>
<path d="M1020.4 778.8L1051.3 780.5L1079.2 780.3L1131 777.5L1166.9 774.4L1189.2 770.9L1202.4 766.9L1210.8 762.7L1218.7 756.2L1222.9 751L1226.9 743.1L1228.2 739.1L1229.2 731.2L1228.6 723.3L1226.6 715.3L1222.4 707.4L1218.8 703.4L1210.8 698.5L1198.8 694.6L1181.8 691.5L1143 685.8L1131 683.4L1117.8 679.6L1108.7 675.6L1102.9 671.7L1099.7 667.7L1099.5 663.7L1103.5 659.7L1111.1 657L1116.7 655.8L1135 654.1L1158.9 653.3L1194.8 653.4L1238.7 655.4L1262.6 657.4L1286.5 660.9L1286.5 508.2L1246.6 503.7L1230.7 501.3L1209.2 497L1182.9 490.8L1166.9 488L1151 486.3L1135 486L1115.1 487.4L1103.1 489.6L1095.1 491.8L1087.2 494.8L1079.2 498.7L1071.2 503.8L1063.3 510.5L1054.4 520.8L1047.3 532.7L1042.7 544.6L1040.8 552.6L1039.8 560.5L1039.8 572.4L1042 588.3L1046.1 604.2L1054.6 632L1057.4 643.9L1057.8 651.8L1056.8 655.8L1054.6 659.7L1051 663.7L1047.3 666.6L1039.6 671.7L1031.8 675.6L1021.9 679.6L1003.5 684.8L954.8 695.5L941.2 699.4L931.7 702.9L931.7 759.9L951.2 766.9L971.6 772.1L995.5 776.2Z" fill="#80aed4" fill-rule="evenodd"/>
<path d="M1016.7 774.9L1047.3 777.3L1075.2 777.7L1115.1 776L1154.9 773.1L1174.9 770.6L1191.3 766.9L1202.8 762.2L1208 759L1212.7 755L1216.3 751L1220.9 743.1L1223.2 735.2L1223.5 727.2L1222 719.3L1218.7 711.5L1215.8 707.4L1211.5 703.4L1204.3 699.4L1191.1 695.5L1139 687.4L1127 685L1115.1 681.8L1108.6 679.6L1099.8 675.6L1093.2 671.7L1088.5 667.7L1085.9 663.7L1087.2 659.7L1095.4 655.8L1111.1 653L1127 652.1L1170.9 651.8L1206.8 652.6L1254.6 654.9L1286.5 657.8L1286.5 511.2L1230.7 503.5L1186.8 494.8L1170.9 492.2L1154.9 490.6L1139 490.4L1119.1 491.9L1107.1 494.1L1099.1 496.2L1091.2 499.1L1083.2 502.9L1075.2 508L1067.2 514.6L1058.4 524.8L1053.4 532.7L1049.7 540.7L1046 552.6L1044.7 560.5L1044.3 568.4L1045 580.4L1048.1 596.2L1055.3 619.1L1068.1 651.8L1069 655.8L1067.6 659.7L1063.1 663.7L1049.6 671.7L1039.3 676.7L1027.4 681.7L1008.5 687.5L974.1 695.5L959.2 699.4L943.7 704.8L931.7 710.5L931.7 751.9L946.2 759L967.6 766L991.5 771.3Z" fill="#8fbbdb" fill-rule="evenodd"/>
<path d="M1062.3 774.9L1099.1 774.3L1147 771.2L1174.9 767.5L1190.8 763.1L1199.6 759L1205.3 755L1210.8 749.5L1214.7 743.4L1216.5 739.1L1217.9 731.2L1217.8 727.2L1216.2 719.3L1212.4 711.3L1209 707.4L1203.8 703.4L1194.8 699.4L1178.1 695.5L1139 689.7L1119.1 685.8L1110.5 683.6L1098.9 679.6L1083.2 673L1075.2 670.8L1071.2 670.5L1067.2 670.9L1059.3 673L1033.4 683.6L1019.4 688.4L976.4 699.4L963.3 703.4L952.9 707.4L944.7 711.3L938.4 715.3L933.7 719.3L931.7 721.8L931.7 740.3L934 743.1L938.6 747.1L947.6 752.6L959.6 757.9L974.9 763L987.5 766.1L1003.5 769.2L1023.4 772.1L1043.3 774ZM1217 651.8L1286.5 654.8L1286.5 514L1270.6 511.2L1226.7 505L1174.9 495.9L1154.9 494.3L1139 494.4L1127 495.3L1115.1 497.2L1103.1 500.2L1095.1 503L1087.2 506.7L1079.2 511.6L1071.2 518.1L1065.1 524.8L1057.1 536.7L1052.1 548.6L1049.5 560.5L1048.8 568.4L1049 576.4L1049.9 584.3L1052.3 596.2L1058.8 616.1L1063.3 626.4L1067.2 634L1071.2 640L1075.2 644.3L1079.2 647L1083.2 648.6L1091.2 649.6L1119.1 649.6Z" fill="#9fc8e1" fill-rule="evenodd"/>
<path d="M1043.8 770.9L1075.2 772.3L1116.5 770.9L1154.9 767.5L1166.9 765.7L1179 763L1190 759L1194.8 756.4L1202.2 751L1205.9 747.1L1208.6 743.1L1211.7 735.2L1212.2 731.2L1211.5 723.3L1208.4 715.3L1205.7 711.3L1201.6 707.4L1195.2 703.4L1183.7 699.4L1166.9 696.1L1119.1 688.6L1107.1 685.7L1079.2 677.4L1071.2 676.6L1067.2 676.8L1059.3 678.2L1023.4 691L983.5 702.1L967.7 707.4L958.7 711.3L951.8 715.3L946.7 719.3L943.3 723.3L941.3 727.2L940.6 731.2L941.4 735.2L943.5 739.1L947 743.1L955.6 749.2L967.5 755L983.5 760.4L999.5 764.4L1019.4 768ZM1264.4 651.8L1286.5 652.1L1286.5 516.8L1270.6 513.6L1178.9 499.3L1154.9 497.7L1135 498.4L1123.1 500L1111.1 502.5L1099.1 506.4L1091.2 510.1L1083.2 514.9L1075.2 521.3L1068.3 528.7L1062.8 536.7L1057.2 548.6L1054.1 560.5L1053.2 572.4L1053.6 580.4L1054.7 588.3L1059.3 605.4L1063.3 615.4L1067.2 623.4L1071.2 629.7L1075.2 634.6L1079.2 638.2L1083.2 640.7L1091.2 643.5L1099.1 644.9L1133.7 647.8Z" fill="#b1d4e7" fill-rule="evenodd"/>
<path d="M1037 766.9L1067.2 769.3L1099.1 769L1139 766.3L1158.9 763.7L1170.9 761.2L1178.9 758.9L1187.9 755L1194.3 751L1198.8 747.1L1202.8 741.8L1205.6 735.2L1206.2 731.2L1205.4 723.3L1202.8 717L1198.5 711.3L1190.8 706L1185.1 703.4L1178.9 701.6L1166.9 698.9L1115.1 690.6L1079.2 681.9L1067.2 681.5L1059.3 682.8L1051.3 685L1023.4 694.8L987.5 705.6L975.6 710.1L965 715.3L959.5 719.3L955.7 723.3L953.5 727.2L952.9 731.2L953.7 735.2L956 739.1L959.8 743.1L963.6 745.8L972.9 751L983.5 755.3L999.5 760L1015.4 763.5ZM1167.2 647.8L1234.7 649.7L1274.5 649.9L1286.5 649.4L1286.5 519.6L1262.6 514.5L1186.8 502.9L1166.9 501.1L1147 501.1L1135 502.1L1123.1 503.9L1111.1 506.8L1103.1 509.6L1095.1 513.2L1087.2 517.9L1079.2 524.1L1075.2 528.1L1068.4 536.7L1062.2 548.6L1058.7 560.5L1057.5 572.4L1058.2 584.3L1059.6 592.3L1061.8 600.2L1067.2 613.6L1071.2 620.7L1075.2 626.2L1081 632L1086.9 635.9L1091.2 637.9L1099.1 640.4L1115.1 643.4L1131 645.5Z" fill="#c3dfed" fill-rule="evenodd"/>
<path d="M1033.5 763L1047.3 764.8L1063.3 766.2L1091.2 766.5L1111.1 765.6L1135 763.6L1151 761.5L1164.1 759L1174.9 755.8L1182.9 752.3L1190.8 747.1L1194.8 743.1L1197.4 739.1L1199 735.2L1199.8 731.2L1199.7 727.2L1198.9 723.3L1197.2 719.3L1194.8 715.8L1190.4 711.3L1183.9 707.4L1172.8 703.4L1153.2 699.4L1115.1 693.5L1079.2 686L1067.2 685.7L1059.3 686.9L1047.3 690.4L996.7 707.4L986.4 711.3L978.2 715.3L972.2 719.3L968 723.3L965.7 727.2L964.9 731.2L965.8 735.2L968.4 739.1L972.6 743.1L978.8 747.1L987.2 751L999.5 755.3L1013.1 759ZM1204.9 647.8L1254.6 648.2L1274.5 647.8L1286.5 646.8L1286.5 522.3L1274.5 519.1L1262.6 516.7L1198.8 506.9L1174.9 504.3L1151 504.1L1139 505L1127 506.8L1115.1 509.7L1107.1 512.4L1099.1 515.9L1091.2 520.6L1085.4 524.8L1079.2 530.5L1071.3 540.7L1065.5 552.6L1062.5 564.5L1061.7 576.4L1063.3 589.6L1064.9 596.2L1067.6 604.2L1071.2 611.8L1075.2 618.1L1079.2 623.1L1083.2 626.9L1090.5 632L1099.4 635.9L1113.3 639.9L1127 642.6L1139 644.3L1154.9 645.7Z" fill="#d3e9f0" fill-rule="evenodd"/>
<path d="M1061.3 763L1087.2 763.6L1115.1 762.2L1143 759.2L1163.2 755L1174.9 750.8L1181.6 747.1L1186.8 742.8L1189.8 739.1L1191.8 735.2L1192.7 731.2L1192.6 727.2L1191.6 723.3L1189.5 719.3L1186.8 716.1L1180.8 711.3L1172.1 707.4L1157 703.4L1119.1 697.3L1087.2 691L1079.2 689.8L1067.2 689.7L1059.3 690.9L1051.3 693L1010.4 707.4L991.4 715.3L984.9 719.3L980.4 723.3L977.8 727.2L977.1 731.2L978.1 735.2L980.9 739.1L985.6 743.1L992.5 747.1L1002 751L1014.7 755L1031.4 758.9L1047.3 761.5ZM1152 643.9L1186.8 646L1230.7 646.9L1266.6 646L1286.5 644.1L1286.5 525.1L1274.5 521.6L1262.6 518.9L1214.7 511.3L1182.9 507.4L1158.9 506.7L1139 508.3L1127 510.4L1117.6 512.9L1107.1 516.7L1099.1 520.6L1092.6 524.8L1087.2 529L1079.7 536.7L1074.2 544.6L1070.3 552.6L1066.9 564.5L1065.9 576.4L1067.2 588.3L1070.6 600.2L1074.3 608.1L1079.5 616.1L1087.2 623.9L1093 628L1100.8 632L1111.4 635.9L1126.2 639.9Z" fill="#e2efeb" fill-rule="evenodd"/>
<path d="M1054.7 759L1075.2 760.4L1099.1 760L1127 757.6L1151 753.7L1160.8 751L1166.9 748.7L1170.9 746.9L1177 743.1L1181.2 739.1L1183.7 735.2L1184.8 731.2L1184.7 727.2L1183.4 723.3L1180.7 719.3L1176.2 715.3L1169 711.3L1156.9 707.4L1083.2 694L1075.2 693.4L1067.2 693.6L1055.3 695.8L1033.1 703.4L1013 711.3L1004.5 715.3L997.7 719.3L992.9 723.3L990.2 727.2L989.4 731.2L990.5 735.2L993.6 739.1L998.9 743.1L1006.6 747.1L1017.3 751L1031.4 754.9ZM1170.8 643.9L1206.8 645.4L1238.7 645.4L1269 643.9L1286.5 641.4L1286.5 527.9L1274.5 524L1261 520.8L1222.7 514.5L1186.8 510.1L1170.9 509.3L1158.9 509.5L1147 510.4L1135 512.1L1117 516.8L1107.3 520.8L1100 524.8L1094.2 528.7L1087.2 534.9L1079.3 544.6L1075.1 552.6L1072.2 560.5L1070.3 572.4L1070.8 584.3L1072.4 592.3L1077.1 604.2L1082.1 612.1L1087.2 617.7L1095.1 624.1L1103.1 628.6L1115.1 633.7L1127 637.4L1139 640.1L1154.9 642.4Z" fill="#f0f6e7" fill-rule="evenodd"/>
<path d="M1052.2 755L1071.2 756.9L1095.1 756.8L1119.1 754.8L1142.8 751L1156.8 747.1L1166.9 742.1L1170.9 739.1L1174.1 735.2L1175.5 731.2L1175.3 727.2L1173.6 723.3L1170 719.3L1166.9 717.1L1158.9 713.2L1147 709.6L1083.2 697.8L1071.2 697.3L1059.3 698.9L1043.3 703.8L1025.1 711.3L1017 715.3L1010.3 719.3L1005.5 723.3L1002.6 727.2L1001.8 731.2L1003.2 735.2L1006.7 739.1L1015.4 744.5L1021.2 747.1L1033.4 751ZM1198.1 643.9L1222.7 644.2L1246.6 643.6L1270.6 641.5L1286.5 638.6L1286.5 530.8L1274.5 526.6L1262.6 523.4L1230.7 517.6L1190.8 512.7L1174.9 511.9L1162.9 512L1151 512.9L1139 514.6L1128.7 516.8L1119.1 519.8L1111.1 523.1L1103.1 527.4L1095.7 532.7L1091.3 536.7L1084.6 544.6L1082 548.6L1078.2 556.5L1075.8 564.5L1074.5 576.4L1075.8 588.3L1079.2 598.5L1084.7 608.1L1091.2 615.4L1099.1 621.7L1107.1 626.4L1119.5 632L1131.2 635.9L1147 639.5L1158.9 641.2L1174.9 642.6Z" fill="#f7f4d6" fill-rule="evenodd"/>
<path d="M1052.2 751L1071.2 753.3L1091.2 753.3L1115.1 751.3L1135 747.9L1150.8 743.1L1158.2 739.1L1162.4 735.2L1164.2 731.2L1164 727.2L1161.6 723.3L1156.6 719.3L1147.9 715.3L1133.5 711.3L1095.1 703.6L1083.2 701.8L1071.2 701.4L1059.3 703.1L1047.3 706.8L1036.6 711.3L1022.4 719.3L1017.8 723.3L1015 727.2L1014.4 731.2L1016 735.2L1019.4 738.6L1026.5 743.1L1036.5 747.1ZM1162 639.9L1194.8 642.3L1230.7 642.6L1250.6 641.5L1266.5 639.9L1278.5 637.8L1286.5 635.7L1286.5 533.7L1278.5 530.5L1266.6 526.7L1254.6 523.8L1238.7 520.9L1198.8 515.6L1182.9 514.5L1170.9 514.4L1158.9 514.9L1147 516.2L1135 518.5L1127 520.7L1119.1 523.5L1111.1 527.2L1103.1 532.1L1097.3 536.7L1089.9 544.6L1084.7 552.6L1081.4 560.5L1079.5 568.4L1079 580.4L1080.3 588.3L1082.9 596.2L1087.2 604L1093.9 612.1L1099.1 616.6L1107.1 622.1L1118.2 628L1127.7 632L1140.4 635.9Z" fill="#fbf1c3" fill-rule="evenodd"/>
<path d="M1054.7 747.1L1071.2 749.3L1087.2 749.5L1107.1 747.8L1123.1 745L1131.2 743.1L1143 738.4L1147.6 735.2L1150 731.2L1149.6 727.2L1146.1 723.3L1139 719.3L1127.1 715.3L1111 711.3L1092.3 707.4L1083.2 706.1L1071.2 705.8L1063.3 706.8L1051.3 710.3L1040.4 715.3L1034.2 719.3L1029.8 723.3L1027.3 727.2L1026.9 731.2L1028.9 735.2L1033.5 739.1L1041.3 743.1ZM1177.7 639.9L1210.8 641.3L1238.7 640.7L1250.6 639.7L1266.6 637.6L1275.6 635.9L1286.5 632.7L1286.5 536.7L1277.3 532.7L1265.3 528.7L1250.6 525.2L1238.7 522.9L1202.8 518.1L1186.8 517L1170.9 516.9L1158.9 517.6L1147 519.1L1135 521.7L1127 524.1L1119.1 527.3L1111.1 531.4L1103.4 536.7L1098.9 540.7L1092.2 548.6L1087.6 556.5L1084.8 564.5L1083.4 572.4L1083.5 580.4L1084.9 588.3L1087.8 596.2L1092.6 604.2L1099.1 611.3L1104.9 616.1L1115.1 622.6L1127 628.6L1135.7 632L1149.9 635.9L1162.9 638.2Z" fill="#fdeab0" fill-rule="evenodd"/>
<path d="M1060.5 743.1L1071.2 744.6L1083.2 745L1095.1 744.2L1107.1 742.3L1119.7 739.1L1128.1 735.2L1131.5 731.2L1130.8 727.2L1126.1 723.3L1117.2 719.3L1104.4 715.3L1095.1 713.1L1087.2 711.5L1079.2 710.7L1071.2 710.8L1063.3 712.1L1053.7 715.3L1046.5 719.3L1042 723.3L1039.7 727.2L1039.7 731.2L1042.4 735.2L1048.4 739.1ZM1209.4 639.9L1230.7 639.5L1254.6 637.3L1274.5 633.5L1286.5 629.6L1286.5 539.8L1278.5 536L1266.6 531.6L1254.6 528.3L1237.5 524.8L1218.7 522L1202.8 520.2L1186.8 519.3L1170.9 519.3L1158.9 520.2L1147 522L1135.4 524.8L1127 527.6L1119.1 531.1L1111.1 535.8L1104.8 540.7L1099.1 546.5L1095.1 551.8L1092.5 556.5L1089.4 564.5L1088 572.4L1088 580.4L1089.5 588.3L1092.8 596.2L1098.1 604.2L1106.1 612.1L1115.1 618.6L1124.4 624L1135 628.8L1147 632.9L1160.3 635.9L1174.9 637.9L1190.8 639.2Z" fill="#fde19e" fill-rule="evenodd"/>
<path d="M1059.5 735.2L1067.2 737.6L1075.2 738.9L1083.2 739L1091.2 738L1099.1 736.1L1103.1 734.6L1107.8 731.2L1107.6 727.2L1102.6 723.3L1092.3 719.3L1079.2 717.2L1071.2 717.5L1063.3 719.3L1056.6 723.3L1055.3 725.2L1054 727.2L1054.7 731.2ZM1172.6 635.9L1190.8 637.6L1206.8 638.2L1222.7 638.1L1238.7 637.1L1250.6 635.8L1266.6 632.9L1278.5 629.6L1286.5 626.4L1286.5 543L1270.6 535.6L1258.6 531.7L1246.6 528.7L1230.7 525.8L1214.7 523.6L1186.8 521.6L1174.9 521.6L1162.9 522.5L1143 525.9L1133.3 528.7L1123.6 532.7L1116.5 536.7L1110.9 540.7L1106.4 544.6L1099.8 552.6L1095.5 560.5L1093.1 568.4L1092.4 576.4L1093.2 584.3L1095.8 592.3L1099.1 598.3L1103.6 604.2L1112 612.1L1123.1 619.6L1131 623.9L1140.2 628L1151 631.6Z" fill="#fdd78d" fill-rule="evenodd"/>
<path d="M1190.2 635.9L1218.7 636.5L1242.6 634.8L1254.6 633L1266.6 630.3L1278.5 626.5L1286.5 622.9L1286.5 546.5L1275.8 540.7L1266.6 536.8L1246.6 531L1230.7 527.9L1214.7 525.7L1198.8 524.3L1186.8 523.9L1174.9 524.1L1162.9 525.1L1151 527L1143 528.9L1135 531.5L1127 534.9L1119.1 539.4L1112.2 544.6L1107.1 549.9L1102.4 556.5L1098.9 564.5L1097.2 572.4L1097.3 580.4L1099.1 588.3L1102.9 596.2L1107.1 601.9L1113.1 608.1L1123.6 616.1L1131 620.5L1143 626.2L1151 629L1162.9 632.2L1174.9 634.3Z" fill="#fcc97d" fill-rule="evenodd"/>
<path d="M1172.8 632L1190.8 634.1L1206.8 634.8L1222.7 634.5L1238.7 633.2L1250.6 631.4L1265.4 628L1276.9 624L1286.5 619.2L1286.5 550.2L1277.5 544.6L1269.1 540.7L1258.5 536.7L1246.6 533.4L1221.8 528.7L1194.8 526.4L1182.9 526.3L1170.9 526.9L1158.9 528.4L1151 530L1141.1 532.7L1131.1 536.7L1123.8 540.7L1119.1 544L1113.8 548.6L1107.5 556.5L1105.3 560.5L1102.6 568.4L1101.8 576.4L1102.8 584.3L1105.7 592.3L1108 596.2L1114.5 604.2L1118.8 608.1L1127 614.3L1135 619.2L1144.9 624L1154.9 627.7Z" fill="#fcb96f" fill-rule="evenodd"/>
<path d="M1188.5 632L1202.8 632.8L1214.7 632.9L1230.7 632L1242.6 630.4L1255.2 628L1268.7 624L1278.2 620L1286.5 615.1L1286.5 554.2L1278.5 548.6L1271.1 544.6L1261.9 540.7L1250.6 536.9L1238.7 534L1226.7 531.8L1210.8 529.7L1198.8 528.9L1186.8 528.7L1174.9 529.2L1154.9 532.1L1139 536.9L1131 540.7L1123.1 545.8L1115.8 552.6L1112.8 556.5L1108.7 564.5L1106.8 572.4L1106.9 580.4L1107.7 584.3L1110.8 592.3L1115.1 598.7L1120 604.2L1129.7 612.1L1135.8 616.1L1147 621.8L1154.9 624.9L1165 628L1174.9 630Z" fill="#fba961" fill-rule="evenodd"/>
<path d="M1176.2 628L1190.8 630L1202.8 630.8L1218.7 630.7L1230.7 629.7L1243.2 628L1258.6 624.3L1270.6 620.1L1278.6 616.1L1286.5 610.5L1286.5 558.8L1278.8 552.6L1272.3 548.6L1264.3 544.6L1254.6 540.9L1234.7 535.6L1210.8 532.1L1186.8 531.2L1166.9 532.8L1154.9 535.1L1147 537.4L1138.8 540.7L1131.4 544.6L1123.1 551.1L1118.2 556.5L1115.1 561.7L1112.5 568.4L1111.7 572.4L1111.8 580.4L1114 588.3L1115.9 592.3L1119.1 597L1125.5 604.2L1131 608.8L1139 614.2L1147 618.5L1154.9 622L1162.9 624.7Z" fill="#f89858" fill-rule="evenodd"/>
<path d="M1193.3 628L1206.8 628.7L1218.7 628.4L1230.7 627.4L1242.6 625.5L1250.6 623.7L1262.2 620L1271.4 616.1L1278.2 612.1L1286.5 605L1286.5 564.2L1278.5 556.6L1272.7 552.6L1265.7 548.6L1256.8 544.6L1238.7 539.1L1226.7 536.6L1214.7 535L1202.8 534L1190.8 533.7L1178.9 534.2L1166.9 535.7L1158.9 537.3L1147.7 540.7L1139 544.6L1132.5 548.6L1127 553.1L1121.1 560.5L1119 564.5L1116.8 572.4L1116.5 576.4L1117.7 584.3L1121.2 592.3L1123.8 596.2L1131 604L1136.1 608.1L1141.9 612.1L1151 617L1158.9 620.4L1170.1 624L1182.9 626.6Z" fill="#f58750" fill-rule="evenodd"/>
<path d="M1182.6 624L1202.8 626.1L1214.7 626.1L1226.7 625.3L1238.7 623.5L1250.6 620.7L1258.6 618L1266.6 614.6L1271.2 612.1L1278.5 606.9L1282.5 603L1286.5 597.4L1286.5 571.7L1282.5 565.9L1277.4 560.5L1266.3 552.6L1258.5 548.6L1248.3 544.6L1234.7 540.8L1226.7 539.3L1214.7 537.5L1202.8 536.5L1190.8 536.4L1178.9 537L1166.9 538.8L1158.9 540.6L1151 543.2L1143 546.7L1135 551.9L1131 555.4L1126.8 560.5L1124.5 564.5L1122.9 568.4L1121.7 576.4L1122.9 584.3L1124.4 588.3L1127 593L1132.8 600.2L1139 605.7L1147 611.1L1154.9 615.4L1162.9 618.7L1170.9 621.3Z" fill="#f17547" fill-rule="evenodd"/>
<path d="M1177.6 620L1194.8 622.9L1214.7 623.5L1234.7 621.3L1242.6 619.7L1254.6 616L1263.5 612.1L1270.2 608.1L1275.2 604.2L1278.9 600.2L1282.5 594.2L1284.4 588.3L1284.7 584.3L1283.3 576.4L1279 568.4L1275.6 564.5L1271.4 560.5L1266 556.5L1259.1 552.6L1250.3 548.6L1238.7 544.8L1230.7 542.9L1210.8 539.9L1198.8 539.2L1186.8 539.4L1174.9 540.5L1166.9 542L1157.3 544.6L1151 547.1L1143 551.4L1139 554.3L1132.9 560.5L1130.3 564.5L1127.5 572.4L1127.1 576.4L1128.4 584.3L1131 590.3L1135 596.2L1143.3 604.2L1151 609.4L1158.9 613.6L1166.9 616.8Z" fill="#ea6340" fill-rule="evenodd"/>
<path d="M1195.4 620L1214.7 620.6L1230.7 618.9L1246.6 615.1L1254.7 612.1L1262.5 608.1L1268.2 604.2L1272.4 600.2L1275.5 596.2L1277.5 592.3L1278.7 588.3L1279.1 584.3L1278.7 580.4L1277.6 576.4L1275.7 572.4L1273 568.4L1269.4 564.5L1264.7 560.5L1258.6 556.4L1251 552.6L1240.5 548.6L1222.7 544.3L1202.8 542.3L1182.9 542.8L1170.9 544.6L1162.9 546.7L1157.5 548.6L1149.3 552.6L1143.5 556.5L1139.4 560.5L1135 567.4L1133.3 572.4L1132.9 576.4L1134.1 584.3L1138 592.3L1143 598.1L1150.1 604.2L1156.3 608.1L1162.9 611.5L1170.9 614.7L1178.9 617.1Z" fill="#e35139" fill-rule="evenodd"/>
<path d="M1190.6 616.1L1206.8 617.5L1214.7 617.3L1226.7 616.2L1242.6 612.5L1254.6 607.6L1260.3 604.2L1265.2 600.2L1268.7 596.2L1271.1 592.3L1272.4 588.3L1272.9 584.3L1272.6 580.4L1271.4 576.4L1269.4 572.4L1266.5 568.4L1262.5 564.5L1257.3 560.5L1250.5 556.5L1241.2 552.6L1234.7 550.5L1218.7 547L1198.8 545.4L1182.9 546.3L1174.9 547.6L1166.9 549.6L1158.9 552.5L1154.9 554.6L1146.8 560.5L1143.3 564.5L1141 568.4L1139.6 572.4L1139.1 576.4L1139.3 580.4L1142 588.3L1147.8 596.2L1152.1 600.2L1158.9 604.9L1164.8 608.1L1174.5 612.1Z" fill="#db4032" fill-rule="evenodd"/>
<path d="M1189.8 612.1L1202.8 613.6L1218.7 613.4L1226.7 612.4L1234.7 610.6L1246.6 606.3L1251 604.2L1256.9 600.2L1261 596.2L1263.8 592.3L1265.4 588.3L1266 584.3L1265.7 580.4L1264.4 576.4L1262.3 572.4L1259 568.4L1254.6 564.5L1248.5 560.5L1238.7 555.9L1230.7 553.3L1222.7 551.4L1206.8 549.3L1190.8 549.3L1174.9 551.8L1161.7 556.5L1155.4 560.5L1151.1 564.5L1148.4 568.4L1147 571.6L1146 576.4L1146.1 580.4L1147.1 584.3L1148.9 588.3L1151.6 592.3L1155.3 596.2L1160.2 600.2L1166.6 604.2L1175.4 608.1Z" fill="#d0352e" fill-rule="evenodd"/>
<path d="M1192.7 608.1L1206.8 609.5L1218.7 609L1230.7 606.8L1238.7 604.2L1242.6 602.3L1246.6 600.2L1250.6 597.2L1255.1 592.3L1257.1 588.3L1258 584.3L1257.7 580.4L1256.3 576.4L1253.9 572.4L1250.1 568.4L1242.6 563.2L1237.3 560.5L1230.7 558.1L1218.7 555L1202.8 553.4L1190.8 553.7L1175.8 556.5L1166.9 560.2L1160.6 564.5L1157 568.4L1154.8 572.4L1153.9 576.4L1153.9 580.4L1154.9 584.3L1157 588.3L1160 592.3L1162.9 595L1170.1 600.2L1178.9 604.3Z" fill="#c62a2b" fill-rule="evenodd"/>
<path d="M1184.9 600.2L1194.8 602.8L1206.8 604.1L1218.7 603.3L1230.7 600.4L1239.2 596.2L1243.9 592.3L1246.7 588.3L1247.8 584.3L1247.6 580.4L1246 576.4L1243.1 572.4L1238.4 568.4L1231.2 564.5L1222.7 561.6L1214.7 559.8L1202.8 558.7L1190.8 559.3L1182.9 560.9L1173.8 564.5L1168.3 568.4L1165.3 572.4L1163.8 576.4L1163.7 580.4L1164.8 584.3L1166.9 588L1170.8 592.3L1176.4 596.2Z" fill="#b22429" fill-rule="evenodd"/>
<path d="M1194.8 671.9L1192 671.7L1194.8 671.1L1203.6 671.7L1194.8 671.9M992.7 469.2L979.5 498L960.2 536.7L957 544.6L955.3 552.6L955.5 556.5L956.4 560.5L958.4 564.5L964.9 572.4L975.6 582.8L983.5 591.6L987.5 596.8L992.1 604.2L995.3 612.1L996.2 616.1L996.1 624L994.8 628L991.5 632.7L987.5 635.9L983.5 637.8L975.6 640.2L967.6 641L955.6 640.5L947.6 638.9L938.8 635.9L931.7 632.1M931.7 800.4L955.6 804.1L979.5 807.1L1023.4 811L1063.3 812.9L1095.1 812.4L1118.2 810.6L1131 807.8L1134.5 806.6L1135.6 802.7L1135.1 798.7L1140.7 794.7L1156.9 790.7L1194.8 784.9L1214.7 780.8L1230.7 776.2L1250.6 768.8L1254.6 767.8L1258.6 767.5L1262.6 768.1L1266.6 769.6L1286.5 781.5M1254.6 691.8L1222.7 686.3L1182.9 682.2L1164.9 679.6L1149.9 675.6L1142.9 671.7L1142.1 667.7L1148.7 663.7L1151 663.2L1162.9 661L1178.3 659.7L1194.8 659.7L1206.8 660.2L1238.8 663.7L1255.2 667.7L1263.3 671.7L1267.2 675.6L1268.4 679.6L1267.6 683.6L1266.6 685.3L1262.6 689.6L1258.6 691.3L1254.6 691.8M1286.5 490.3L1270.6 491.4L1258.6 491.5L1246.6 490.7L1236.2 489L1222.5 485.1L1213.4 481.1L1206.2 477.1L1194.3 469.2M1054.8 469.2L1047.3 475.4L1039.3 483.6L1031.9 493L1026.7 501L1022.3 508.9L1017 520.8L1013 532.7L1011.3 540.7L1010.2 552.6L1010.6 560.5L1011.8 568.4L1015 580.4L1024.2 608.1L1027.8 624L1028.1 635.9L1026.1 643.9L1024.1 647.8L1021 651.8L1015.4 656.5L1007.4 660.7L998.4 663.7L987.5 666.1L971.6 668.4L931.7 671.5M931.7 766.5L955.6 773.4L983.5 778.6L1011.4 781.7L1047.3 783.4L1067.2 783.3L1087.2 782.5L1151 778.3L1182.4 774.9L1201 770.9L1211.4 766.9L1218.1 763L1222.7 759L1229 751L1232.7 743.1L1234.4 735.2L1234.7 731.2L1234.1 723.3L1232.2 715.3L1230.6 711.3L1228.5 707.4L1225.3 703.4L1218.7 698.6L1211.6 695.5L1206.8 694.1L1194.6 691.5L1147 684.6L1126.3 679.6L1116.5 675.6L1110.8 671.7L1108.2 667.7L1109.2 663.7L1115.5 659.7L1131 656.5L1151 655L1178.9 654.3L1210.8 655.1L1246.6 657.5L1265.7 659.7L1286.5 664.2M1286.5 505.5L1250.6 502.1L1234.7 499.9L1218.7 496.8L1174.9 485.7L1158.9 483L1147 481.8L1127 481.5L1107.1 483.4L1091.2 487.3L1077.7 493L1071.2 496.8L1063.3 502.9L1057 508.9L1051.3 515.8L1045.5 524.8L1041.6 532.7L1038.6 540.7L1036.6 548.6L1035.4 556.5L1035 564.5L1036.4 580.4L1039.9 596.2L1048.8 628L1051.1 639.9L1051.2 647.8L1050.5 651.8L1049.1 655.8L1046.5 659.7L1042.7 663.7L1035.3 669L1027.4 673.3L1015.4 677.8L999.5 682L951.6 691.5L931.7 696.8M1045.3 770.9L1075.2 772.2L1115.1 770.9L1154.9 767.4L1166.9 765.5L1178.5 763L1186.8 760.1L1194.8 756.2L1201.9 751L1205.7 747.1L1208.4 743.1L1211.4 735.2L1212 731.2L1211.3 723.3L1208.2 715.3L1205.4 711.3L1201.3 707.4L1194.8 703.4L1183.2 699.4L1162.9 695.6L1119.1 688.7L1107.1 685.8L1079.2 677.6L1071.2 676.8L1067.2 677L1059.3 678.4L1023.4 691.1L979.7 703.4L963.6 709.4L952.4 715.3L947.3 719.3L943.8 723.3L941.8 727.2L941.1 731.2L941.9 735.2L943.7 738.5L947.5 743.1L955.6 748.9L968.1 755L983.5 760.2L1003.5 765L1023.4 768.4L1045.3 770.9M1286.5 516.9L1266.6 513L1230.7 507.8L1186.8 500.5L1170.9 498.6L1154.9 497.8L1143 498L1127 499.5L1115.1 501.7L1103.1 505.2L1091.2 510.3L1080.9 516.8L1071.2 525.6L1063 536.7L1057.4 548.6L1054.3 560.5L1053.3 572.4L1053.7 580.4L1055.7 592.3L1059 604.2L1063.7 616.1L1070.3 628L1075.2 634.3L1079.2 637.9L1087.2 642.1L1095.1 644.1L1103.1 645.2L1143 648.3L1230.7 650.9L1286.5 652M1054.7 759L1075.2 760.4L1099.1 760L1127 757.6L1151 753.7L1160.8 751L1166.9 748.7L1170.9 746.9L1177 743.1L1181.2 739.1L1183.7 735.2L1184.8 731.2L1184.7 727.2L1183.4 723.3L1180.7 719.3L1176.2 715.3L1169 711.3L1156.9 707.4L1083.2 694L1075.2 693.4L1067.2 693.6L1055.3 695.8L1033.1 703.4L1013 711.3L1004.5 715.3L997.7 719.3L992.9 723.3L990.2 727.2L989.4 731.2L990.5 735.2L993.6 739.1L998.9 743.1L1006.6 747.1L1017.3 751L1031.4 754.9L1054.7 759M1286.5 527.9L1270.6 523L1254.6 519.6L1218.7 513.9L1190.8 510.5L1174.9 509.4L1158.9 509.5L1143 510.9L1131 512.9L1119.1 516.1L1107.1 520.9L1095.1 528L1087.2 534.9L1079.3 544.6L1075.1 552.6L1071.3 564.5L1070.2 576.4L1071.2 587L1073.6 596.2L1077.1 604.2L1083.2 613.4L1089.7 620L1099.1 626.5L1110.6 632L1121.8 635.9L1137.7 639.9L1151 642L1170.8 643.9L1194.8 645L1222.7 645.6L1246.6 645.2L1270.6 643.7L1286.5 641.4M1059.4 743.1L1071.2 744.8L1083.2 745.2L1095.1 744.4L1107.1 742.6L1120.7 739.1L1129 735.2L1132.3 731.2L1131.7 727.2L1127 723.3L1118.1 719.3L1105.4 715.3L1095.1 712.9L1087.2 711.3L1079.2 710.5L1071.2 710.6L1063.3 711.9L1053 715.3L1046 719.3L1041.5 723.3L1039.1 727.2L1039.2 731.2L1041.8 735.2L1047.7 739.1L1059.4 743.1M1286.5 539.6L1274.5 534.3L1258.6 529.2L1238.7 524.9L1218.7 521.9L1198.8 519.8L1178.9 519.1L1162.9 519.8L1147 521.9L1135 524.8L1123.1 529.1L1115.1 533.1L1104.6 540.7L1097.2 548.6L1092.3 556.5L1089.2 564.5L1088.3 568.4L1087.6 576.4L1088.4 584.3L1090.7 592.3L1094.9 600.2L1101.5 608.1L1111 616.1L1123.1 623.4L1132.6 628L1147 633L1159.8 635.9L1178.9 638.4L1202.8 639.8L1222.7 639.9L1242.6 638.7L1262.6 636.2L1274.5 633.7L1286.5 629.7M1286.5 553.8L1274.5 546.1L1262.6 540.7L1250.6 536.7L1234.7 532.9L1214.7 530L1198.8 528.7L1182.9 528.6L1166.9 529.8L1154.9 531.8L1143 535.2L1131 540.3L1123.1 545.4L1115.4 552.6L1110 560.5L1107.1 568.4L1106.2 576.4L1107.3 584.3L1110.4 592.3L1115.9 600.2L1124 608.1L1135 615.9L1143 620.2L1154.9 625.2L1166.9 628.6L1182.9 631.5L1198.8 632.8L1214.7 633L1232.9 632L1250.6 629.2L1262.6 626.2L1274.5 622L1286.5 615.5M1176.1 620L1194.8 623.3L1214.7 623.9L1226.7 622.9L1238.7 620.9L1255.6 616.1L1264.5 612.1L1270.6 608.5L1276 604.2L1279.6 600.2L1282.5 595.8L1285.1 588.3L1285.4 584.3L1283.9 576.4L1279.7 568.4L1276.3 564.5L1266.8 556.5L1260 552.6L1251.4 548.6L1234.7 543.4L1214.7 539.9L1202.8 539L1190.8 538.9L1171.8 540.7L1162.9 542.6L1154.9 545L1146.7 548.6L1140.3 552.6L1135.6 556.5L1132.1 560.5L1129.6 564.5L1126.8 572.4L1126.8 580.4L1127.7 584.3L1131 591.6L1134.3 596.2L1143 604.5L1151 609.9L1158.9 614L1166.9 617.2L1176.1 620M1182.2 608.1L1198.8 611.4L1214.7 611.7L1230.7 609.4L1242.6 605.5L1252.3 600.2L1256.8 596.2L1259.8 592.3L1261.6 588.3L1262.3 584.3L1262 580.4L1260.7 576.4L1258.5 572.4L1255 568.4L1246.6 562.3L1234.7 556.7L1222.7 553.4L1210.8 551.6L1194.8 551.1L1181.3 552.6L1167.6 556.5L1158.9 561.5L1155.4 564.5L1152.3 568.4L1150.4 572.4L1149.6 576.4L1149.7 580.4L1150.7 584.3L1152.6 588.3L1155.4 592.3L1162.9 599L1171.8 604.2L1182.2 608.1" fill="none" stroke="#1a1a1a" stroke-width="0.55" stroke-opacity="0.85"/>
</g>
<rect x="931.7" y="469.2" width="354.8" height="353.3" fill="none" stroke="#000" stroke-width="2.7"/>
<path d="M931.7 734.2h6M931.7 645.9h12M931.7 557.5h6M982.4 822.5v-6M1033.1 822.5v-12M1083.8 822.5v-6M1134.4 822.5v-12M1185.1 822.5v-6M1235.8 822.5v-12" stroke="#000" stroke-width="2.7" fill="none"/>
<text x="931.7" y="860" font-size="38" text-anchor="middle" fill="#000" ><tspan>0</tspan></text>
<text x="1033.1" y="860" font-size="38" text-anchor="middle" fill="#000" ><tspan>4</tspan></text>
<text x="1134.4" y="860" font-size="38" text-anchor="middle" fill="#000" ><tspan>8</tspan></text>
<text x="1235.8" y="860" font-size="38" text-anchor="middle" fill="#000" ><tspan>12</tspan></text>
<text x="920" y="833.5" font-size="38.5" text-anchor="end" fill="#000" ><tspan>1</tspan></text>
<text x="920" y="656.9" font-size="38.5" text-anchor="end" fill="#000" ><tspan>2</tspan></text>
<text x="920" y="480.2" font-size="38.5" text-anchor="end" fill="#000" ><tspan>3</tspan></text>
<text x="1094.5" y="898.5" font-size="39.5" text-anchor="middle" fill="#000" ><tspan font-style="italic">K</tspan><tspan> (Å</tspan><tspan dy="-15" font-size="26.9">-1</tspan><tspan dy="15">)</tspan></text>
<text x="892.2" y="644.4" font-size="38.5" text-anchor="middle" fill="#000" transform="rotate(-90 892.2 644.4)" ><tspan font-style="italic">R</tspan><tspan> + </tspan><tspan font-style="italic">α</tspan><tspan> (Å)</tspan></text>
<text x="849.7" y="523.3" font-size="64" text-anchor="start" fill="#000" font-weight="bold" ><tspan>f</tspan></text>
<text x="937.9" y="512" font-size="38.2" text-anchor="start" fill="#fff" ><tspan>Rh</tspan><tspan dy="9.6" font-size="26">NC</tspan><tspan dy="-9.6">/CeO</tspan><tspan dy="9.6" font-size="26">2</tspan></text>
<text x="1200.2" y="594.3" font-size="38.2" text-anchor="middle" fill="#000" ><tspan>Rh-Rh</tspan></text>
<text x="1096" y="743.2" font-size="38.2" text-anchor="middle" fill="#000" ><tspan>Rh-O</tspan></text>
<g clip-path="url(#cg)">
<rect x="931.7" y="934.2" width="354.8" height="353.1" fill="#2a4a78"/>
<path d="M931.7 1287.3L1286.5 1287.3L1286.5 934.2L931.7 934.2Z" fill="#2c4c7d" fill-rule="evenodd"/>
<path d="M931.7 1287.3L1286.5 1287.3L1286.5 934.2L931.7 934.2L931.7 1066.9L943.7 1068.2L951.6 1070.6L956.9 1073.1L962.9 1077L966.7 1081L969 1085L970 1088.9L969.7 1092.9L967.9 1096.9L964.3 1100.8L959.6 1104.2L955.6 1106.2L947.6 1109.1L939.7 1110.7L931.7 1111.3ZM1238.7 1208.1L1237.1 1208L1237.6 1204L1254.6 1203.5L1268.2 1204L1265.4 1208L1250.6 1208.4Z" fill="#2f5286" fill-rule="evenodd"/>
<path d="M957.9 1287.3L1128.4 1287.3L1129.9 1283.3L1127.6 1279.4L1118.5 1275.4L1100.7 1271.4L1059.3 1265.6L1043.3 1264.5L1031.4 1264.3L1015.4 1265.2L996.6 1267.5L974.3 1271.4L961.4 1275.4L956.1 1279.4L955.8 1283.3ZM995.4 1251.6L1011.4 1253.7L1023.4 1254.5L1039.3 1254.7L1055.3 1253.9L1158.9 1240.7L1182.9 1239L1230.7 1237.1L1250.6 1235.5L1274.5 1231.8L1282.4 1227.8L1260.6 1223.8L1230.7 1221.9L1194.8 1217.7L1182.9 1215.1L1174.9 1212.5L1173.5 1211.9L1169.3 1208L1173.5 1204L1189.8 1200L1198.8 1198.9L1234.7 1196L1286.5 1194.3L1286.5 934.2L973.9 934.2L965.8 942.1L953 958L945.4 969.9L941.2 977.8L934.5 993.7L931.7 1002.7L931.7 1033L934.6 1037.4L938.4 1041.3L963.6 1061L975.6 1072.2L979.5 1077.5L983.2 1085L984.1 1088.9L984.1 1092.9L983.3 1096.9L979.5 1103.9L975.6 1108.5L971.6 1112L963.6 1117.7L955.6 1122.5L931.7 1135.4L931.7 1237.6L935.6 1239.7L948.4 1243.7L971.6 1248.2Z" fill="#325a92" fill-rule="evenodd"/>
<path d="M1010.5 1243.7L1027.4 1245.7L1047.3 1246.1L1067.2 1244.6L1083.2 1241.8L1095.1 1238.2L1101.2 1235.7L1107.9 1231.8L1118.4 1223.8L1122.6 1219.9L1125.5 1215.9L1130.1 1208L1134.6 1204L1143.1 1200L1158.9 1196.2L1174.9 1194.1L1254.6 1187.8L1278.7 1184.1L1286.5 1181.8L1286.5 944L1274.5 939.9L1253.8 934.2L1071.5 934.2L1059.3 936.1L1043.3 939.8L1031.4 943.8L1023.4 947.3L1015.4 951.6L1007.4 956.9L999.5 963.5L993.1 969.9L983.9 981.8L979.2 989.7L975.4 997.7L970 1013.5L968.4 1021.5L967.8 1029.4L968.3 1037.4L969.1 1041.3L972.1 1049.3L976.8 1057.2L987.5 1072.5L992.1 1081L994.5 1088.9L994.5 1096.9L992.1 1104.8L989.9 1108.8L983.5 1117.3L970.7 1132.6L965.9 1140.5L962.7 1148.4L960.7 1156.4L959.3 1168.3L959.4 1176.2L961 1188.1L964.8 1200L972.7 1215.9L980.7 1227.8L984.2 1231.8L988.8 1235.7L991.5 1237.3L996.2 1239.7Z" fill="#37619c" fill-rule="evenodd"/>
<path d="M1035.9 1235.7L1047.3 1236.1L1055.3 1235.3L1063.3 1233.6L1071.2 1230.9L1079.2 1226.9L1089.6 1219.9L1106.8 1204L1112.2 1200L1123.1 1194.1L1135 1189.5L1147 1186.3L1154.9 1185L1214.7 1180.2L1230.9 1176.2L1236.2 1172.2L1233.6 1168.3L1230.7 1167.2L1222.7 1166.3L1170.9 1168.6L1162.9 1168.5L1151 1167.4L1143 1165.8L1138.2 1164.3L1135 1162.6L1131.6 1160.3L1133.2 1156.4L1147 1154.2L1166.9 1154L1204 1156.4L1214.7 1158.4L1226.7 1159.7L1242.6 1160.1L1262.6 1158.5L1286.5 1154.4L1286.5 955.4L1266.6 948.3L1250.6 943.8L1234.7 940.3L1214.7 937.1L1198.8 935.5L1178.9 934.7L1158.9 935L1143 936.1L1115.1 939.4L1083.2 944.5L1063.3 948.3L1047.3 952.5L1035.3 957L1023.4 963.2L1011.4 972L1003.5 979.9L996 989.7L989.5 1001.6L985.2 1013.5L982.7 1025.5L982.4 1037.4L984.8 1049.3L988.2 1057.2L1000.7 1081L1003.3 1088.9L1004.1 1096.9L1003.5 1102.5L1001.7 1108.8L998 1116.7L989.3 1132.6L984.7 1144.5L981.9 1156.4L981 1164.3L980.8 1172.2L981.5 1180.2L984.7 1192.1L988.3 1200L995.5 1211.2L1003.2 1219.9L1011.4 1226.7L1019.4 1231.3L1027.4 1234.1Z" fill="#3d69a6" fill-rule="evenodd"/>
<path d="M1031 1215.9L1039.3 1217.9L1047.3 1218.4L1055.3 1217.4L1063.3 1215.1L1075.2 1209L1098.5 1192.1L1107.4 1184.1L1110.2 1180.2L1111.2 1176.2L1110.2 1172.2L1104.6 1164.3L1102.5 1160.3L1102.5 1156.4L1106.9 1152.4L1111.1 1151.1L1119.1 1149.4L1127 1148.5L1143 1148.2L1214.7 1151.1L1246.6 1151.4L1266.6 1150.1L1286.5 1147.2L1286.5 963.2L1270.6 957.1L1254.6 952L1238.7 948.1L1218.7 944.5L1202.8 942.6L1182.9 941.5L1166.9 941.6L1151 942.4L1131 944.5L1107.1 948.2L1071.2 955.2L1055.3 959.5L1043.3 963.8L1031.4 969.8L1023.4 975L1015.4 981.9L1007.4 991L1000.8 1001.6L995.9 1013.5L993.7 1021.5L992.6 1029.4L992.7 1041.3L994.2 1049.3L997 1057.2L1006.6 1077L1009.9 1085L1012.1 1092.9L1012.9 1100.8L1012.3 1108.8L1011.4 1113.2L1003.8 1136.5L999.9 1152.4L998.1 1164.3L998 1172.2L1000.2 1184.1L1003.5 1192.1L1007.4 1198.2L1012.4 1204L1019.4 1209.9L1023.4 1212.4Z" fill="#4271b0" fill-rule="evenodd"/>
<path d="M1042.8 1200L1051.3 1200.1L1055.3 1199.4L1063.3 1196.9L1072.2 1192.1L1079.2 1186.2L1083.7 1180.2L1084.9 1176.2L1084.9 1172.2L1080.4 1160.3L1080 1156.4L1081.9 1152.4L1083.2 1151.4L1087.9 1148.4L1095.1 1146.4L1108.3 1144.5L1127 1144.1L1202.8 1147.3L1238.7 1147.6L1262.6 1146.2L1286.5 1142.4L1286.5 969.5L1274.5 964.5L1258.6 958.9L1246.6 955.5L1226.7 951.1L1210.8 948.8L1194.8 947.3L1178.9 946.7L1158.9 947.2L1139 949.1L1119.1 952L1095.1 956.6L1067.2 963.2L1055.3 967L1043.3 972L1031.4 978.9L1022.9 985.8L1018.9 989.7L1012.6 997.7L1006.1 1009.6L1003.2 1017.5L1001.4 1025.5L1000.5 1033.4L1000.7 1041.3L1002 1049.3L1004.5 1057.2L1018.5 1088.9L1020.8 1096.9L1022.2 1104.8L1022.5 1116.7L1021.5 1128.6L1019.5 1144.5L1015.9 1164.3L1015.7 1172.2L1016.4 1176.2L1019.3 1184.1L1021.9 1188.1L1025.6 1192.1L1031 1196L1035.3 1198.1Z" fill="#4c7cb8" fill-rule="evenodd"/>
<path d="M1196.5 1144.5L1226.7 1144.9L1250.6 1143.9L1270.6 1141.6L1286.5 1138.3L1286.5 974.8L1270.6 967.9L1258.6 963.7L1242.6 959.1L1222.7 955L1206.8 952.7L1190.8 951.5L1170.9 951.2L1154.9 952L1131 954.9L1111.1 958.5L1087.2 963.8L1067.2 969.2L1055.3 973.5L1043.3 979.2L1031.4 987.4L1023.4 995.2L1015.9 1005.6L1010.6 1017.5L1008 1029.4L1007.5 1037.4L1008.1 1045.3L1009.9 1053.2L1012.6 1061.2L1023.8 1085L1028.7 1096.9L1039 1128.6L1043.3 1135.8L1047.3 1139.4L1051.3 1141.3L1055.3 1142.1L1063.3 1142L1087.2 1139.9L1103.1 1139.6Z" fill="#5788bf" fill-rule="evenodd"/>
<path d="M1162.4 1140.5L1202.8 1142.5L1234.7 1142.2L1262.6 1139.7L1274.5 1137.6L1286.5 1134.5L1286.5 979.6L1270.6 972.3L1258.6 967.9L1242.6 963.2L1226.7 959.6L1206.8 956.6L1190.8 955.3L1170.9 955.1L1154.9 956L1131 959.1L1111.1 962.9L1087.2 968.6L1067.2 974.7L1055.3 979.5L1043.3 986L1033.3 993.7L1026.1 1001.6L1023.3 1005.6L1019 1013.5L1015.1 1025.5L1013.8 1037.4L1015.1 1049.3L1017.2 1057.2L1020.4 1065.1L1035.3 1095L1043.3 1110L1047.3 1115.9L1051.3 1120.4L1055.3 1123.9L1059.3 1126.5L1067.2 1129.7L1075.2 1131.6L1103.1 1135Z" fill="#6395c7" fill-rule="evenodd"/>
<path d="M1144.1 1136.5L1166.9 1138.7L1186.8 1139.9L1210.8 1140.4L1230.7 1140.1L1246.6 1139L1262.6 1136.9L1274.5 1134.4L1286.5 1130.8L1286.5 983.9L1270.6 976.4L1258.6 971.8L1242.6 966.9L1226.7 963.2L1210.8 960.6L1194.8 959L1178.9 958.5L1162.9 959L1143 960.9L1123.1 964.3L1103.1 968.8L1079.2 975.5L1067.2 979.7L1054 985.8L1043.3 992.6L1035.3 999.7L1027.7 1009.6L1025.5 1013.5L1022.3 1021.5L1019.9 1033.4L1020.1 1045.3L1023 1057.2L1028 1069.1L1039.3 1089.7L1049.5 1104.8L1055.3 1111.3L1063.3 1117.7L1071.2 1122L1078 1124.6L1087.2 1127.3L1103.1 1130.7L1123.1 1133.9Z" fill="#70a1ce" fill-rule="evenodd"/>
<path d="M1166.6 1136.5L1202.8 1138.4L1222.7 1138.3L1238.7 1137.4L1254.6 1135.5L1266.6 1133.3L1278.5 1130L1286.5 1127.1L1286.5 988L1270.6 980.1L1258.6 975.3L1242.6 970.3L1226.7 966.4L1210.8 963.8L1194.8 962.2L1178.9 961.7L1158.9 962.5L1143 964.3L1123.1 967.8L1103.1 972.6L1079.2 979.9L1067.2 984.5L1055.3 990.6L1045.1 997.7L1037.2 1005.6L1031.4 1014.3L1026.9 1025.5L1025.2 1037.4L1026.3 1049.3L1029.9 1061.2L1035.6 1073.1L1045.3 1088.9L1055.3 1101.6L1063.3 1108.9L1071.2 1114.4L1079.2 1118.5L1091.2 1123L1107.1 1127.4L1127 1131.5L1147 1134.5Z" fill="#80aed4" fill-rule="evenodd"/>
<path d="M1150.2 1132.6L1170.9 1134.9L1190.8 1136.1L1210.8 1136.5L1230.7 1135.8L1246.6 1134.2L1262.6 1131.4L1274.5 1128.1L1286.5 1123.4L1286.5 991.9L1274.5 985.5L1262.6 980.2L1246.6 974.6L1230.7 970.3L1214.7 967.3L1198.8 965.5L1182.9 964.7L1166.9 965L1147 966.9L1131 969.5L1111.1 974.1L1091.2 979.9L1075.2 985.7L1063.3 991.2L1052.9 997.7L1043.9 1005.6L1037.8 1013.5L1035.3 1018.1L1032.5 1025.5L1030.8 1033.4L1030.8 1045.3L1033.6 1057.2L1038.8 1069.1L1046 1081L1054.9 1092.9L1063.3 1101.4L1071.2 1107.7L1079.7 1112.7L1091.2 1118.1L1103.1 1122.3L1119.1 1126.7L1135 1130.1Z" fill="#8fbbdb" fill-rule="evenodd"/>
<path d="M1168.1 1132.6L1186.8 1134L1206.8 1134.6L1222.7 1134.2L1238.7 1132.9L1250.6 1131.2L1262.8 1128.6L1274.5 1125L1286.5 1119.8L1286.5 995.6L1274.5 988.9L1262.6 983.4L1246.6 977.6L1230.7 973.2L1214.7 970.2L1198.8 968.2L1182.9 967.5L1166.9 967.8L1151 969.3L1131 972.6L1111.1 977.4L1091.2 983.6L1075.6 989.7L1063.3 996.1L1055.2 1001.6L1046.9 1009.6L1041.4 1017.5L1039.3 1021.6L1036.8 1029.4L1035.7 1037.4L1036.5 1049.3L1038.7 1057.2L1044.1 1069.1L1051.6 1081L1061.5 1092.9L1070.3 1100.8L1079.2 1107L1091.2 1113.4L1103.1 1118.3L1119.1 1123.5L1135 1127.4L1151 1130.4Z" fill="#9fc8e1" fill-rule="evenodd"/>
<path d="M1199.6 1132.6L1226.7 1131.9L1238.7 1130.7L1250.6 1128.8L1262.6 1125.9L1270.6 1123.3L1286.5 1116.2L1286.5 999.3L1274.5 992.2L1258.6 984.8L1246.6 980.4L1230.7 976L1214.7 972.8L1198.8 970.9L1182.9 970.1L1166.9 970.5L1151 972L1131 975.5L1111.1 980.6L1091.2 987.3L1079.2 992.2L1067.2 998.5L1057.4 1005.6L1049.8 1013.5L1044.9 1021.5L1043.2 1025.5L1041.1 1033.4L1040.6 1041.3L1042.4 1053.2L1047 1065.1L1054.2 1077L1063.3 1088.2L1072.6 1096.9L1083.2 1104.4L1095.1 1110.9L1111.1 1117.6L1127 1122.7L1143 1126.5L1162.9 1129.9L1182.9 1131.8Z" fill="#b1d4e7" fill-rule="evenodd"/>
<path d="M1169.5 1128.6L1186.8 1130.1L1206.8 1130.7L1222.7 1130.1L1237.6 1128.6L1250.6 1126.3L1262.6 1123.1L1274.5 1118.7L1286.5 1112.6L1286.5 1002.9L1274.5 995.4L1262.6 989.4L1250.6 984.6L1234.7 979.6L1218.7 976.1L1202.8 973.8L1186.8 972.7L1170.9 972.9L1154.9 974.2L1139 976.7L1123.1 980.3L1103.1 986.4L1087.2 992.5L1075.2 998.4L1064.1 1005.6L1055.8 1013.5L1050.3 1021.5L1047.1 1029.4L1045.6 1037.4L1045.5 1041.3L1046.3 1049.3L1048.5 1057.2L1054.2 1069.1L1059.5 1077L1067.2 1086.2L1075.2 1093.7L1084.9 1100.8L1095.1 1106.8L1107.7 1112.7L1123.1 1118.5L1139 1123.1L1154.9 1126.4Z" fill="#c3dfed" fill-rule="evenodd"/>
<path d="M1196.3 1128.6L1210.8 1128.6L1222.7 1128L1234.7 1126.8L1246.6 1124.7L1258.6 1121.6L1266.6 1118.9L1278.5 1113.6L1286.5 1109L1286.5 1006.5L1274.5 998.6L1262.6 992.3L1250.6 987.3L1234.7 982.2L1218.7 978.6L1202.8 976.2L1186.8 975.2L1170.9 975.3L1154.9 976.7L1139 979.3L1119.1 984.3L1103.1 989.6L1087.2 996.2L1077 1001.6L1065.9 1009.6L1059.3 1016.4L1053.7 1025.5L1051.1 1033.4L1050.3 1041.3L1050.5 1045.3L1052 1053.2L1055.3 1062L1061.7 1073.1L1071.2 1084.6L1080.4 1092.9L1091.2 1100.5L1103.1 1107.1L1115.8 1112.7L1131 1118.1L1147 1122.5L1162.9 1125.5L1178.9 1127.5Z" fill="#d3e9f0" fill-rule="evenodd"/>
<path d="M1171.6 1124.6L1190.8 1126.4L1206.8 1126.7L1222.7 1125.9L1238.7 1123.9L1252.9 1120.7L1264.8 1116.7L1274.5 1112.4L1286.5 1105.4L1286.5 1010.1L1278.5 1004.3L1266.6 997.2L1254.6 991.6L1238.7 985.9L1226.7 982.7L1210.8 979.6L1194.8 977.9L1178.9 977.5L1162.9 978.3L1147 980.4L1131 983.8L1115.1 988.4L1100.8 993.7L1087.2 1000L1077.6 1005.6L1067.7 1013.5L1061.2 1021.5L1057.2 1029.4L1055.3 1037.4L1055.2 1045.3L1056.7 1053.2L1059.6 1061.2L1066.7 1073.1L1073.2 1081L1081.4 1088.9L1091.2 1096.4L1103.1 1103.5L1114 1108.8L1127 1114L1143 1119L1158.9 1122.6Z" fill="#e2efeb" fill-rule="evenodd"/>
<path d="M1198.5 1124.6L1210.8 1124.6L1222.7 1123.8L1234.7 1122.2L1246.6 1119.8L1257.2 1116.7L1267.4 1112.7L1278.5 1107L1286.5 1101.7L1286.2 1013.5L1275.6 1005.6L1266.6 1000.2L1253.1 993.7L1238.7 988.4L1222.7 984.2L1210.8 982L1194.8 980.2L1178.9 979.8L1162.9 980.7L1147 982.9L1131 986.5L1115.1 991.4L1099.3 997.7L1087.2 1003.9L1078.5 1009.6L1069.7 1017.5L1064.1 1025.5L1060.9 1033.4L1059.8 1041.3L1059.9 1045.3L1061.3 1053.2L1064.3 1061.2L1071.5 1073.1L1078.3 1081L1086.9 1088.9L1097.9 1096.9L1107.1 1102.2L1121.1 1108.8L1135 1114L1151 1118.5L1166.9 1121.8L1182.9 1123.8Z" fill="#f0f6e7" fill-rule="evenodd"/>
<path d="M1174.1 1120.7L1190.8 1122.3L1206.8 1122.6L1222.7 1121.6L1238.7 1119.2L1254.6 1114.9L1266.6 1110.1L1276.6 1104.8L1286.5 1097.8L1286.5 1017.6L1276.7 1009.6L1266.6 1003.1L1254.6 997L1242.6 992.2L1230.7 988.5L1214.7 984.9L1202.8 983.2L1186.8 982.2L1170.9 982.4L1154.9 984L1139 987.1L1127 990.3L1111.1 995.8L1098.1 1001.6L1087.2 1008L1079.2 1013.9L1075.2 1017.7L1069.3 1025.5L1065.8 1033.4L1064.5 1041.3L1065 1049.3L1067.2 1057.2L1073.5 1069.1L1079.6 1077L1087.5 1085L1097.7 1092.9L1107.1 1098.8L1118.8 1104.8L1131 1109.9L1147 1115.1L1158.9 1118Z" fill="#f7f4d6" fill-rule="evenodd"/>
<path d="M1163.7 1116.7L1182.9 1119.5L1198.8 1120.5L1214.7 1120.1L1230.7 1118.3L1246.6 1114.8L1258.6 1110.7L1271.1 1104.8L1282.5 1097.2L1286.5 1093.7L1286.5 1021.7L1278.5 1014.4L1270.6 1008.6L1258.6 1001.6L1246.6 996.2L1234.7 992L1218.7 988L1206.8 986L1190.8 984.5L1174.9 984.5L1162.9 985.4L1147 987.8L1135 990.6L1119.1 995.7L1107.1 1000.7L1095.1 1006.9L1085.5 1013.5L1079.2 1019.4L1074.5 1025.5L1070.7 1033.4L1069.2 1041.3L1069.6 1049.3L1071.8 1057.2L1075.6 1065.1L1081.1 1073.1L1088.3 1081L1095.1 1087L1103.2 1092.9L1115.1 1099.9L1127 1105.5L1139 1110.1L1151 1113.7Z" fill="#fbf1c3" fill-rule="evenodd"/>
<path d="M1177.1 1116.7L1194.8 1118.2L1210.8 1118.2L1226.1 1116.7L1238.7 1114.4L1250.6 1111L1262.6 1106.1L1272.3 1100.8L1282.5 1093.2L1286.5 1089.4L1286.5 1026.1L1286 1025.5L1277.9 1017.5L1267.3 1009.6L1258.6 1004.4L1246.6 998.8L1234.7 994.4L1218.7 990.3L1206.8 988.2L1190.8 986.7L1174.9 986.7L1162.9 987.7L1149.4 989.7L1135 993.2L1121.4 997.7L1107.1 1003.9L1097.1 1009.6L1087.2 1017L1082.7 1021.5L1077.3 1029.4L1074.4 1037.4L1073.8 1045.3L1075 1053.2L1078 1061.2L1082.7 1069.1L1089.2 1077L1097.7 1085L1107.1 1091.9L1115.3 1096.9L1127 1102.7L1139 1107.5L1151 1111.3L1162.9 1114.3Z" fill="#fdeab0" fill-rule="evenodd"/>
<path d="M1166.5 1112.7L1182.9 1115.2L1198.8 1116.2L1214.7 1115.7L1226.7 1114.3L1238.7 1111.9L1250.6 1108.3L1262.6 1103.2L1273.2 1096.9L1278.5 1092.7L1286.5 1084.5L1286.5 1031L1278.5 1021.8L1270.6 1015.1L1262.6 1009.6L1250.6 1003.2L1238.7 998.2L1226.7 994.5L1214.7 991.7L1198.8 989.5L1182.9 988.8L1170.9 989.2L1158.9 990.5L1147 992.7L1131 997L1119.1 1001.5L1110.3 1005.6L1099.1 1012.2L1092.2 1017.5L1084.8 1025.5L1082.3 1029.4L1079.2 1037.4L1078.3 1045.3L1079.5 1053.2L1082.5 1061.2L1087.3 1069.1L1093.9 1077L1102.7 1085L1111.1 1091L1119.1 1095.8L1131 1101.7L1143 1106.4L1154.9 1110Z" fill="#fde19e" fill-rule="evenodd"/>
<path d="M1180.5 1112.7L1194.8 1113.9L1206.8 1113.9L1221.7 1112.7L1234.7 1110.4L1246.6 1107.1L1254.6 1104L1266.6 1097.8L1273.6 1092.9L1281.9 1085L1286.5 1078.7L1286.5 1036.7L1281.5 1029.4L1274 1021.5L1266.6 1015.4L1257.6 1009.6L1246.6 1004L1234.7 999.3L1222.7 995.8L1210.8 993.3L1194.8 991.4L1178.9 991.1L1166.9 991.8L1154.9 993.5L1143 996.1L1131 999.7L1116.8 1005.6L1107.1 1010.9L1097.7 1017.5L1091.2 1024L1087.2 1029.4L1083.9 1037.4L1082.9 1045.3L1083.2 1049.3L1085.2 1057.2L1089.2 1065.1L1095 1073.1L1102.8 1081L1111.1 1087.5L1119.4 1092.9L1131 1098.9L1143 1103.8L1154.9 1107.6L1166.9 1110.5Z" fill="#fdd78d" fill-rule="evenodd"/>
<path d="M1169.6 1108.8L1182.9 1110.8L1194.8 1111.7L1210.8 1111.5L1222.7 1110.3L1234.7 1108L1246.6 1104.4L1255.3 1100.8L1266.6 1094.4L1273.7 1088.9L1278.5 1084L1283.6 1077L1286.5 1070.9L1286.5 1044.5L1283.2 1037.4L1280.6 1033.4L1274.5 1026L1269.8 1021.5L1259.2 1013.5L1250.6 1008.6L1238.7 1003.2L1226.7 999.2L1214.7 996.3L1202.8 994.4L1190.8 993.4L1174.9 993.5L1162.9 994.6L1151 996.7L1139 999.8L1127 1004.1L1115.4 1009.6L1108.8 1013.5L1103.1 1017.6L1095.1 1025.5L1091.2 1031.3L1088.6 1037.4L1087.7 1041.3L1087.7 1049.3L1089.7 1057.2L1093.6 1065.1L1099.5 1073.1L1107.6 1081L1115.1 1086.7L1124.9 1092.9L1135 1097.9L1147 1102.7L1158.9 1106.3Z" fill="#fcc97d" fill-rule="evenodd"/>
<path d="M1185 1108.8L1198.8 1109.6L1210.8 1109.2L1222.7 1107.9L1234.7 1105.5L1246.6 1101.7L1254.6 1098.2L1263.7 1092.9L1270.6 1087.6L1276.8 1081L1279.6 1077L1283.4 1069.1L1285.2 1061.2L1285 1053.2L1283.2 1045.3L1279.4 1037.4L1273.7 1029.4L1265.5 1021.5L1258.6 1016.3L1247.1 1009.6L1238.7 1005.8L1226.7 1001.6L1214.7 998.6L1202.8 996.6L1190.8 995.6L1178.9 995.6L1166.9 996.4L1154.9 998.3L1143 1001.2L1131 1005.4L1121.7 1009.6L1111.1 1015.9L1104.1 1021.5L1099.1 1026.8L1094.9 1033.4L1093.3 1037.4L1092 1045.3L1092.2 1049.3L1094.1 1057.2L1098.1 1065.1L1104.1 1073.1L1112.4 1081L1119.1 1086L1130.5 1092.9L1138.8 1096.9L1151 1101.5L1162.3 1104.8L1174.9 1107.4Z" fill="#fcb96f" fill-rule="evenodd"/>
<path d="M1173.2 1104.8L1186.8 1106.7L1198.8 1107.3L1210.8 1106.9L1222.7 1105.5L1234.7 1102.9L1242.6 1100.4L1254.6 1095.1L1262.6 1090.1L1268.8 1085L1274.5 1078.3L1277.8 1073.1L1280.7 1065.1L1281.6 1057.2L1280.6 1049.3L1277.8 1041.3L1272.9 1033.4L1266.6 1026.3L1261.1 1021.5L1250.6 1014.4L1242.6 1010.2L1231.5 1005.6L1222.7 1002.9L1210.8 1000.1L1198.8 998.5L1186.8 997.8L1174.9 998L1162.9 999.3L1151.1 1001.6L1139 1005.2L1131 1008.4L1120.7 1013.5L1114.5 1017.5L1107.1 1023.7L1102.2 1029.4L1099.1 1034.8L1097 1041.3L1096.5 1045.3L1097.3 1053.2L1099.1 1058.5L1102.6 1065.1L1107.1 1071.2L1112.7 1077L1119.1 1082.3L1129 1088.9L1139 1094.1L1151 1098.9L1162.9 1102.5Z" fill="#fba961" fill-rule="evenodd"/>
<path d="M1193.3 1104.8L1202.8 1104.9L1214.7 1104.2L1226.7 1102.3L1234.7 1100.3L1244.4 1096.9L1252.7 1092.9L1259 1088.9L1268.1 1081L1271.3 1077L1275.6 1069.1L1277.6 1061.2L1277.6 1053.2L1275.6 1045.3L1273.9 1041.3L1268.9 1033.4L1262.6 1026.6L1256.5 1021.5L1250.6 1017.4L1242.6 1013L1230.7 1007.9L1222.7 1005.3L1210.8 1002.5L1198.8 1000.8L1186.8 1000.1L1174.9 1000.4L1163.8 1001.6L1154.9 1003.3L1143 1006.7L1135.2 1009.6L1126.9 1013.5L1119.1 1018.4L1110.6 1025.5L1107.1 1029.6L1102.8 1037.4L1101.6 1041.3L1101.2 1049.3L1103 1057.2L1107.1 1065.1L1111.1 1070.5L1117.5 1077L1127 1084.4L1134.6 1088.9L1151 1096.3L1162.9 1100.1L1170.9 1102L1182.9 1103.9Z" fill="#f89858" fill-rule="evenodd"/>
<path d="M1178 1100.8L1186.8 1101.9L1198.8 1102.6L1210.8 1102.1L1222.7 1100.5L1234.7 1097.5L1242.6 1094.6L1250.6 1090.6L1258.6 1085.3L1263.4 1081L1269.5 1073.1L1271.5 1069.1L1273.7 1061.2L1273.8 1053.2L1271.7 1045.3L1267.6 1037.4L1264.7 1033.4L1258.6 1027L1251.7 1021.5L1245.4 1017.5L1234.7 1012.2L1226.7 1009.1L1214.7 1005.8L1206.8 1004.2L1194.8 1002.8L1182.9 1002.5L1174.9 1002.8L1162.9 1004.3L1154.9 1006L1143 1009.5L1135 1012.9L1126.3 1017.5L1120.6 1021.5L1112.3 1029.4L1109.6 1033.4L1106.3 1041.3L1105.7 1045.3L1106.4 1053.2L1107.6 1057.2L1111.6 1065.1L1118.1 1073.1L1122.4 1077L1131 1083.5L1139 1088.1L1149.2 1092.9L1158.9 1096.4Z" fill="#f58750" fill-rule="evenodd"/>
<path d="M1170.5 1096.9L1178.9 1098.5L1190.8 1099.8L1202.8 1100.1L1210.8 1099.6L1222.7 1097.8L1230.7 1095.9L1239.3 1092.9L1247.5 1088.9L1253.7 1085L1258.6 1080.9L1262.6 1076.6L1267.3 1069.1L1268.8 1065.1L1270 1057.2L1269 1049.3L1265.9 1041.3L1262.6 1036.2L1256.6 1029.4L1250.6 1024.4L1242.6 1019.2L1234.7 1015.1L1226.7 1011.9L1218.7 1009.3L1206.8 1006.7L1198.8 1005.6L1186.8 1004.9L1174.9 1005.3L1166.9 1006.3L1151 1009.8L1140.8 1013.5L1132.7 1017.5L1126.4 1021.5L1121.5 1025.5L1117.6 1029.4L1114.7 1033.4L1112.5 1037.4L1111.1 1041.6L1110.4 1049.3L1111.1 1053.6L1114 1061.2L1119.1 1068.7L1123 1073.1L1127.4 1077L1135 1082.5L1143 1087L1151 1090.7L1158.9 1093.6Z" fill="#f17547" fill-rule="evenodd"/>
<path d="M1186.2 1096.9L1194.8 1097.5L1206.8 1097.3L1222.7 1095L1230.8 1092.9L1240.8 1088.9L1247.9 1085L1253.2 1081L1258.6 1075.5L1262.8 1069.1L1264.4 1065.1L1265.8 1057.2L1265.6 1053.2L1263.5 1045.3L1259.1 1037.4L1255.8 1033.4L1246.6 1025.2L1238.7 1020.2L1230.7 1016.3L1222.7 1013.3L1214.7 1011L1206.8 1009.3L1194.8 1007.8L1182.9 1007.5L1174.9 1008L1158.9 1010.6L1149 1013.5L1139.6 1017.5L1132.7 1021.5L1127 1025.6L1123.1 1029.4L1119.1 1034.8L1116.1 1041.3L1115.3 1045.3L1115.2 1049.3L1116.9 1057.2L1119.1 1061.7L1124.3 1069.1L1128.1 1073.1L1135 1078.6L1143 1083.7L1151 1087.6L1166.9 1093.3L1174.9 1095.1Z" fill="#ea6340" fill-rule="evenodd"/>
<path d="M1177.6 1092.9L1186.8 1094.2L1198.8 1094.8L1210.8 1094.1L1218.7 1093L1226.7 1091L1234.7 1088.2L1241.3 1085L1247.5 1081L1252.1 1077L1255.5 1073.1L1258.6 1068.1L1261 1061.2L1261.4 1057.2L1260.5 1049.3L1258.6 1044.3L1254.4 1037.4L1250.6 1033L1242.6 1026.4L1230.7 1019.5L1222.7 1016.3L1214.7 1013.8L1198.8 1010.9L1186.8 1010.2L1178.9 1010.4L1162.9 1012.7L1147.4 1017.5L1139.4 1021.5L1133.4 1025.5L1128.9 1029.4L1125.4 1033.4L1122.9 1037.4L1121.2 1041.3L1120.3 1045.3L1120.2 1049.3L1121.8 1057.2L1126.2 1065.1L1133.5 1073.1L1139 1077.4L1147 1082.3L1162.2 1088.9Z" fill="#e35139" fill-rule="evenodd"/>
<path d="M1172.9 1088.9L1182.9 1090.8L1190.8 1091.7L1202.8 1091.8L1210.8 1091.1L1218.7 1089.8L1226.7 1087.6L1233.7 1085L1241 1081L1246.3 1077L1250.2 1073.1L1254.6 1065.9L1256.2 1061.2L1256.7 1057.2L1255.8 1049.3L1252.2 1041.3L1245.7 1033.4L1241 1029.4L1234.7 1025.2L1227.5 1021.5L1218.7 1018.1L1202.8 1014.3L1186.8 1013L1170.9 1014.2L1157 1017.5L1147.1 1021.5L1143 1023.7L1135 1029.4L1131.2 1033.4L1128.5 1037.4L1126.6 1041.3L1125.6 1045.3L1125.4 1049.3L1127 1057.2L1131 1064.4L1134.9 1069.1L1144.6 1077L1151.4 1081L1158.9 1084.5Z" fill="#db4032" fill-rule="evenodd"/>
<path d="M1170.3 1085L1186.8 1088.2L1202.8 1088.7L1210.8 1087.9L1218.7 1086.4L1226.7 1083.9L1233.3 1081L1239.6 1077L1244.1 1073.1L1247.4 1069.1L1249.6 1065.1L1251 1061.2L1251.6 1057.2L1250.8 1049.3L1249.2 1045.3L1247 1041.3L1243.9 1037.4L1239.8 1033.4L1234.7 1029.4L1227.9 1025.5L1218.8 1021.5L1206.8 1018.2L1194.8 1016.5L1178.9 1016.5L1170.9 1017.5L1162.9 1019.4L1151 1023.9L1141.9 1029.4L1137.6 1033.4L1134.5 1037.4L1132.4 1041.3L1131.2 1045.3L1131 1050.6L1132.5 1057.2L1134.5 1061.2L1137.3 1065.1L1140.9 1069.1L1145.6 1073.1L1151.6 1077L1158.9 1080.8Z" fill="#d0352e" fill-rule="evenodd"/>
<path d="M1188.6 1085L1198.8 1085.4L1205.9 1085L1218.7 1082.5L1223.4 1081L1230.7 1077.6L1238.7 1071.6L1242.6 1066.7L1245.2 1061.2L1246 1057.2L1246 1053.2L1245.1 1049.3L1243.5 1045.3L1241 1041.3L1237.7 1037.4L1233.1 1033.4L1227.2 1029.4L1218.7 1025.4L1205.8 1021.5L1190.8 1019.7L1178.9 1020.1L1166.9 1022.2L1154.9 1026.6L1149.9 1029.4L1144.8 1033.4L1141.2 1037.4L1138.8 1041.3L1137.4 1045.3L1137 1049.3L1137.4 1053.2L1138.6 1057.2L1140.7 1061.2L1143.6 1065.1L1147.6 1069.1L1152.9 1073.1L1162.9 1078.4L1174.9 1082.5Z" fill="#c62a2b" fill-rule="evenodd"/>
<path d="M1188.4 1081L1202.8 1081.2L1214.7 1079.1L1221 1077L1226.7 1074.2L1233.4 1069.1L1236.6 1065.1L1238.6 1061.2L1239.5 1057.2L1239.5 1053.2L1238.7 1049.3L1236.9 1045.3L1234.2 1041.3L1230.3 1037.4L1226.7 1034.6L1217.5 1029.4L1206.8 1025.8L1194.8 1023.9L1182.9 1023.8L1170.9 1025.6L1160 1029.4L1153.4 1033.4L1151 1035.5L1146.1 1041.3L1144.5 1045.3L1143.8 1049.3L1144.2 1053.2L1145.5 1057.2L1147.7 1061.2L1151 1065.1L1154.9 1068.6L1162.9 1073.6L1174.9 1078.3Z" fill="#b22429" fill-rule="evenodd"/>
<path d="M1286.5 1208.1L1270.6 1210L1250.6 1210.7L1234.7 1210.1L1218.1 1208L1220 1204L1238.7 1202.1L1262.6 1201.6L1274.5 1202.3L1286.5 1203.6M931.7 1063.9L939.7 1064.7L947.6 1066.6L955.6 1069.7L959.6 1071.9L966.2 1077L969.6 1081L971.8 1085L972.7 1088.9L972.4 1092.9L970.9 1096.9L967.9 1100.8L963 1104.8L955.6 1108.8L947.6 1111.6L939.7 1113.3L931.7 1114.2M1286.5 964.1L1262.6 955.2L1238.7 948.8L1210.8 944.1L1186.8 942.3L1162.9 942.4L1139 944.3L1111.1 948.3L1071.2 956.1L1055.3 960.4L1039.3 966.7L1026.8 973.9L1015.4 983.3L1006.8 993.7L1000 1005.6L996.9 1013.5L994.9 1021.5L993.4 1033.4L994.3 1045.3L996.4 1053.2L1010.8 1085L1013.1 1092.9L1014 1100.8L1012.9 1112.7L1004.7 1140.5L1001.2 1156.4L999.9 1168.3L1001.2 1180.2L1003.5 1187.2L1005.8 1192.1L1011.4 1200L1015.4 1204.1L1020.3 1208L1027 1211.9L1031.4 1213.7L1035.3 1215L1043.3 1216.2L1051.3 1215.9L1059.3 1214.2L1067.2 1211.1L1075.2 1206.7L1095.5 1192.1L1104.1 1184.1L1106.7 1180.2L1107.7 1176.2L1106.8 1172.2L1099.8 1160.3L1099.8 1156.4L1103.6 1152.4L1111.1 1150L1123.1 1148.1L1143 1147.7L1214.7 1150.7L1242.6 1150.9L1262.6 1149.9L1286.5 1146.6M1286.5 984.3L1266.6 975L1246.6 968.2L1226.7 963.4L1206.8 960.4L1186.8 958.9L1166.9 959L1147 960.7L1123.1 964.6L1095.1 971.2L1075.2 977.2L1059.3 983.5L1047.3 990.2L1037.9 997.7L1034.1 1001.6L1028.2 1009.6L1026 1013.5L1022.8 1021.5L1020.8 1029.4L1020.1 1037.4L1021.2 1049.3L1024.9 1061.2L1032.6 1077L1044.4 1096.9L1051.3 1106.1L1059.3 1114L1067.2 1119.4L1079.2 1124.5L1099.1 1129.5L1131 1134.7L1162.9 1138.2L1194.8 1140L1222.7 1140.2L1246.6 1138.8L1266.6 1135.9L1278.5 1133L1286.5 1130.5M1286.5 999.4L1270.6 990.3L1254.6 983.3L1234.7 977.1L1218.7 973.6L1202.8 971.4L1182.9 970.2L1162.9 970.9L1143 973.3L1123.1 977.5L1099.1 984.5L1079.2 992.4L1071.2 996.4L1063.3 1001.3L1053.5 1009.6L1047.3 1017.5L1045.1 1021.5L1042.1 1029.4L1041.3 1033.4L1040.8 1041.3L1042.6 1053.2L1047.2 1065.1L1055.3 1078.2L1060.6 1085L1067.2 1091.9L1078.1 1100.8L1091.2 1108.7L1107.1 1115.9L1123.1 1121.4L1143 1126.4L1166.9 1130.3L1190.8 1132.2L1214.7 1132.4L1234.7 1131.1L1254.6 1127.8L1270.6 1123.2L1286.5 1116.1M1286.5 1013.8L1275.6 1005.6L1261.8 997.7L1246.6 991.1L1230.7 986.1L1214.7 982.6L1194.8 980.2L1174.9 979.9L1158.9 981.1L1139 984.5L1119.1 990L1099.3 997.7L1084.3 1005.6L1073.7 1013.5L1066.6 1021.5L1062.2 1029.4L1060.9 1033.4L1059.8 1041.3L1059.9 1045.3L1061.3 1053.2L1066.3 1065.1L1074.7 1077L1083.2 1085.7L1095.1 1095L1111.1 1104.2L1127 1111.1L1147 1117.5L1166.9 1121.8L1186.8 1124.1L1206.8 1124.7L1226.7 1123.4L1242.6 1120.7L1258.6 1116.2L1274.5 1109.2L1286.5 1101.7M1286.5 1030.8L1278.3 1021.5L1266.6 1012.1L1254.6 1005L1238.7 998.1L1222.7 993.4L1206.8 990.3L1190.8 988.9L1170.9 989.1L1151 991.7L1135 995.7L1118.5 1001.6L1102.9 1009.6L1092 1017.5L1084.6 1025.5L1080.2 1033.4L1079 1037.4L1078.1 1045.3L1079.3 1053.2L1080.6 1057.2L1084.5 1065.1L1090.2 1073.1L1093.7 1077L1103.1 1085.5L1115.1 1093.7L1131 1101.8L1147 1107.8L1166.9 1112.9L1186.8 1115.7L1202.8 1116.3L1222.7 1115L1238.7 1112L1254.6 1106.9L1266.6 1101.2L1278.5 1092.9L1286.5 1084.7M1172.2 1104.8L1182.9 1106.4L1194.8 1107.4L1206.8 1107.3L1218.7 1106.3L1230.7 1104.1L1242 1100.8L1250.6 1097.3L1258.8 1092.9L1266.6 1087.2L1272.8 1081L1275.8 1077L1279.8 1069.1L1281.7 1061.2L1281.7 1053.2L1279.7 1045.3L1275.9 1037.4L1269.9 1029.4L1262.6 1022.4L1256.1 1017.5L1246.6 1011.9L1238.7 1008.2L1226.7 1003.8L1214.7 1000.7L1202.8 998.7L1190.8 997.7L1178.9 997.6L1166.9 998.6L1154.9 1000.6L1143 1003.7L1135 1006.5L1123.1 1012L1115.1 1016.8L1109 1021.5L1105 1025.5L1101.8 1029.4L1097.6 1037.4L1096.6 1041.3L1096.3 1049.3L1098.2 1057.2L1102.2 1065.1L1107.1 1071.6L1112.3 1077L1119.1 1082.6L1128.5 1088.9L1135.9 1092.9L1147 1097.7L1158.9 1101.7L1172.2 1104.8M1183.5 1096.9L1194.8 1097.8L1202.8 1097.8L1214.3 1096.9L1222.7 1095.4L1231.9 1092.9L1241.7 1088.9L1248.6 1085L1253.9 1081L1258.6 1076.3L1263.4 1069.1L1265 1065.1L1266.3 1057.2L1266.1 1053.2L1264 1045.3L1259.6 1037.4L1256.4 1033.4L1252.4 1029.4L1246.6 1024.8L1238.7 1019.8L1230.7 1016L1222.7 1013L1210.8 1009.7L1194.8 1007.5L1182.9 1007.2L1174.9 1007.7L1158.9 1010.3L1147.9 1013.5L1139 1017.4L1131.9 1021.5L1126.5 1025.5L1122.4 1029.4L1119.1 1033.7L1115.5 1041.3L1114.7 1045.3L1115.1 1052.7L1116.3 1057.2L1118.1 1061.2L1123.1 1068.3L1132.1 1077L1139 1081.8L1147 1086.2L1154.9 1089.7L1164.4 1092.9L1174.9 1095.4L1183.5 1096.9M1176.9 1085L1186.8 1086.6L1194.8 1087.1L1202.8 1087L1210.8 1086.2L1222.7 1083.4L1228.9 1081L1236 1077L1240.9 1073.1L1244.4 1069.1L1246.9 1065.1L1248.3 1061.2L1249 1057.2L1248.9 1053.2L1248.1 1049.3L1246.6 1045.3L1244.2 1041.3L1241 1037.4L1236.8 1033.4L1231.3 1029.4L1223.9 1025.5L1213.4 1021.5L1198.8 1018.5L1190.8 1017.8L1182.9 1017.9L1170.9 1019.3L1158.9 1022.5L1152.1 1025.5L1147 1028.5L1140.9 1033.4L1137.6 1037.4L1135.4 1041.3L1134.1 1045.3L1133.7 1049.3L1134.1 1053.2L1135.3 1057.2L1137.4 1061.2L1140.2 1065.1L1144 1069.1L1149 1073.1L1154.9 1076.8L1163.9 1081L1176.9 1085" fill="none" stroke="#1a1a1a" stroke-width="0.55" stroke-opacity="0.85"/>
</g>
<rect x="931.7" y="934.2" width="354.8" height="353.1" fill="none" stroke="#000" stroke-width="2.7"/>
<path d="M931.7 1199h6M931.7 1110.8h12M931.7 1022.5h6M982.4 1287.3v-6M1033.1 1287.3v-12M1083.8 1287.3v-6M1134.4 1287.3v-12M1185.1 1287.3v-6M1235.8 1287.3v-12" stroke="#000" stroke-width="2.7" fill="none"/>
<text x="931.7" y="1324.8" font-size="38" text-anchor="middle" fill="#000" ><tspan>0</tspan></text>
<text x="1033.1" y="1324.8" font-size="38" text-anchor="middle" fill="#000" ><tspan>4</tspan></text>
<text x="1134.4" y="1324.8" font-size="38" text-anchor="middle" fill="#000" ><tspan>8</tspan></text>
<text x="1235.8" y="1324.8" font-size="38" text-anchor="middle" fill="#000" ><tspan>12</tspan></text>
<text x="917.5" y="1296.8" font-size="38.5" text-anchor="end" fill="#000" ><tspan>1</tspan></text>
<text x="917.5" y="1120.2" font-size="38.5" text-anchor="end" fill="#000" ><tspan>2</tspan></text>
<text x="917.5" y="943.7" font-size="38.5" text-anchor="end" fill="#000" ><tspan>3</tspan></text>
<text x="1091.5" y="1363.9" font-size="39.5" text-anchor="middle" fill="#000" ><tspan font-style="italic">K</tspan><tspan> (Å</tspan><tspan dy="-15" font-size="26.9">-1</tspan><tspan dy="15">)</tspan></text>
<text x="892.2" y="1109.2" font-size="38.5" text-anchor="middle" fill="#000" transform="rotate(-90 892.2 1109.2)" ><tspan font-style="italic">R</tspan><tspan> + </tspan><tspan font-style="italic">α</tspan><tspan> (Å)</tspan></text>
<text x="843" y="970.5" font-size="64" text-anchor="start" fill="#000" font-weight="bold" ><tspan>g</tspan></text>
<text x="935.9" y="974.5" font-size="38.2" text-anchor="start" fill="#fff" ><tspan>Rh</tspan><tspan dy="9.6" font-size="26">NP</tspan><tspan dy="-9.6">/CeO</tspan><tspan dy="9.6" font-size="26">2</tspan></text>
<text x="1192.8" y="1065" font-size="38.2" text-anchor="middle" fill="#000" ><tspan>Rh-Rh</tspan></text>
<g clip-path="url(#cd)" fill="none" stroke-width="7.6" stroke-linejoin="round" stroke-linecap="butt">
<path d="M99.1 1861.4C112.1 1861.4 125 1862 138 1861.4C147.7 1861 157.8 1861.7 167 1858.6C173.8 1856.2 179.2 1850.6 184.3 1845.5C189 1840.9 191.5 1834.4 195.9 1829.6C198.3 1827 201.2 1824.1 204.6 1823.8C207.9 1823.5 210.6 1826.3 213.3 1828.1C216.5 1830.2 218.4 1834.3 222 1835.4C224.1 1836 226.9 1834.4 227.8 1832.5C231.9 1824.3 233.7 1815.1 236.5 1806.4C240.5 1793.9 242.8 1780.7 248.1 1768.7C250.7 1762.9 253.4 1753.6 259.7 1753.6C266 1753.6 268.8 1762.9 271.3 1768.7C276.6 1780.7 279.1 1793.8 282.9 1806.4C285.8 1816 287.7 1826 291.6 1835.4C293.6 1840.2 296 1845.4 300.3 1848.4C303.5 1850.7 308 1849.5 311.9 1849.9C316.7 1850.3 321.6 1849.9 326.4 1850.7C331.3 1851.6 335.8 1855.2 340.9 1855.1C346.9 1854.9 352.4 1851.5 358.3 1849.9C364 1848.3 369.7 1845.8 375.7 1845.5C381.5 1845.3 387.3 1847.2 393 1848.4C398.9 1849.6 404.6 1851.6 410.4 1852.8C416.2 1853.9 422.1 1854 427.8 1855.1C432.7 1856 437.4 1858.7 442.3 1858.6C447.4 1858.4 451.8 1854.8 456.8 1854.2C460.7 1853.8 464.6 1854.9 468.4 1855.7C474.3 1856.8 479.8 1859.6 485.8 1860C495.5 1860.6 505.1 1858.8 514.8 1858.6C524.4 1858.3 534.1 1858.3 543.8 1858.6C553.4 1858.8 563.1 1859.5 572.8 1860C582.4 1860.5 592.1 1861.4 601.7 1861.4C607.7 1861.4 613.7 1860.5 619.7 1860" stroke="#e0534e"/>
<path d="M99.1 1860C107.2 1860.3 115.4 1860.9 123.5 1860.9C133.1 1860.9 142.9 1861.3 152.5 1860C162.3 1858.6 172 1855.9 181.4 1852.8C189.5 1850.1 196.7 1845.6 204.6 1842.6C208.4 1841.2 212.2 1839.7 216.2 1839.7C219.3 1839.7 221.9 1842.9 224.9 1842.6C227.3 1842.4 229.7 1840.4 230.7 1838.3C234.7 1830 236.5 1820.9 239.4 1812.2C242.3 1803.5 243.9 1794.2 248.1 1786.1C250.3 1781.8 253.5 1775.3 258.3 1775.9C263.7 1776.7 266 1784 268.4 1789C273.3 1799.2 275.7 1810.4 280 1820.9C282.5 1826.9 284.5 1833.3 288.7 1838.3C290.3 1840.1 294.4 1841.6 295.9 1839.7C299.4 1835.4 297.7 1828.6 300.3 1823.8C302.2 1820.1 305.6 1817.3 309 1815.1C311.5 1813.4 315.5 1814.3 317.7 1812.2C322.6 1807.2 325.3 1800.5 329.3 1794.8C332 1790.8 334.4 1786.5 338 1783.2C340.4 1781 343.7 1777.6 346.7 1778.8C352 1781.1 355.1 1787 358.3 1791.9C362.9 1799.2 365.8 1807.4 369.9 1815.1C373.5 1821.9 377 1829 381.4 1835.4C384.8 1840.1 388.5 1844.7 393 1848.4C396.4 1851.1 400.6 1852.6 404.6 1854.2C409.3 1856 414.1 1858.7 419.1 1858.6C425.2 1858.4 430.5 1853.8 436.5 1853.3C442.3 1852.8 448.2 1854.6 453.9 1855.7C459.8 1856.8 465.4 1859 471.3 1860C476.1 1860.8 481 1861.1 485.8 1860.9C490.7 1860.6 495.6 1860 500.3 1858.6C507.3 1856.3 513.7 1852.5 520.6 1849.9C526.3 1847.7 532 1845.5 538 1844.1C543.7 1842.6 549.5 1841.4 555.4 1841.2C561.2 1840.9 566.9 1842.5 572.8 1842.6C578.6 1842.7 584.4 1841.3 590.1 1841.7C596.1 1842.2 601.9 1843.7 607.5 1845.5C611.8 1846.9 615.7 1849.4 619.7 1851.3" stroke="#2a94b0"/>
<path d="M99.1 1858.6C112.1 1858.1 125 1857.7 138 1857.1C147.6 1856.7 157.3 1856.5 167 1855.7C174.7 1855 182.5 1854.2 190.1 1852.8C195.1 1851.8 199.9 1850 204.6 1848.4C208.6 1847.1 212.1 1843.8 216.2 1844.1C219.7 1844.3 222.3 1847.6 224.9 1849.9C228.1 1852.5 230.2 1860.8 233.6 1858.6C239.7 1854.5 239.7 1845.2 242.3 1838.3C245.5 1829.7 247.3 1820.6 251 1812.2C252.7 1808.4 254.4 1803.6 258.3 1802C260.9 1801 264.3 1803.8 265.5 1806.4C269.4 1814.5 270 1823.9 272.8 1832.5C274.8 1838.9 273.9 1848.6 280 1851.3C284.3 1853.2 284.7 1842.9 285.8 1838.3C289.6 1822 291.4 1805.4 294.5 1789C297.2 1774.5 299.1 1759.7 303.2 1745.5C305 1739.3 308.8 1733.8 311.9 1728.1C314.6 1723.2 318.5 1718.9 320.6 1713.6C324.3 1704.3 326.2 1694.3 329.3 1684.6C332 1675.9 334.2 1666.9 338 1658.6C339.5 1655.1 341.4 1649.9 345.2 1649.9C349 1649.9 351.1 1655 352.5 1658.6C356.5 1668.8 358.7 1679.7 361.2 1690.4C364.5 1704.8 367 1719.4 369.9 1733.9C372.8 1749.4 375.3 1764.9 378.6 1780.3C381.1 1792 383 1803.9 387.2 1815.1C389.9 1822 393.8 1828.6 398.8 1833.9C402.7 1838 408.1 1840.5 413.3 1842.6C417.9 1844.4 423 1846.7 427.8 1845.5C433.5 1844.1 437.3 1838.4 442.3 1835.4C446 1833.1 449.6 1829.6 453.9 1829.6C458.2 1829.6 462.3 1832.5 465.5 1835.4C471.1 1840.4 474.8 1847.3 480 1852.8C483.5 1856.5 486.5 1862.3 491.6 1862.9C496.1 1863.5 499.4 1858.1 503.2 1855.7C509 1851.9 515.4 1848.8 520.6 1844.1C527.1 1838 531.4 1829.8 538 1823.8C543.1 1819.1 548.6 1813.7 555.4 1812.2C560.3 1811.1 565.1 1814.9 569.9 1816.5C574.8 1818.2 579.1 1822.3 584.3 1822.3C589.6 1822.3 593.7 1817.1 598.8 1816.5C602.8 1816.1 606.9 1817.7 610.4 1819.4C614 1821.1 616.6 1824.3 619.7 1826.7" stroke="#fdb813"/>
<path d="M99.1 1848.4C107.2 1847.9 115.4 1847.5 123.5 1847C130.2 1846.5 137 1846.1 143.8 1845.5C150.5 1844.9 157.3 1842.6 164.1 1843.5C168.4 1844.1 171.8 1847.7 175.7 1849.9C179.1 1851.8 181.9 1856.2 185.8 1855.7C190.2 1855 192.3 1849.5 195.9 1847C200.5 1843.7 205.7 1841.4 210.4 1838.3C214.5 1835.6 218 1832.2 222 1829.6C225.3 1827.4 228.3 1824 232.2 1823.8C235.8 1823.5 238.7 1827.6 242.3 1828.1C245.2 1828.6 249.2 1829 251 1826.7C255.6 1820.9 255.8 1812.6 259.7 1806.4C261.7 1803.2 265 1797.4 268.4 1799.1C273.8 1801.8 275 1809.4 277.1 1815.1C279.9 1822.5 280.6 1830.6 282.9 1838.3C283.7 1840.8 285.4 1848 286.4 1845.5C290 1835.9 290.3 1825.3 291.6 1815.1C295 1788.1 297.3 1761 300.3 1733.9C304 1700.1 307.2 1666.2 311.9 1632.5C314.1 1616.5 317.8 1600.8 320.9 1584.9C323.7 1570.6 327.1 1556.4 329.6 1542C331.8 1529.1 333.2 1515.9 335.1 1502.9C336.9 1489.8 338.5 1476.6 340.6 1463.5C342.2 1452.9 343.9 1442.3 346.1 1431.9C347.2 1426.7 348.5 1421.5 350.4 1416.5C351.1 1414.7 352 1411.9 353.9 1411.9C355.8 1411.9 356.7 1414.7 357.4 1416.5C359.3 1421.5 360.5 1426.7 361.4 1431.9C363.5 1442.4 365.1 1452.9 366.4 1463.5C367.9 1476.6 368.7 1489.8 369.9 1502.9C371 1515.9 372 1529 373 1542C374.3 1558.1 375.2 1574.1 376.5 1590.1C378 1609.1 379.8 1628 381.4 1647C383.9 1675.9 385.7 1705 388.7 1733.9C390.1 1747.5 392 1761.1 394.5 1774.5C395.4 1779.5 395.6 1785.1 398.8 1789C400.7 1791.3 404.9 1789.1 407.5 1790.4C412.8 1793.1 416.8 1797.9 422 1800.6C427.5 1803.3 433.7 1808.5 439.4 1806.4C446.5 1803.8 449 1794.7 453.9 1789C457.7 1784.6 459.7 1775.3 465.5 1775.9C472.6 1776.7 476.4 1785.7 480 1791.9C485.2 1800.9 487.4 1811.3 491.6 1820.9C494.2 1826.8 493.8 1838.3 500.3 1838.3C506.8 1838.3 505.9 1826.6 509 1820.9C512.7 1814 515.8 1806.8 520.6 1800.6C525.6 1794.1 533.2 1789.9 538 1783.2C545 1773.3 548 1760.9 555.4 1751.3C558.5 1747.2 563.7 1741.1 568.4 1743.2C575.6 1746.4 576.9 1756.4 581.4 1762.9C586.6 1770.3 588.4 1783.7 597.4 1784.6C605 1785.4 605.3 1771.5 610.4 1765.8C612.9 1763.1 616.6 1761.9 619.7 1760" stroke="#adadad"/>
<path d="M99.1 1857.1C106.3 1856.4 113.4 1854.9 120.6 1855.1C126.5 1855.2 132.1 1858.6 138 1858C144.1 1857.3 149.4 1853 155.4 1851.3C162 1849.4 169 1849 175.7 1847C182.6 1844.8 190.1 1843.1 195.9 1838.8C201.1 1835.1 203.5 1828.7 207.5 1823.8C211.2 1819.3 214.2 1813.8 219.1 1810.7C222.4 1808.7 227.4 1811.4 230.7 1809.3C234.8 1806.7 237.8 1802.2 239.4 1797.7C243.7 1785.5 245.6 1772.6 248.1 1760C251.4 1743.6 252.7 1726.9 256.8 1710.7C258.5 1704 258.7 1693.1 265.5 1691.9C271.4 1690.9 272.2 1702 273.6 1707.8C278.1 1725.9 279.7 1744.6 282.9 1762.9C285.6 1778.4 287.7 1794 291.6 1809.3C293 1814.9 293.5 1823 298.8 1825.2C303 1826.9 305.2 1818.9 309 1816.5C312.1 1814.5 316.6 1814.9 319.1 1812.2C322.8 1808.2 324.7 1802.8 326.4 1797.7C330.1 1786.3 331.6 1774.3 335.1 1762.9C337.4 1755.4 339.1 1747.4 343.8 1741.2C346.3 1737.7 351.2 1736.6 355.4 1735.4C360 1734 365 1732.9 369.9 1733.3C373 1733.6 376.7 1734.8 378.6 1737.4C382.8 1743.2 385.1 1750.3 387.2 1757.1C390.9 1768.5 393.3 1780.2 395.9 1791.9C399.1 1805.4 401.1 1819.1 404.6 1832.5C406 1837.5 405.2 1847 410.4 1847C415.6 1847 414.8 1837.5 416.2 1832.5C420.6 1817.1 423.1 1801.3 427.8 1786.1C430.9 1776.1 434 1766 439.4 1757.1C442 1752.9 446.1 1747.8 451 1747.8C455.3 1747.8 457.4 1753.6 459.7 1757.1C465.2 1765.4 469 1774.7 474.2 1783.2C479.7 1792.1 485 1801.2 491.6 1809.3C495.7 1814.3 500.4 1819.2 506.1 1822.3C510.4 1824.7 515.7 1824.9 520.6 1825.2C526.4 1825.6 532.2 1823.5 538 1824.3C542.2 1825 545.6 1827.9 549.6 1829.6C553.4 1831.1 557.1 1834.7 561.2 1833.9C565.9 1833 568.6 1827.7 572.8 1825.2C576.9 1822.8 581 1819.2 585.8 1819.4C590.8 1819.7 594.7 1823.9 598.8 1826.7C606.1 1831.6 612.8 1837.3 619.7 1842.6" stroke="#000"/>
</g>
<path d="M262.6 1658.6V1849.9M345.2 1615.1V1806.4" stroke="#000" stroke-width="2.9" stroke-dasharray="10 6" fill="none"/>
<rect x="99" y="1387.5" width="520.5" height="481" fill="none" stroke="#000" stroke-width="2.7"/>
<path d="M99 1862.9h13M99 1726.7h7M99 1590.5h13M99 1454.3h7M99 1868.5v-13M203.1 1868.5v-7M307.2 1868.5v-13M411.3 1868.5v-7M515.4 1868.5v-13M619.5 1868.5v-7" stroke="#000" stroke-width="2.7" fill="none"/>
<text x="89.5" y="1872.5" font-size="37" text-anchor="end" fill="#000" ><tspan>0</tspan></text>
<text x="89.5" y="1603" font-size="37" text-anchor="end" fill="#000" ><tspan>20</tspan></text>
<text x="99" y="1906" font-size="37.5" text-anchor="middle" fill="#000" ><tspan>0</tspan></text>
<text x="307.2" y="1906" font-size="37.5" text-anchor="middle" fill="#000" ><tspan>2</tspan></text>
<text x="515.4" y="1906" font-size="37.5" text-anchor="middle" fill="#000" ><tspan>4</tspan></text>
<text x="358.5" y="1937.5" font-size="38.1" text-anchor="middle" fill="#000" ><tspan>Radial distance (Å)</tspan></text>
<text x="32.5" y="1630" font-size="37.6" text-anchor="middle" fill="#000" transform="rotate(-90 32.5 1630)" ><tspan>|</tspan><tspan font-style="italic">χ</tspan><tspan>(</tspan><tspan font-style="italic">R</tspan><tspan>)| (Å</tspan><tspan dy="-14.3" font-size="25.6">-4</tspan><tspan dy="14.3">)</tspan></text>
<path d="M405 1410.3H468" stroke="#e0534e" stroke-width="8.2" stroke-linecap="round"/>
<text x="478" y="1419.8" font-size="28.2" text-anchor="start" fill="#000" ><tspan>Rh</tspan><tspan dy="7" font-size="19.2">1</tspan><tspan dy="-7">-CeO</tspan><tspan dy="7" font-size="19.2">2</tspan></text>
<path d="M405 1451.3H468" stroke="#2a94b0" stroke-width="8.2" stroke-linecap="round"/>
<text x="478" y="1460.8" font-size="28.2" text-anchor="start" fill="#000" ><tspan>Rh</tspan><tspan dy="7" font-size="19.2">NC</tspan><tspan dy="-7">/CeO</tspan><tspan dy="7" font-size="19.2">2</tspan></text>
<path d="M405 1492.3H468" stroke="#fdb813" stroke-width="8.2" stroke-linecap="round"/>
<text x="478" y="1501.8" font-size="28.2" text-anchor="start" fill="#000" ><tspan>Rh</tspan><tspan dy="7" font-size="19.2">NP</tspan><tspan dy="-7">/CeO</tspan><tspan dy="7" font-size="19.2">2</tspan></text>
<path d="M405 1534H468" stroke="#adadad" stroke-width="8.2" stroke-linecap="round"/>
<text x="478" y="1543.5" font-size="28.2" text-anchor="start" fill="#000" ><tspan>Rh foil</tspan></text>
<path d="M405 1568.5H468" stroke="#000" stroke-width="8.2" stroke-linecap="round"/>
<text x="478" y="1578" font-size="28.2" text-anchor="start" fill="#000" ><tspan>Rh</tspan><tspan dy="7" font-size="19.2">2</tspan><tspan dy="-7">O</tspan><tspan dy="7" font-size="19.2">3</tspan></text>
<text x="211" y="1605" font-size="33" text-anchor="start" fill="#000" ><tspan>Rh-O</tspan></text>
<text x="204" y="1642.6" font-size="33" text-anchor="start" fill="#000" ><tspan>1.50 Å</tspan></text>
<text x="301.7" y="1571.6" font-size="33" text-anchor="start" fill="#000" ><tspan>Rh-Rh</tspan></text>
<text x="301.7" y="1610.7" font-size="33" text-anchor="start" fill="#000" ><tspan>2.41 Å</tspan></text>
<text x="21.5" y="1438.7" font-size="64" text-anchor="start" fill="#000" font-weight="bold" ><tspan>d</tspan></text>
<g clip-path="url(#ch)" fill="none" stroke-width="6.6" stroke-linejoin="round">
<path d="M751.3 1535.3C787.2 1535.3 823 1536.6 858.9 1535.3C861.9 1535.2 864.4 1532.8 866.9 1531.1C869.7 1529.2 872.8 1527.4 874.9 1524.7C878 1520.6 880.7 1516.1 882.3 1511.2C885.6 1500.8 886.4 1489.7 889.3 1479.1C890.9 1473.6 890 1463.1 895.8 1463.1C901.5 1463.1 900.6 1473.6 902.2 1479.1C905.2 1489.7 906.3 1500.7 909.6 1511.2C911.5 1517.4 913.9 1523.5 917.6 1528.9C919.2 1531.2 921.9 1532.7 924.6 1533.4C928.8 1534.4 933.2 1533.9 937.5 1533.7C942.9 1533.4 948.2 1532.1 953.5 1532.1C960 1532.1 966.4 1533.3 972.8 1533.7C982.4 1534.2 992 1534.9 1001.7 1534.6C1010.3 1534.4 1018.8 1532.9 1027.3 1532.1C1035.9 1531.2 1044.5 1530.8 1053 1529.5C1061.7 1528.1 1070.1 1525.9 1078.7 1524C1085.1 1522.7 1091.5 1521 1097.9 1519.9C1103.3 1518.9 1108.6 1517.7 1114 1517.6C1119.4 1517.5 1124.7 1518.5 1130 1519.2C1138.6 1520.4 1147.1 1522.1 1155.7 1523.4C1166.4 1525 1177.1 1526.9 1187.8 1527.9C1201.7 1529.2 1215.6 1530 1229.5 1530.5C1248.2 1531.1 1267 1531.1 1285.7 1531.4" stroke="#eba80a"/>
<path d="M751.3 1708.4C779.1 1708.4 806.9 1709.6 834.7 1708.4C838.5 1708.2 843.1 1707.5 845.4 1704.4C849.7 1698.4 851.2 1690.7 852.8 1683.4C855.5 1671.2 856.3 1658.7 858.2 1646.4C859.2 1639.4 860 1632.3 861.6 1625.4C862.2 1622.8 861.9 1617.9 864.6 1617.9C867.3 1617.9 867 1622.8 867.6 1625.4C869.1 1632.3 869.7 1639.4 871 1646.4C873 1657.1 874.5 1667.9 877.4 1678.4C878.3 1681.5 879 1687.5 882.2 1686.9C886.2 1686.2 886.7 1680.1 888.1 1676.4C890.1 1671.2 890.6 1665.6 892.4 1660.4C893.1 1658.3 893.3 1654.4 895.6 1654.4C897.9 1654.4 898.1 1658.2 898.8 1660.4C900.3 1665 900.8 1669.8 902 1674.4C904 1682.4 905.1 1690.8 908.4 1698.4C909.9 1701.7 912.7 1704.7 915.9 1706.4C919.4 1708.2 923.7 1708.4 927.7 1708.4C930.2 1708.4 932.7 1707.4 935.1 1706.4C938.8 1704.9 941.8 1701.1 945.8 1700.9C949.7 1700.7 952.9 1704.1 956.5 1705.4C960 1706.6 963.5 1708.2 967.2 1708.4C984.3 1709.2 1001.4 1708.6 1018.5 1708.4C1036.3 1708.2 1054.1 1707.9 1071.9 1707.4C1086.9 1706.9 1101.9 1705.4 1116.8 1705.4C1132.2 1705.4 1147.5 1706.9 1162.8 1707.4C1178.8 1707.9 1194.8 1708.3 1210.9 1708.4C1235.8 1708.6 1260.8 1708.4 1285.7 1708.4" stroke="#2a94b0"/>
<path d="M751.3 1849.2C773.8 1849.2 796.3 1849.6 818.7 1849.2C821.4 1849.2 824.5 1849.4 826.8 1848C830.1 1845.8 833.5 1842.8 834.8 1839C838.4 1828.7 839.1 1817.6 841.2 1806.9C842.9 1798.3 843.8 1789.6 846 1781.2C846.7 1778.8 847.4 1774.3 849.9 1774.8C852.8 1775.4 853.3 1779.9 854 1782.8C856.3 1791.8 856.9 1801.1 858.9 1810.1C860.1 1816.1 861.4 1822.1 863.7 1827.7C864.7 1830.2 866.3 1832.6 868.5 1834.2C871.8 1836.5 875.8 1837.7 879.7 1839C883.9 1840.3 888.2 1841.2 892.6 1841.9C896.8 1842.5 901.2 1843.5 905.4 1842.8C908.9 1842.2 912.2 1840.2 915 1838C918.1 1835.6 919.9 1831.7 923 1829.3C925.6 1827.4 928.5 1824.9 931.7 1825.2C934.8 1825.5 937 1828.6 939.1 1830.9C942.2 1834.4 943.8 1839 947.1 1842.2C949.8 1844.8 953.2 1846.7 956.7 1848C959.8 1849.1 963.1 1849.2 966.4 1849.2C1072.8 1849.7 1179.2 1849.2 1285.7 1849.2" stroke="#e0534e"/>
<path d="M1054.6 1699.4C1062.6 1698 1070.7 1697 1078.7 1695.2C1086.3 1693.5 1093.6 1690.8 1101.2 1689.1C1107.5 1687.7 1113.9 1686.1 1120.4 1685.9C1126.9 1685.7 1133.3 1687 1139.7 1688.1C1148.3 1689.6 1156.7 1692.1 1165.3 1693.6C1174.9 1695.2 1184.5 1696.6 1194.2 1697.4C1202.4 1698.2 1210.7 1698.1 1218.9 1698.4" stroke="#2a94b0" stroke-width="4.5" stroke-linecap="round"/>
<path d="M1054.6 1699.4C1062.6 1698 1070.7 1697 1078.7 1695.2C1086.3 1693.5 1093.6 1690.8 1101.2 1689.1C1107.5 1687.7 1113.9 1686.1 1120.4 1685.9C1126.9 1685.7 1133.3 1687 1139.7 1688.1C1148.3 1689.6 1156.7 1692.1 1165.3 1693.6C1174.9 1695.2 1184.5 1696.6 1194.2 1697.4C1202.4 1698.2 1210.7 1698.1 1218.9 1698.4" stroke="#1e7a3a" stroke-width="1.6" stroke-dasharray="1.5 1.5"/>
</g>
<rect x="751.3" y="1387.3" width="534.4" height="481.2" fill="none" stroke="#000" stroke-width="2.7"/>
<path d="M858.2 1868.5v-7.5M965.1 1868.5v-13.5M1071.9 1868.5v-7.5M1178.8 1868.5v-13.5" stroke="#000" stroke-width="2.7" fill="none"/>
<text x="751.3" y="1905.7" font-size="37" text-anchor="middle" fill="#000" ><tspan>2200</tspan></text>
<text x="965.1" y="1905.7" font-size="37" text-anchor="middle" fill="#000" ><tspan>2000</tspan></text>
<text x="1178.8" y="1905.7" font-size="37" text-anchor="middle" fill="#000" ><tspan>1800</tspan></text>
<text x="838" y="1938.5" font-size="39.5" text-anchor="start" fill="#000" ><tspan>Wavenumber (cm</tspan><tspan dy="-15" font-size="26.9">-1</tspan><tspan dy="15">)</tspan></text>
<text x="722" y="1644" font-size="42" text-anchor="middle" fill="#000" transform="rotate(-90 722 1644)" ><tspan>Intensity (a.u.)</tspan></text>
<text x="679" y="1442.3" font-size="64" text-anchor="start" fill="#000" font-weight="bold" ><tspan>h</tspan></text>
<text x="849" y="1423" font-size="26.8" text-anchor="start" fill="#eba80a" ><tspan>Rh</tspan><tspan dy="-10.2" font-size="18.2">0</tspan><tspan dy="10.2">-CO</tspan></text>
<text x="864" y="1455.7" font-size="26.8" text-anchor="start" fill="#eba80a" ><tspan>2063</tspan></text>
<text x="1114.3" y="1420.7" font-size="33" text-anchor="start" fill="#eba80a" ><tspan>Rh</tspan><tspan dy="8.2" font-size="22.4">NP</tspan><tspan dy="-8.2">/CeO</tspan><tspan dy="8.2" font-size="22.4">2</tspan></text>
<text x="1065.5" y="1457.3" font-size="26.8" text-anchor="start" fill="#eba80a" ><tspan>Rh</tspan><tspan dy="-10.2" font-size="18.2">0</tspan></text>
<text x="1133" y="1457.3" font-size="26.8" text-anchor="start" fill="#eba80a" ><tspan>Rh</tspan><tspan dy="-10.2" font-size="18.2">0</tspan></text>
<text x="1097.5" y="1485.5" font-size="26.8" text-anchor="start" fill="#eba80a" ><tspan>CO</tspan></text>
<text x="1088.5" y="1510.2" font-size="26.8" text-anchor="start" fill="#eba80a" ><tspan>1858</tspan></text>
<path d="M1096.3 1458.3L1109.2 1466.8M1131.6 1466.8L1142.9 1458.3" stroke="#eba80a" stroke-width="2.2"/>
<text x="814.3" y="1581.8" font-size="26.8" text-anchor="start" fill="#2a94b0" ><tspan>Rh</tspan><tspan dy="-10.2" font-size="18.2" font-style="italic">δ+</tspan><tspan dy="10.2">-CO</tspan></text>
<text x="831" y="1610" font-size="26.8" text-anchor="start" fill="#2a94b0" ><tspan>2094</tspan></text>
<text x="876.5" y="1643.7" font-size="26.8" text-anchor="start" fill="#2a94b0" ><tspan>2064</tspan></text>
<text x="920.3" y="1690.7" font-size="26.8" text-anchor="start" fill="#2a94b0" ><tspan>2017</tspan></text>
<text x="1115.3" y="1575.4" font-size="33" text-anchor="start" fill="#2a94b0" ><tspan>Rh</tspan><tspan dy="8.2" font-size="22.4">NC</tspan><tspan dy="-8.2">/CeO</tspan><tspan dy="8.2" font-size="22.4">2</tspan></text>
<text x="1071" y="1619.7" font-size="26.8" text-anchor="start" fill="#2a94b0" ><tspan>Rh</tspan><tspan dy="-10.2" font-size="18.2">0</tspan></text>
<text x="1148" y="1618" font-size="26.8" text-anchor="start" fill="#2a94b0" ><tspan>Rh</tspan><tspan dy="-10.2" font-size="18.2">0</tspan></text>
<text x="1103.2" y="1646" font-size="26.8" text-anchor="start" fill="#2a94b0" ><tspan>CO</tspan></text>
<text x="1088.5" y="1675.7" font-size="26.8" text-anchor="start" fill="#2a94b0" ><tspan>1858</tspan></text>
<path d="M1095.4 1618.7L1106.9 1627.7M1138 1627.7L1149.3 1618.7" stroke="#2a94b0" stroke-width="2.2"/>
<text x="1226" y="1697.8" font-size="26.8" text-anchor="start" fill="#2a94b0" ><tspan>×5</tspan></text>
<text x="769.7" y="1737.9" font-size="26.8" text-anchor="start" fill="#e0534e" ><tspan>Rh</tspan><tspan dy="-10.2" font-size="18.2">3+</tspan><tspan dy="10.2">-CO</tspan></text>
<text x="819" y="1764.5" font-size="26.8" text-anchor="start" fill="#e0534e" ><tspan>2110</tspan></text>
<text x="900.2" y="1811.7" font-size="26.8" text-anchor="start" fill="#e0534e" ><tspan>2030</tspan></text>
<text x="1128" y="1759.4" font-size="33" text-anchor="start" fill="#e0534e" ><tspan>Rh</tspan><tspan dy="8.2" font-size="22.4">1</tspan><tspan dy="-8.2">-CeO</tspan><tspan dy="8.2" font-size="22.4">2</tspan></text>
<path d="M1456.7 834.8C1471.2 829.8 1485.7 825.1 1500.1 819.8C1514.7 814.4 1530.1 810.7 1543.5 802.8C1559.4 793.5 1572.8 780.4 1586.9 768.6C1601.7 756.2 1615.1 742 1630.3 730.2C1644.1 719.4 1658.7 709.9 1673.7 700.9C1687.7 692.5 1702.5 685.4 1717.1 678.1C1731.4 670.8 1746.7 665.3 1760.5 657C1775.8 647.9 1788.9 635.6 1803.9 626C1817.9 617 1832.8 609.5 1847.3 601.3" fill="none" stroke="#e1534f" stroke-width="5" stroke-linecap="round" stroke-linejoin="round"/>
<g fill="#e1534f"><circle cx="1456.7" cy="834.8" r="10.2"/><circle cx="1500.1" cy="819.8" r="10.2"/><circle cx="1543.5" cy="802.8" r="10.2"/><circle cx="1586.9" cy="768.6" r="10.2"/><circle cx="1630.3" cy="730.2" r="10.2"/><circle cx="1673.7" cy="700.9" r="10.2"/><circle cx="1717.1" cy="678.1" r="10.2"/><circle cx="1760.5" cy="657" r="10.2"/><circle cx="1803.9" cy="626" r="10.2"/><circle cx="1847.3" cy="601.3" r="10.2"/></g>
<path d="M1456.7 821.6C1471.2 815.2 1488.7 813.3 1500.1 802.4C1518.7 784.6 1528.8 759.6 1543.5 738.4C1557.8 717.8 1572.1 697.3 1586.9 677.1C1601 658 1617.8 640.7 1630.3 620.5C1646.9 593.6 1660.7 565.1 1673.7 536.4C1689.7 501 1701 463.7 1717.1 428.5C1730 400.3 1746.2 373.7 1760.5 346.2C1775.2 318 1791.4 290.4 1803.9 261.2C1820.4 222.7 1832.8 182.6 1847.3 143.2" fill="none" stroke="#2b94b0" stroke-width="5" stroke-linecap="round" stroke-linejoin="round"/>
<g fill="#2b94b0"><circle cx="1456.7" cy="821.6" r="10.2"/><circle cx="1500.1" cy="802.4" r="10.2"/><circle cx="1543.5" cy="738.4" r="10.2"/><circle cx="1586.9" cy="677.1" r="10.2"/><circle cx="1630.3" cy="620.5" r="10.2"/><circle cx="1673.7" cy="536.4" r="10.2"/><circle cx="1717.1" cy="428.5" r="10.2"/><circle cx="1760.5" cy="346.2" r="10.2"/><circle cx="1803.9" cy="261.2" r="10.2"/><circle cx="1847.3" cy="143.2" r="10.2"/></g>
<path d="M1456.7 829.8C1471.2 817.3 1485.8 805 1500.1 792.3C1514.7 779.4 1528.3 765.3 1543.5 753C1557.3 741.8 1573.2 733.2 1586.9 721.9C1602.1 709.4 1615.8 695.1 1630.3 681.7C1644.8 668.3 1659.2 654.9 1673.7 641.5C1688.2 628.1 1703.7 615.8 1717.1 601.3C1732.7 584.3 1746.3 565.5 1760.5 547.3C1775.2 528.6 1790.1 510 1803.9 490.6C1819 469.5 1832.8 447.4 1847.3 425.7" fill="none" stroke="#e3a50d" stroke-width="5" stroke-linecap="round" stroke-linejoin="round"/>
<g fill="#e3a50d"><circle cx="1456.7" cy="829.8" r="10.2"/><circle cx="1500.1" cy="792.3" r="10.2"/><circle cx="1543.5" cy="753" r="10.2"/><circle cx="1586.9" cy="721.9" r="10.2"/><circle cx="1630.3" cy="681.7" r="10.2"/><circle cx="1673.7" cy="641.5" r="10.2"/><circle cx="1717.1" cy="601.3" r="10.2"/><circle cx="1760.5" cy="547.3" r="10.2"/><circle cx="1803.9" cy="490.6" r="10.2"/><circle cx="1847.3" cy="425.7" r="10.2"/></g>
<rect x="1435" y="18" width="434" height="868.5" fill="none" stroke="#000" stroke-width="2.6"/>
<path d="M1435 840.8h4.8M1435 749.4h10M1435 657.9h4.8M1435 566.5h10M1435 475.1h4.8M1435 383.7h10M1435 292.3h4.8M1435 200.8h10M1435 109.4h4.8M1435 18h10M1435 886.5v-10M1489.2 886.5v-4.8M1543.5 886.5v-10M1597.8 886.5v-4.8M1652 886.5v-10M1706.2 886.5v-4.8M1760.5 886.5v-10M1814.8 886.5v-4.8M1869 886.5v-10" stroke="#000" stroke-width="2.6" fill="none"/>
<text x="1422.7" y="761.4" font-size="37.8" text-anchor="end" fill="#000" ><tspan>20</tspan></text>
<text x="1422.7" y="578.5" font-size="37.8" text-anchor="end" fill="#000" ><tspan>40</tspan></text>
<text x="1422.7" y="395.7" font-size="37.8" text-anchor="end" fill="#000" ><tspan>60</tspan></text>
<text x="1422.7" y="212.8" font-size="37.8" text-anchor="end" fill="#000" ><tspan>80</tspan></text>
<text x="1422.7" y="30" font-size="37.8" text-anchor="end" fill="#000" ><tspan>100</tspan></text>
<text x="1435" y="927.6" font-size="38.5" text-anchor="middle" fill="#000" ><tspan>200</tspan></text>
<text x="1543.5" y="927.6" font-size="38.5" text-anchor="middle" fill="#000" ><tspan>250</tspan></text>
<text x="1652" y="927.6" font-size="38.5" text-anchor="middle" fill="#000" ><tspan>300</tspan></text>
<text x="1760.5" y="927.6" font-size="38.5" text-anchor="middle" fill="#000" ><tspan>350</tspan></text>
<text x="1869" y="927.6" font-size="38.5" text-anchor="middle" fill="#000" ><tspan>400</tspan></text>
<text x="1652" y="965.8" font-size="39" text-anchor="middle" fill="#000" ><tspan>Temperature (°C)</tspan></text>
<text x="1366" y="455.5" font-size="39.2" text-anchor="middle" fill="#000" transform="rotate(-90 1366 455.5)" ><tspan>CO</tspan><tspan dy="9.8" font-size="26.7">2</tspan><tspan dy="-9.8"> Conversion (%)</tspan></text>
<path d="M1487.5 67.1H1566.5" stroke="#e1534f" stroke-width="5" stroke-linecap="round"/>
<circle cx="1527" cy="67.1" r="11.5" fill="#e1534f" stroke="#fff" stroke-width="3"/>
<text x="1576" y="79" font-size="33.5" text-anchor="start" fill="#000" ><tspan>Rh</tspan><tspan dy="8.4" font-size="22.8">1</tspan><tspan dy="-8.4">-CeO</tspan><tspan dy="8.4" font-size="22.8">2</tspan></text>
<path d="M1487.5 117.7H1566.5" stroke="#2b94b0" stroke-width="5" stroke-linecap="round"/>
<circle cx="1527" cy="117.7" r="11.5" fill="#2b94b0" stroke="#fff" stroke-width="3"/>
<text x="1576" y="129.6" font-size="33.5" text-anchor="start" fill="#000" ><tspan>Rh</tspan><tspan dy="8.4" font-size="22.8">NC</tspan><tspan dy="-8.4">/CeO</tspan><tspan dy="8.4" font-size="22.8">2</tspan></text>
<path d="M1487.5 167.8H1566.5" stroke="#e3a50d" stroke-width="5" stroke-linecap="round"/>
<circle cx="1527" cy="167.8" r="11.5" fill="#e3a50d" stroke="#fff" stroke-width="3"/>
<text x="1576" y="179.7" font-size="33.5" text-anchor="start" fill="#000" ><tspan>Rh</tspan><tspan dy="8.4" font-size="22.8">NP</tspan><tspan dy="-8.4">/CeO</tspan><tspan dy="8.4" font-size="22.8">2</tspan></text>
<text x="1332.5" y="51" font-size="64" text-anchor="start" fill="#000" font-weight="bold" ><tspan>i</tspan></text>
<path d="M1456.7 1187.5C1471.2 1186.3 1486 1187.2 1500.2 1184C1515.3 1180.5 1528.2 1169.2 1543.6 1167.7C1558.3 1166.3 1572.4 1175.4 1587.1 1175.7C1601.7 1176 1616 1171.3 1630.5 1169.3C1645 1167.4 1659.5 1166.2 1674 1164.2C1688.5 1162.2 1702.8 1158.2 1717.4 1157.3C1731.9 1156.5 1746.4 1160 1760.9 1159C1775.6 1157.9 1789.6 1151.8 1804.3 1151.2C1818.9 1150.6 1833.3 1153.9 1847.8 1155.2" fill="none" stroke="#e1534f" stroke-width="5" stroke-linecap="round" stroke-linejoin="round"/>
<g fill="#e1534f"><circle cx="1456.7" cy="1187.5" r="10.2"/><circle cx="1500.2" cy="1184" r="10.2"/><circle cx="1543.6" cy="1167.7" r="10.2"/><circle cx="1587.1" cy="1175.7" r="10.2"/><circle cx="1630.5" cy="1169.3" r="10.2"/><circle cx="1674" cy="1164.2" r="10.2"/><circle cx="1717.4" cy="1157.3" r="10.2"/><circle cx="1760.9" cy="1159" r="10.2"/><circle cx="1804.3" cy="1151.2" r="10.2"/><circle cx="1847.8" cy="1155.2" r="10.2"/></g>
<path d="M1456.7 1230.8C1471.2 1207 1483 1181.4 1500.2 1159.5C1512.3 1144 1528.4 1132.3 1543.6 1119.9C1557.5 1108.6 1572.3 1098.6 1587.1 1088.5C1601.3 1078.9 1614.5 1067.2 1630.5 1061C1644.2 1055.7 1659.4 1055.4 1674 1054.8C1688.5 1054.3 1703 1056.6 1717.4 1057.9C1731.9 1059.2 1746.3 1063.5 1760.9 1062.6C1775.7 1061.7 1789.5 1053.1 1804.3 1052.7C1819 1052.4 1833.3 1057.9 1847.8 1060.5" fill="none" stroke="#2b94b0" stroke-width="5" stroke-linecap="round" stroke-linejoin="round"/>
<g fill="#2b94b0"><circle cx="1456.7" cy="1230.8" r="10.2"/><circle cx="1500.2" cy="1159.5" r="10.2"/><circle cx="1543.6" cy="1119.9" r="10.2"/><circle cx="1587.1" cy="1088.5" r="10.2"/><circle cx="1630.5" cy="1061" r="10.2"/><circle cx="1674" cy="1054.8" r="10.2"/><circle cx="1717.4" cy="1057.9" r="10.2"/><circle cx="1760.9" cy="1062.6" r="10.2"/><circle cx="1804.3" cy="1052.7" r="10.2"/><circle cx="1847.8" cy="1060.5" r="10.2"/></g>
<path d="M1456.7 1810.9C1471.2 1715.7 1482.6 1620 1500.2 1525.3C1511.6 1464.2 1526.5 1403.7 1543.6 1343.9C1555.5 1302.3 1564.7 1258.5 1587.1 1221.4C1595.4 1207.6 1615.9 1206.7 1630.5 1200C1644.8 1193.4 1658.4 1183.6 1674 1181.4C1688.5 1179.3 1703 1184.9 1717.4 1187.5C1732 1190.1 1746.1 1198.4 1760.9 1196.9C1776.5 1195.3 1788.6 1179.5 1804.3 1178.8C1819.5 1178 1833.3 1188 1847.8 1192.7" fill="none" stroke="#e3a50d" stroke-width="5" stroke-linecap="round" stroke-linejoin="round"/>
<g fill="#e3a50d"><circle cx="1456.7" cy="1810.9" r="10.2"/><circle cx="1500.2" cy="1525.3" r="10.2"/><circle cx="1543.6" cy="1343.9" r="10.2"/><circle cx="1587.1" cy="1221.4" r="10.2"/><circle cx="1630.5" cy="1200" r="10.2"/><circle cx="1674" cy="1181.4" r="10.2"/><circle cx="1717.4" cy="1187.5" r="10.2"/><circle cx="1760.9" cy="1196.9" r="10.2"/><circle cx="1804.3" cy="1178.8" r="10.2"/><circle cx="1847.8" cy="1192.7" r="10.2"/></g>
<path d="M1869.5 994.3H1435V1866H1869.5" fill="none" stroke="#000" stroke-width="2.6"/>
<path d="M1435 1818.9h4.8M1435 1701.1h10M1435 1583.3h4.8M1435 1465.5h10M1435 1347.7h4.8M1435 1229.9h10M1435 1112.1h4.8M1435 994.3h10M1435 1866v-10M1489.3 1866v-4.8M1543.6 1866v-10M1597.9 1866v-4.8M1652.2 1866v-10M1706.6 1866v-4.8M1760.9 1866v-10M1815.2 1866v-4.8M1869.5 1866v-10" stroke="#000" stroke-width="2.6" fill="none"/>
<path d="M1869.5 993V1867.3M1869.5 1818.9h-4.8M1869.5 1701.1h-10M1869.5 1583.3h-4.8M1869.5 1465.5h-10M1869.5 1347.7h-4.8M1869.5 1229.9h-10M1869.5 1112.1h-4.8M1869.5 994.3h-10" stroke="#e1534f" stroke-width="2.6" fill="none"/>
<text x="1422.7" y="1713.1" font-size="37.8" text-anchor="end" fill="#000" ><tspan>70</tspan></text>
<text x="1880.5" y="1713.9" font-size="37.8" text-anchor="start" fill="#e1534f" ><tspan>70</tspan></text>
<text x="1422.7" y="1477.5" font-size="37.8" text-anchor="end" fill="#000" ><tspan>80</tspan></text>
<text x="1880.5" y="1478.3" font-size="37.8" text-anchor="start" fill="#e1534f" ><tspan>80</tspan></text>
<text x="1422.7" y="1241.9" font-size="37.8" text-anchor="end" fill="#000" ><tspan>90</tspan></text>
<text x="1880.5" y="1242.7" font-size="37.8" text-anchor="start" fill="#e1534f" ><tspan>90</tspan></text>
<text x="1422.7" y="1006.3" font-size="37.8" text-anchor="end" fill="#000" ><tspan>100</tspan></text>
<text x="1880.5" y="1007.1" font-size="37.8" text-anchor="start" fill="#e1534f" ><tspan>100</tspan></text>
<text x="1435" y="1907" font-size="38.5" text-anchor="middle" fill="#000" ><tspan>200</tspan></text>
<text x="1543.6" y="1907" font-size="38.5" text-anchor="middle" fill="#000" ><tspan>250</tspan></text>
<text x="1652.2" y="1907" font-size="38.5" text-anchor="middle" fill="#000" ><tspan>300</tspan></text>
<text x="1760.9" y="1907" font-size="38.5" text-anchor="middle" fill="#000" ><tspan>350</tspan></text>
<text x="1869.5" y="1907" font-size="38.5" text-anchor="middle" fill="#000" ><tspan>400</tspan></text>
<text x="1652" y="1945" font-size="39" text-anchor="middle" fill="#000" ><tspan>Temperature (°C)</tspan></text>
<text x="1370.5" y="1459" font-size="39.2" text-anchor="middle" fill="#000" transform="rotate(-90 1370.5 1459)" ><tspan>CH</tspan><tspan dy="9.8" font-size="26.7">4</tspan><tspan dy="-9.8"> Selectivity (%)</tspan></text>
<text x="1968" y="1453" font-size="39.3" text-anchor="middle" fill="#e1534f" transform="rotate(-90 1968 1453)" ><tspan>CO Selectivity (%) of Rh</tspan><tspan dy="9.8" font-size="26.7">1</tspan><tspan dy="-9.8">-CeO</tspan><tspan dy="9.8" font-size="26.7">2</tspan></text>
<path d="M1503.5 1689.2H1582.5" stroke="#e1534f" stroke-width="5" stroke-linecap="round"/>
<circle cx="1543" cy="1689.2" r="11.5" fill="#e1534f" stroke="#fff" stroke-width="3"/>
<text x="1591.2" y="1700.8" font-size="33.5" text-anchor="start" fill="#000" ><tspan>Rh</tspan><tspan dy="8.4" font-size="22.8">1</tspan><tspan dy="-8.4">-CeO</tspan><tspan dy="8.4" font-size="22.8">2</tspan><tspan dy="-8.4">(S</tspan><tspan dy="8.4" font-size="22.8">CO</tspan><tspan dy="-8.4">)</tspan></text>
<path d="M1503.5 1739.5H1582.5" stroke="#2b94b0" stroke-width="5" stroke-linecap="round"/>
<circle cx="1543" cy="1739.5" r="11.5" fill="#2b94b0" stroke="#fff" stroke-width="3"/>
<text x="1591.2" y="1751.1" font-size="33.5" text-anchor="start" fill="#000" ><tspan>Rh</tspan><tspan dy="8.4" font-size="22.8">NC</tspan><tspan dy="-8.4">/CeO</tspan><tspan dy="8.4" font-size="22.8">2</tspan><tspan dy="-8.4">(S</tspan><tspan dy="8.4" font-size="22.8">CH</tspan><tspan dy="4.4" font-size="16.8">4</tspan><tspan dy="-12.7">)</tspan></text>
<path d="M1503.5 1794.6H1582.5" stroke="#e3a50d" stroke-width="5" stroke-linecap="round"/>
<circle cx="1543" cy="1794.6" r="11.5" fill="#e3a50d" stroke="#fff" stroke-width="3"/>
<text x="1591.2" y="1806.2" font-size="33.5" text-anchor="start" fill="#000" ><tspan>Rh</tspan><tspan dy="8.4" font-size="22.8">NP</tspan><tspan dy="-8.4">/CeO</tspan><tspan dy="8.4" font-size="22.8">2</tspan><tspan dy="-8.4">(S</tspan><tspan dy="8.4" font-size="22.8">CH</tspan><tspan dy="4.4" font-size="16.8">4</tspan><tspan dy="-12.7">)</tspan></text>
<text x="1334.5" y="1032.3" font-size="64" text-anchor="start" fill="#000" font-weight="bold" ><tspan>j</tspan></text></svg></body></html>
